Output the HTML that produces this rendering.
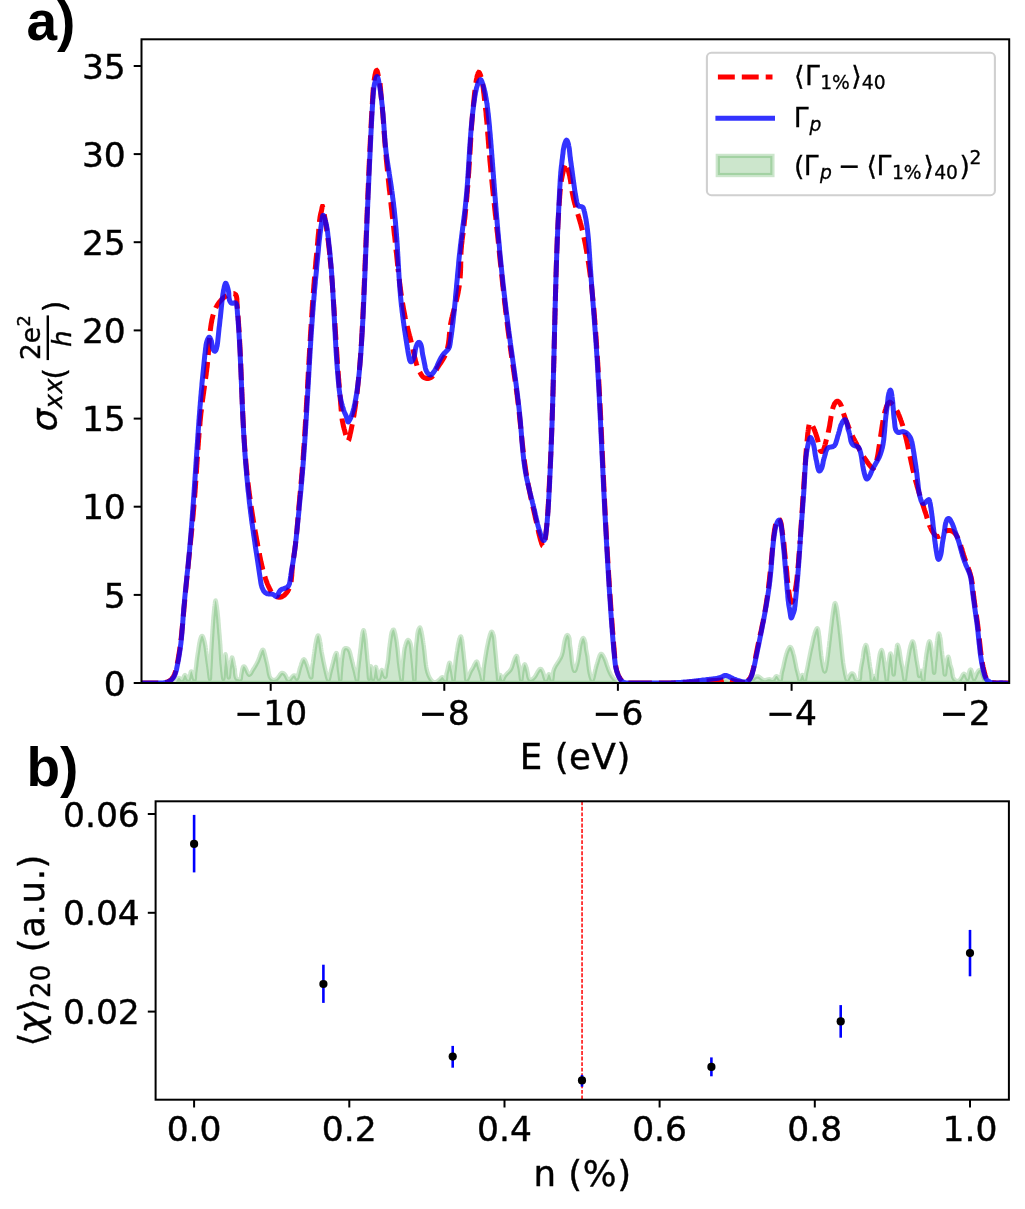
<!DOCTYPE html>
<html><head><meta charset="utf-8"><title>figure</title>
<style>html,body{margin:0;padding:0;background:#fff}svg{display:block}</style>
</head><body>
<svg width="1025" height="1209" viewBox="0 0 1025 1209">
<rect width="1025" height="1209" fill="#fff"/>
<defs><clipPath id="c1"><rect x="141.5" y="39.3" width="867.7" height="643.7"/></clipPath></defs>
<g clip-path="url(#c1)">
<path d="M173.0 683.0L174.0 683.2 175.0 682.8 175.8 682.0 176.5 680.9 177.1 679.8 177.8 678.8 178.4 678.1 179.0 677.8 179.6 678.1 180.3 678.9 181.0 679.7 181.6 680.2 182.2 680.1 182.7 679.4 183.2 678.3 183.7 677.1 184.1 675.9 184.6 675.2 185.0 674.9 185.5 675.4 186.1 676.3 186.6 677.5 187.1 678.7 187.6 679.6 188.1 680.1 188.5 680.0 188.8 679.3 189.2 678.2 189.5 676.9 189.8 675.5 190.2 674.1 190.5 672.8 190.8 671.9 191.2 671.3 191.5 671.3 191.9 671.8 192.2 672.7 192.5 673.9 192.9 675.3 193.3 676.6 193.6 677.9 194.0 678.9 194.3 679.6 194.5 679.7 194.7 679.3 194.9 678.5 195.0 677.4 195.0 676.1 195.1 674.7 195.2 673.5 195.3 672.4 195.5 671.4 195.6 670.4 195.7 669.5 195.8 668.6 195.9 667.6 196.1 666.7 196.2 665.7 196.3 664.7 196.4 663.7 196.5 662.7 196.6 661.7 196.7 660.7 196.9 659.7 197.0 658.7 197.1 657.7 197.3 656.7 197.4 655.7 197.6 654.7 197.7 653.7 197.9 652.7 198.1 651.7 198.2 650.7 198.4 649.8 198.5 648.8 198.6 647.9 198.8 646.9 198.9 646.0 199.1 645.0 199.2 644.0 199.4 643.0 199.7 641.8 199.9 640.5 200.3 639.2 200.7 638.0 201.0 637.0 201.5 636.2 201.9 635.8 202.3 635.8 202.7 636.3 203.1 637.1 203.5 638.2 203.9 639.3 204.2 640.4 204.5 641.4 204.7 642.5 204.9 643.5 205.1 644.4 205.3 645.4 205.5 646.4 205.6 647.3 205.8 648.3 205.9 649.2 206.0 650.2 206.1 651.1 206.3 652.1 206.4 653.1 206.5 654.1 206.6 655.1 206.8 656.1 206.9 657.2 207.1 658.2 207.2 659.3 207.3 660.3 207.5 661.3 207.6 662.3 207.7 663.2 207.9 664.2 208.0 665.1 208.1 666.0 208.3 666.9 208.4 667.8 208.5 668.8 208.7 669.8 208.8 670.8 208.9 671.9 209.1 673.1 209.2 674.3 209.4 675.6 209.5 676.8 209.7 677.8 209.8 678.6 209.9 678.9 210.0 678.7 210.0 678.2 210.1 677.2 210.1 676.1 210.2 674.8 210.2 673.4 210.2 672.1 210.3 670.9 210.3 669.7 210.4 668.7 210.5 667.7 210.5 666.8 210.6 665.9 210.6 664.9 210.7 664.0 210.7 663.1 210.8 662.1 210.8 661.1 210.9 660.1 210.9 659.1 211.0 658.2 211.0 657.2 211.0 656.2 211.1 655.2 211.1 654.2 211.2 653.1 211.2 652.1 211.3 651.1 211.3 650.1 211.4 649.1 211.5 648.1 211.5 647.1 211.6 646.1 211.6 645.1 211.7 644.0 211.7 643.0 211.8 642.0 211.9 641.0 211.9 640.0 212.0 639.0 212.0 638.0 212.1 637.0 212.2 636.0 212.2 635.0 212.3 634.0 212.4 633.0 212.4 632.0 212.5 631.0 212.5 630.0 212.6 629.0 212.7 628.0 212.7 627.0 212.8 626.1 212.9 625.1 212.9 624.1 213.0 623.1 213.1 622.2 213.1 621.2 213.2 620.3 213.3 619.3 213.4 618.3 213.4 617.4 213.5 616.4 213.6 615.4 213.7 614.4 213.8 613.4 213.9 612.4 214.0 611.3 214.1 610.3 214.2 609.2 214.3 608.1 214.4 607.0 214.6 605.8 214.7 604.7 214.9 603.5 215.0 602.3 215.2 601.4 215.4 600.7 215.6 600.4 215.7 600.6 215.9 601.2 216.1 602.1 216.3 603.3 216.5 604.5 216.7 605.6 216.8 606.7 217.0 607.7 217.1 608.7 217.2 609.7 217.4 610.6 217.5 611.6 217.6 612.6 217.7 613.5 217.8 614.5 217.9 615.5 218.0 616.5 218.1 617.5 218.2 618.5 218.3 619.5 218.4 620.5 218.4 621.5 218.5 622.5 218.6 623.5 218.7 624.6 218.8 625.6 218.8 626.6 218.9 627.6 219.0 628.6 219.1 629.6 219.2 630.6 219.2 631.6 219.3 632.5 219.4 633.5 219.5 634.5 219.6 635.5 219.7 636.5 219.7 637.4 219.8 638.4 219.9 639.4 220.0 640.4 220.1 641.4 220.1 642.4 220.2 643.4 220.3 644.4 220.4 645.4 220.4 646.4 220.5 647.5 220.5 648.5 220.6 649.5 220.7 650.5 220.7 651.6 220.8 652.6 220.8 653.6 220.9 654.6 221.0 655.6 221.0 656.6 221.1 657.6 221.1 658.6 221.2 659.5 221.3 660.5 221.4 661.4 221.4 662.3 221.5 663.2 221.6 664.2 221.7 665.1 221.8 666.1 221.9 667.0 222.0 668.1 222.1 669.1 222.2 670.2 222.3 671.4 222.5 672.6 222.6 673.9 222.8 675.2 222.9 676.5 223.1 677.5 223.2 678.3 223.3 678.8 223.5 678.8 223.5 678.4 223.6 677.6 223.7 676.5 223.8 675.3 223.9 674.0 223.9 672.7 224.0 671.6 224.1 670.5 224.2 669.4 224.3 668.5 224.3 667.6 224.4 666.7 224.5 665.8 224.6 664.9 224.7 664.0 224.8 663.1 224.9 662.0 224.9 660.8 225.0 659.5 225.1 658.2 225.1 656.8 225.2 655.7 225.3 654.8 225.4 654.2 225.5 654.2 225.7 654.7 225.9 655.5 226.0 656.7 226.2 658.0 226.4 659.3 226.6 660.5 226.7 661.6 226.9 662.6 227.0 663.5 227.2 664.4 227.3 665.3 227.4 666.1 227.6 667.0 227.7 668.0 227.8 669.0 227.9 670.0 228.0 671.2 228.1 672.6 228.2 673.9 228.3 675.2 228.4 676.3 228.5 677.1 228.6 677.5 228.8 677.5 228.9 677.0 229.0 676.1 229.2 674.9 229.3 673.6 229.4 672.3 229.5 671.0 229.6 669.8 229.7 668.8 229.9 667.8 230.0 666.9 230.1 666.0 230.3 665.1 230.5 664.2 230.7 663.2 230.9 662.2 231.1 661.1 231.4 659.9 231.6 658.7 231.8 657.9 232.0 657.4 232.3 657.6 232.5 658.2 232.8 659.2 233.1 660.4 233.3 661.8 233.6 663.1 233.8 664.4 234.0 665.4 234.3 666.4 234.5 667.2 234.6 668.1 234.8 669.0 234.9 670.0 235.0 671.1 235.0 672.3 235.1 673.4 235.3 674.5 235.4 675.6 235.6 676.6 235.9 677.4 236.2 678.2 236.6 678.7 237.1 679.0 237.7 679.2 238.4 679.3 239.1 679.6 239.8 679.7 240.3 679.5 240.7 679.0 240.9 678.1 241.0 677.1 241.1 676.1 241.2 675.0 241.4 674.0 241.6 673.0 241.8 671.9 242.0 670.8 242.2 669.6 242.5 668.4 242.9 667.3 243.3 666.6 243.8 666.3 244.4 666.5 245.0 667.2 245.6 668.2 246.2 669.4 246.7 670.6 247.2 671.8 247.7 672.9 248.2 673.8 248.7 674.5 249.2 674.8 249.7 674.6 250.3 674.1 250.9 673.4 251.5 672.4 252.1 671.3 252.7 670.2 253.3 669.2 253.9 668.3 254.5 667.4 255.0 666.5 255.5 665.6 256.0 664.8 256.4 664.0 256.8 663.3 257.2 662.5 257.6 661.7 258.0 660.9 258.3 660.1 258.7 659.2 259.0 658.2 259.4 657.2 259.8 656.1 260.2 654.9 260.6 653.7 261.0 652.6 261.5 651.5 261.9 650.7 262.3 650.0 262.7 649.7 263.1 649.7 263.5 650.1 263.8 650.8 264.1 651.7 264.4 652.8 264.7 653.9 265.0 655.1 265.2 656.2 265.5 657.2 265.7 658.3 266.0 659.2 266.2 660.2 266.4 661.2 266.7 662.1 266.9 663.0 267.1 663.9 267.3 664.8 267.5 665.8 267.7 666.7 267.9 667.7 268.1 668.7 268.2 669.7 268.4 670.8 268.6 671.9 268.8 673.0 269.0 674.1 269.3 675.1 269.6 676.1 269.9 677.0 270.4 677.9 270.9 678.6 271.5 679.2 272.2 679.6 273.1 679.9 274.0 679.9 274.9 679.8 275.9 679.5 276.7 678.9 277.5 678.1 278.2 677.2 278.9 676.2 279.6 675.2 280.2 674.3 280.9 673.6 281.6 673.1 282.3 672.8 283.0 673.0 283.8 673.4 284.6 674.1 285.3 675.0 285.9 676.1 286.5 677.3 287.0 678.4 287.5 679.3 288.0 680.0 288.6 680.2 289.2 680.0 289.9 679.4 290.7 678.5 291.5 677.5 292.3 676.5 293.1 675.8 293.9 675.3 294.7 675.4 295.3 676.1 295.8 677.0 296.2 678.0 296.6 678.6 297.0 678.6 297.3 678.0 297.7 677.0 298.0 675.8 298.3 674.6 298.6 673.6 298.8 672.6 299.1 671.6 299.3 670.7 299.5 669.7 299.8 668.8 300.0 667.9 300.3 667.0 300.6 666.1 300.9 665.1 301.2 664.0 301.6 662.9 302.1 661.8 302.5 660.7 303.0 659.8 303.6 659.3 304.1 659.2 304.6 659.7 305.1 660.5 305.6 661.6 306.1 662.7 306.5 663.8 306.9 664.8 307.2 665.8 307.5 666.7 307.8 667.6 308.1 668.5 308.3 669.4 308.6 670.3 308.9 671.3 309.2 672.3 309.5 673.3 309.8 674.5 310.2 675.6 310.5 676.6 310.9 677.3 311.1 677.5 311.4 677.2 311.5 676.4 311.6 675.3 311.7 674.0 311.8 672.6 311.9 671.3 311.9 670.0 312.0 668.9 312.2 667.9 312.3 666.9 312.4 666.0 312.5 665.1 312.7 664.2 312.8 663.3 313.0 662.3 313.1 661.3 313.2 660.4 313.4 659.4 313.5 658.4 313.6 657.4 313.8 656.4 313.9 655.3 314.0 654.3 314.2 653.3 314.3 652.3 314.5 651.3 314.6 650.3 314.7 649.3 314.9 648.3 315.0 647.4 315.2 646.4 315.3 645.5 315.4 644.6 315.6 643.6 315.8 642.7 316.0 641.7 316.2 640.6 316.5 639.3 316.8 638.1 317.1 636.9 317.5 636.0 317.9 635.4 318.3 635.4 318.6 635.8 319.0 636.6 319.3 637.7 319.6 639.0 319.9 640.3 320.1 641.6 320.3 642.7 320.5 643.7 320.6 644.6 320.7 645.6 320.8 646.4 320.9 647.3 321.1 648.3 321.2 649.3 321.4 650.3 321.5 651.3 321.7 652.4 321.9 653.4 322.1 654.4 322.3 655.5 322.5 656.5 322.7 657.4 322.9 658.4 323.1 659.3 323.2 660.3 323.4 661.2 323.6 662.1 323.8 663.0 324.0 663.9 324.2 664.9 324.4 665.8 324.6 666.7 324.8 667.7 325.0 668.7 325.3 669.7 325.5 670.7 325.8 671.8 326.0 672.9 326.3 674.1 326.6 675.3 326.9 676.5 327.2 677.6 327.5 678.6 327.9 679.4 328.2 679.9 328.5 679.9 328.8 679.5 329.0 678.8 329.3 677.7 329.6 676.5 329.8 675.3 330.1 674.1 330.3 673.0 330.6 672.0 330.8 671.1 331.0 670.1 331.3 669.2 331.5 668.3 331.8 667.4 332.0 666.4 332.3 665.5 332.5 664.5 332.8 663.5 333.1 662.6 333.3 661.6 333.6 660.6 333.8 659.6 334.0 658.7 334.3 657.7 334.6 656.6 334.9 655.5 335.3 654.5 335.8 653.6 336.2 653.0 336.6 653.1 336.9 653.6 337.1 654.5 337.3 655.6 337.5 656.9 337.7 658.0 337.8 659.2 338.0 660.3 338.1 661.3 338.2 662.3 338.3 663.3 338.4 664.3 338.4 665.2 338.5 666.2 338.6 667.1 338.7 668.0 338.8 669.0 338.9 669.9 339.0 670.9 339.2 671.9 339.3 672.9 339.5 674.0 339.6 675.1 339.7 676.3 339.9 677.6 340.0 678.7 340.1 679.5 340.2 680.0 340.3 679.9 340.4 679.4 340.5 678.5 340.5 677.4 340.6 676.1 340.7 674.8 340.8 673.5 340.9 672.3 341.0 671.2 341.1 670.1 341.1 669.1 341.2 668.1 341.3 667.1 341.4 666.2 341.5 665.3 341.6 664.4 341.6 663.5 341.7 662.6 341.8 661.6 341.9 660.7 342.0 659.7 342.1 658.8 342.3 657.7 342.4 656.7 342.5 655.7 342.7 654.6 342.9 653.5 343.1 652.3 343.3 651.2 343.6 650.1 344.0 649.3 344.5 648.6 345.2 648.2 345.9 648.1 346.7 648.2 347.5 648.5 348.2 649.0 348.8 649.7 349.2 650.6 349.7 651.5 350.0 652.5 350.3 653.6 350.6 654.7 350.8 655.8 351.1 656.8 351.3 657.8 351.6 658.8 351.8 659.8 352.1 660.8 352.3 661.8 352.5 662.7 352.8 663.7 353.0 664.6 353.2 665.5 353.4 666.5 353.7 667.4 353.9 668.3 354.2 669.2 354.4 670.1 354.7 671.1 354.9 672.0 355.2 673.1 355.4 674.2 355.7 675.5 356.0 676.8 356.3 678.0 356.5 679.0 356.8 679.8 357.0 680.1 357.1 680.0 357.3 679.4 357.4 678.4 357.5 677.3 357.6 676.0 357.6 674.6 357.7 673.3 357.8 672.2 358.0 671.1 358.1 670.1 358.2 669.2 358.3 668.3 358.4 667.4 358.5 666.5 358.6 665.5 358.7 664.5 358.8 663.6 358.9 662.6 359.0 661.6 359.2 660.6 359.3 659.5 359.4 658.5 359.5 657.5 359.6 656.5 359.7 655.5 359.8 654.5 360.0 653.5 360.1 652.5 360.2 651.5 360.3 650.5 360.4 649.5 360.6 648.5 360.7 647.5 360.8 646.5 360.9 645.5 361.0 644.6 361.1 643.6 361.2 642.7 361.3 641.8 361.4 640.9 361.5 639.9 361.6 638.9 361.7 637.8 361.9 636.7 362.1 635.4 362.3 634.1 362.6 632.8 362.8 631.6 363.1 630.7 363.4 630.1 363.7 630.1 363.9 630.5 364.2 631.4 364.4 632.5 364.7 633.7 364.9 634.8 365.0 635.9 365.2 636.9 365.3 637.9 365.5 638.9 365.6 639.8 365.7 640.8 365.8 641.7 365.9 642.7 366.0 643.6 366.1 644.6 366.1 645.6 366.2 646.6 366.3 647.6 366.4 648.6 366.5 649.7 366.6 650.7 366.7 651.7 366.8 652.8 366.9 653.8 367.0 654.8 367.1 655.8 367.2 656.8 367.2 657.8 367.3 658.8 367.4 659.8 367.5 660.7 367.6 661.7 367.7 662.6 367.8 663.5 367.9 664.5 367.9 665.4 368.0 666.3 368.1 667.3 368.2 668.3 368.3 669.4 368.4 670.5 368.4 671.6 368.5 672.8 368.6 674.1 368.7 675.4 368.8 676.6 368.9 677.6 369.0 678.4 369.1 678.8 369.2 678.8 369.3 678.4 369.4 677.6 369.5 676.6 369.7 675.3 369.8 673.9 369.9 672.4 370.1 671.0 370.2 669.6 370.3 668.3 370.5 667.3 370.6 666.6 370.8 666.2 370.9 666.3 371.1 666.8 371.3 667.6 371.5 668.7 371.6 670.0 371.8 671.4 372.0 672.9 372.1 674.3 372.3 675.7 372.5 676.9 372.7 677.9 372.8 678.6 373.0 679.0 373.2 678.9 373.5 678.4 373.7 677.5 373.9 676.4 374.1 675.1 374.3 673.7 374.6 672.2 374.8 670.8 375.0 669.5 375.2 668.4 375.4 667.5 375.6 667.0 375.9 666.9 376.1 667.2 376.3 668.0 376.6 669.0 376.8 670.2 377.1 671.6 377.3 673.0 377.5 674.5 377.8 675.9 378.0 677.1 378.2 678.1 378.5 678.8 378.8 679.0 379.0 678.8 379.4 678.1 379.7 677.0 380.0 675.8 380.3 674.4 380.6 673.0 381.0 671.7 381.3 670.7 381.6 670.0 381.9 669.9 382.3 670.3 382.7 671.2 383.2 672.3 383.6 673.6 384.0 674.9 384.5 675.9 384.9 676.6 385.2 676.9 385.5 676.6 385.7 675.9 385.9 674.9 386.0 673.6 386.2 672.3 386.3 670.9 386.4 669.6 386.6 668.4 386.8 667.4 387.0 666.4 387.1 665.5 387.3 664.6 387.5 663.7 387.7 662.8 387.8 661.8 387.9 660.9 388.1 659.9 388.2 658.9 388.3 657.9 388.4 656.9 388.5 655.9 388.6 654.9 388.7 653.8 388.8 652.8 388.9 651.8 389.0 650.8 389.1 649.8 389.2 648.8 389.3 647.8 389.5 646.9 389.6 645.9 389.7 644.9 389.8 643.9 390.0 642.9 390.1 642.0 390.2 641.0 390.4 640.0 390.5 639.0 390.7 638.0 390.8 637.0 390.9 636.0 391.1 635.0 391.3 634.0 391.5 632.9 391.8 631.9 392.3 630.9 392.7 630.1 393.2 629.6 393.7 629.7 394.1 630.2 394.4 631.1 394.7 632.2 395.0 633.3 395.3 634.4 395.5 635.5 395.7 636.6 395.9 637.6 396.1 638.6 396.3 639.6 396.5 640.6 396.6 641.6 396.8 642.6 396.9 643.5 397.0 644.5 397.1 645.5 397.2 646.4 397.4 647.4 397.5 648.3 397.6 649.3 397.7 650.3 397.8 651.3 397.9 652.3 398.0 653.3 398.1 654.3 398.2 655.3 398.3 656.3 398.4 657.3 398.5 658.3 398.6 659.3 398.7 660.4 398.8 661.4 398.9 662.4 399.0 663.4 399.2 664.4 399.3 665.4 399.4 666.3 399.5 667.3 399.7 668.3 399.8 669.2 399.9 670.2 400.1 671.1 400.2 672.1 400.4 673.1 400.5 674.2 400.7 675.4 400.9 676.6 401.1 677.8 401.3 678.8 401.4 679.5 401.6 679.9 401.7 679.8 401.8 679.3 401.9 678.5 402.0 677.5 402.0 676.3 402.1 675.0 402.2 673.7 402.2 672.5 402.3 671.3 402.4 670.2 402.4 669.1 402.5 668.0 402.6 667.0 402.7 666.0 402.7 665.0 402.8 664.0 402.9 663.0 403.0 662.1 403.1 661.2 403.2 660.2 403.3 659.3 403.4 658.4 403.5 657.5 403.6 656.5 403.7 655.6 403.8 654.6 403.9 653.6 404.0 652.7 404.1 651.7 404.3 650.6 404.4 649.6 404.6 648.6 404.8 647.5 405.1 646.5 405.4 645.4 405.7 644.4 406.0 643.3 406.4 642.2 406.8 641.2 407.3 640.4 407.8 639.9 408.4 639.9 408.9 640.4 409.5 641.2 410.0 642.2 410.4 643.3 410.7 644.3 410.9 645.3 411.0 646.3 411.2 647.2 411.3 648.2 411.4 649.2 411.5 650.2 411.6 651.2 411.7 652.2 411.8 653.2 412.0 654.3 412.1 655.3 412.2 656.3 412.3 657.3 412.4 658.4 412.5 659.4 412.6 660.4 412.7 661.3 412.8 662.3 412.9 663.2 413.0 664.2 413.1 665.1 413.1 666.0 413.2 666.9 413.3 667.8 413.4 668.8 413.5 669.8 413.6 670.9 413.6 672.0 413.7 673.1 413.8 674.4 413.9 675.7 414.0 677.0 414.1 678.2 414.2 679.3 414.3 680.0 414.4 680.3 414.4 680.2 414.5 679.7 414.6 678.7 414.6 677.6 414.6 676.3 414.7 675.0 414.7 673.8 414.8 672.7 414.8 671.7 414.8 670.7 414.9 669.8 414.9 668.8 415.0 667.9 415.0 666.9 415.1 665.9 415.2 664.9 415.2 663.9 415.3 662.9 415.3 661.9 415.4 660.9 415.4 659.9 415.4 658.9 415.5 657.9 415.5 656.9 415.5 655.9 415.6 654.9 415.6 653.9 415.6 652.9 415.7 651.9 415.7 650.9 415.8 649.9 415.9 648.9 415.9 647.9 416.0 646.9 416.1 645.9 416.2 644.9 416.3 643.9 416.4 642.9 416.6 641.9 416.7 641.0 416.8 640.0 416.9 639.0 417.0 638.0 417.1 637.0 417.2 636.0 417.3 635.0 417.4 634.0 417.6 633.0 417.8 632.0 418.0 630.9 418.4 629.8 418.8 628.8 419.3 628.0 419.7 627.5 420.1 627.5 420.4 628.0 420.7 628.8 421.0 629.8 421.2 630.8 421.4 631.9 421.7 633.0 421.9 634.1 422.1 635.1 422.3 636.2 422.4 637.2 422.6 638.2 422.8 639.2 422.9 640.3 423.1 641.3 423.2 642.3 423.4 643.3 423.5 644.3 423.7 645.3 423.8 646.3 423.9 647.2 424.0 648.2 424.1 649.2 424.3 650.2 424.4 651.1 424.5 652.1 424.6 653.1 424.7 654.1 424.8 655.0 424.9 656.0 425.0 657.0 425.1 658.0 425.2 658.9 425.3 659.9 425.4 660.9 425.5 661.9 425.7 662.9 425.8 663.9 425.9 664.8 426.1 665.8 426.2 666.8 426.4 667.8 426.6 668.8 426.8 669.8 427.1 670.8 427.3 671.8 427.6 672.8 428.0 673.8 428.3 674.7 428.7 675.7 429.2 676.7 429.7 677.7 430.2 678.6 430.7 679.5 431.3 680.3 432.0 681.0 432.7 681.5 433.4 682.0 434.2 682.2 435.0 682.3 435.9 682.1 436.8 681.7 437.8 681.1 438.8 680.2 439.8 679.2 440.6 678.4 441.2 677.7 441.8 677.3 442.2 677.1 442.7 677.3 443.2 677.8 443.8 678.6 444.5 679.6 445.1 680.3 445.5 680.3 445.9 679.7 446.1 678.6 446.2 677.2 446.3 675.9 446.4 674.7 446.6 673.7 446.7 672.9 447.0 672.1 447.2 671.2 447.4 670.3 447.7 669.1 448.0 667.8 448.2 666.5 448.5 665.3 448.8 664.2 449.1 663.3 449.4 662.7 449.6 662.6 449.9 662.9 450.2 663.6 450.4 664.5 450.7 665.6 450.9 666.6 451.1 667.6 451.3 668.5 451.6 669.5 451.8 670.4 452.0 671.4 452.2 672.3 452.3 673.4 452.5 674.5 452.7 675.8 452.9 677.0 453.1 678.2 453.2 679.2 453.4 679.9 453.5 680.1 453.6 679.8 453.8 679.1 453.9 678.0 454.0 676.8 454.1 675.4 454.2 674.1 454.3 672.9 454.4 671.8 454.6 670.7 454.7 669.8 454.8 668.9 454.9 668.0 455.0 667.0 455.1 666.1 455.2 665.1 455.3 664.2 455.4 663.2 455.5 662.2 455.6 661.2 455.7 660.1 455.9 659.1 456.0 658.1 456.1 657.1 456.3 656.1 456.4 655.1 456.6 654.1 456.7 653.1 456.9 652.1 457.1 651.1 457.2 650.2 457.3 649.2 457.5 648.3 457.6 647.4 457.8 646.4 457.9 645.5 458.1 644.5 458.3 643.4 458.6 642.4 458.8 641.2 459.1 640.0 459.5 638.8 459.8 637.8 460.2 636.9 460.5 636.5 460.9 636.4 461.2 636.9 461.5 637.7 461.7 638.7 462.0 639.9 462.2 641.3 462.4 642.6 462.5 643.8 462.6 644.9 462.7 645.9 462.8 646.8 462.9 647.7 463.0 648.7 463.1 649.6 463.2 650.6 463.4 651.6 463.5 652.6 463.6 653.6 463.7 654.6 463.8 655.6 463.9 656.6 464.0 657.6 464.1 658.6 464.2 659.6 464.4 660.6 464.5 661.6 464.6 662.6 464.7 663.6 464.8 664.6 464.9 665.6 465.0 666.5 465.1 667.5 465.2 668.5 465.3 669.5 465.4 670.5 465.5 671.4 465.6 672.4 465.7 673.5 465.8 674.6 465.9 675.8 465.9 676.9 466.0 678.1 466.1 679.0 466.3 679.7 466.5 680.0 466.9 679.8 467.2 679.3 467.7 678.5 468.2 677.5 468.7 676.3 469.2 675.0 469.7 673.7 470.2 672.5 470.7 671.4 471.2 670.5 471.6 669.9 472.0 669.3 472.4 668.7 472.8 667.9 473.3 667.0 473.9 665.8 474.4 664.6 475.0 663.5 475.6 662.5 476.1 661.8 476.6 661.5 477.0 661.7 477.4 662.3 477.7 663.2 478.0 664.3 478.3 665.4 478.6 666.5 478.9 667.5 479.2 668.5 479.5 669.4 479.8 670.3 480.1 671.1 480.4 672.1 480.6 673.0 480.9 674.1 481.2 675.2 481.5 676.4 481.7 677.7 482.0 678.8 482.2 679.7 482.4 680.1 482.6 679.9 482.8 679.3 482.9 678.2 483.0 677.0 483.1 675.7 483.2 674.4 483.3 673.3 483.4 672.3 483.5 671.3 483.5 670.4 483.6 669.5 483.7 668.5 483.8 667.6 484.0 666.6 484.1 665.6 484.2 664.6 484.4 663.6 484.5 662.6 484.7 661.6 484.8 660.6 485.0 659.5 485.1 658.5 485.3 657.5 485.5 656.5 485.6 655.5 485.8 654.5 486.0 653.5 486.1 652.5 486.3 651.6 486.4 650.6 486.6 649.7 486.8 648.8 486.9 647.9 487.1 646.9 487.3 646.0 487.5 645.1 487.7 644.1 487.9 643.2 488.1 642.2 488.3 641.2 488.6 640.1 488.8 639.1 489.1 638.0 489.4 636.8 489.7 635.7 490.0 634.5 490.4 633.5 490.7 632.6 491.1 632.0 491.5 631.6 491.9 631.6 492.3 632.1 492.7 632.8 493.0 633.7 493.4 634.7 493.7 635.7 493.9 636.8 494.1 637.8 494.2 638.8 494.3 639.8 494.4 640.8 494.5 641.8 494.6 642.8 494.6 643.8 494.7 644.8 494.8 645.8 494.9 646.8 495.0 647.8 495.1 648.8 495.2 649.8 495.3 650.8 495.4 651.8 495.5 652.8 495.6 653.8 495.7 654.8 495.8 655.7 495.9 656.7 496.0 657.7 496.1 658.7 496.2 659.7 496.3 660.7 496.3 661.7 496.4 662.8 496.5 663.8 496.6 664.8 496.7 665.8 496.7 666.8 496.9 667.8 497.0 668.7 497.1 669.6 497.2 670.5 497.3 671.4 497.5 672.4 497.6 673.5 497.7 674.8 497.8 676.1 497.9 677.5 498.0 678.8 498.1 679.7 498.3 680.1 498.5 679.9 498.8 679.1 499.1 677.9 499.4 676.6 499.8 675.6 500.2 675.0 500.5 675.1 500.9 675.9 501.3 677.1 501.6 678.4 502.0 679.5 502.3 680.2 502.7 680.2 503.1 679.7 503.5 678.7 504.0 677.6 504.6 676.5 505.2 675.6 505.9 674.8 506.6 674.0 507.3 673.3 508.0 672.6 508.7 671.9 509.4 671.2 510.0 670.5 510.6 669.8 511.0 669.0 511.4 668.2 511.8 667.3 512.1 666.4 512.4 665.5 512.7 664.5 513.0 663.5 513.3 662.5 513.6 661.5 514.0 660.5 514.4 659.4 514.8 658.4 515.3 657.3 515.8 656.4 516.3 655.9 516.7 655.8 517.0 656.2 517.3 657.0 517.4 658.1 517.6 659.3 517.8 660.6 518.0 661.8 518.2 662.9 518.5 663.9 518.7 664.9 518.9 665.8 519.1 666.7 519.3 667.6 519.5 668.5 519.7 669.4 519.8 670.3 519.9 671.3 520.1 672.3 520.2 673.4 520.3 674.5 520.5 675.7 520.6 677.0 520.8 678.2 520.9 679.2 521.1 679.9 521.3 680.1 521.4 679.7 521.6 678.9 521.7 677.8 521.9 676.5 522.0 675.2 522.2 674.0 522.3 673.0 522.4 672.0 522.6 671.1 522.8 670.1 523.0 669.0 523.2 667.8 523.6 666.5 523.9 665.4 524.3 664.6 524.7 664.2 525.1 664.5 525.5 665.2 525.9 666.3 526.3 667.4 526.6 668.5 526.9 669.4 527.1 670.3 527.3 671.3 527.5 672.2 527.7 673.2 527.9 674.3 528.1 675.4 528.3 676.5 528.6 677.6 528.9 678.5 529.3 679.2 529.9 679.7 530.5 679.9 531.2 679.8 531.9 679.5 532.7 679.0 533.5 678.2 534.3 677.4 535.0 676.4 535.7 675.4 536.3 674.3 536.9 673.2 537.5 672.2 538.1 671.2 538.6 670.4 539.1 669.7 539.7 669.2 540.2 668.9 540.7 668.9 541.2 669.1 541.7 669.7 542.2 670.4 542.6 671.3 543.1 672.4 543.5 673.7 543.9 675.0 544.3 676.5 544.7 677.8 545.1 679.0 545.4 679.8 545.8 680.2 546.2 680.1 546.6 679.3 547.0 678.3 547.5 677.0 547.9 675.8 548.4 674.8 548.8 674.2 549.3 674.3 549.7 674.9 550.2 676.0 550.6 677.3 551.0 678.6 551.4 679.6 551.7 680.3 552.0 680.4 552.2 680.0 552.4 679.0 552.6 677.8 552.7 676.5 552.9 675.1 553.0 673.8 553.1 672.7 553.3 671.7 553.5 670.8 553.8 669.9 554.1 669.1 554.4 668.2 554.9 667.4 555.3 666.5 555.8 665.6 556.4 664.8 556.9 663.9 557.5 663.0 558.1 662.2 558.6 661.3 559.2 660.4 559.7 659.5 560.2 658.6 560.7 657.8 561.1 656.9 561.5 656.0 561.8 655.1 562.1 654.2 562.3 653.3 562.6 652.4 562.8 651.5 562.9 650.6 563.1 649.7 563.3 648.7 563.4 647.7 563.6 646.8 563.7 645.7 563.9 644.7 564.1 643.6 564.3 642.5 564.5 641.4 564.8 640.3 565.1 639.1 565.4 638.0 565.8 637.0 566.2 636.1 566.6 635.4 567.0 635.1 567.5 635.0 568.0 635.3 568.4 635.9 568.9 636.7 569.2 637.6 569.5 638.6 569.6 639.6 569.7 640.6 569.8 641.7 569.8 642.7 569.9 643.8 570.0 644.9 570.1 645.9 570.3 647.0 570.5 648.0 570.6 649.0 570.8 650.0 570.9 650.9 571.0 651.9 571.1 652.8 571.2 653.8 571.3 654.7 571.4 655.6 571.5 656.6 571.6 657.5 571.7 658.5 571.8 659.5 571.9 660.5 572.0 661.5 572.2 662.6 572.3 663.6 572.5 664.8 572.8 665.9 573.0 667.1 573.3 668.3 573.6 669.4 574.0 670.3 574.3 670.8 574.7 670.9 575.1 670.5 575.5 669.7 575.9 668.7 576.2 667.5 576.5 666.5 576.8 665.4 577.1 664.5 577.3 663.5 577.6 662.6 577.8 661.6 578.0 660.6 578.2 659.6 578.4 658.7 578.5 657.7 578.7 656.7 578.8 655.7 579.0 654.7 579.1 653.7 579.3 652.8 579.4 651.8 579.5 650.8 579.7 649.8 579.8 648.8 580.0 647.8 580.1 646.8 580.3 645.8 580.5 644.8 580.7 643.8 581.0 642.8 581.2 641.8 581.6 640.8 581.9 639.8 582.3 638.9 582.8 638.2 583.3 638.0 583.8 638.5 584.3 639.4 584.7 640.5 585.0 641.6 585.3 642.6 585.5 643.7 585.6 644.6 585.7 645.6 585.8 646.5 585.9 647.5 586.0 648.5 586.1 649.5 586.3 650.5 586.5 651.5 586.7 652.6 586.9 653.6 587.1 654.6 587.3 655.6 587.5 656.6 587.6 657.6 587.7 658.5 587.8 659.5 587.9 660.4 588.0 661.4 588.1 662.3 588.2 663.2 588.3 664.2 588.4 665.1 588.5 666.1 588.7 667.1 588.8 668.1 588.9 669.1 589.1 670.1 589.3 671.2 589.5 672.3 589.7 673.4 590.0 674.5 590.3 675.7 590.6 676.9 591.0 678.0 591.3 679.0 591.7 679.8 592.1 680.2 592.4 680.2 592.7 679.9 593.1 679.1 593.4 678.2 593.7 677.0 594.0 675.8 594.2 674.6 594.5 673.5 594.7 672.4 595.0 671.4 595.2 670.4 595.4 669.5 595.7 668.5 595.9 667.6 596.1 666.8 596.4 665.9 596.6 665.0 596.9 664.1 597.2 663.1 597.5 662.2 597.8 661.2 598.1 660.2 598.4 659.1 598.8 657.9 599.2 656.7 599.6 655.6 600.1 654.7 600.6 654.0 601.2 653.8 601.7 654.0 602.4 654.6 603.0 655.5 603.6 656.6 604.1 657.6 604.6 658.7 605.0 659.6 605.4 660.6 605.7 661.5 606.0 662.4 606.3 663.3 606.6 664.2 606.9 665.2 607.2 666.1 607.6 667.0 607.9 668.0 608.2 668.9 608.6 669.8 609.0 670.8 609.4 671.7 609.8 672.6 610.2 673.5 610.7 674.4 611.2 675.2 611.7 676.1 612.3 676.9 612.9 677.7 613.5 678.5 614.2 679.2 614.9 679.9 615.7 680.6 616.5 681.2 617.3 681.7 618.2 682.2 619.1 682.7 620.0 683.0Z" fill="#008000" fill-opacity=".2" stroke="#008000" stroke-opacity=".2" stroke-width="4.3" stroke-linejoin="round"/>
<path d="M748.0 682.9L748.8 682.8 749.7 682.4 750.5 681.8 751.3 681.1 752.1 680.3 752.9 679.4 753.7 678.6 754.5 677.8 755.3 677.2 756.1 676.7 757.0 676.4 757.8 676.4 758.6 676.6 759.4 677.1 760.3 677.7 761.1 678.4 762.0 679.1 762.8 679.7 763.7 680.1 764.6 680.3 765.5 680.2 766.4 679.9 767.4 679.5 768.3 679.3 769.3 679.2 770.2 679.3 771.2 679.8 772.1 680.1 773.0 680.0 773.7 679.4 774.4 678.5 775.0 677.5 775.6 676.6 776.2 676.1 776.9 676.1 777.6 676.7 778.3 677.7 778.9 678.8 779.6 679.7 780.1 680.3 780.5 680.3 780.8 679.8 781.0 678.8 781.2 677.5 781.3 676.2 781.5 675.0 781.6 674.0 781.8 673.0 782.0 672.1 782.2 671.2 782.5 670.3 782.7 669.3 783.0 668.2 783.3 667.2 783.5 666.1 783.7 665.1 783.9 664.2 784.1 663.2 784.3 662.3 784.5 661.4 784.7 660.5 784.9 659.6 785.1 658.7 785.3 657.8 785.6 656.8 785.8 655.9 786.1 654.9 786.4 653.8 786.8 652.8 787.2 651.6 787.6 650.5 788.1 649.4 788.6 648.5 789.0 647.7 789.5 647.2 790.0 646.9 790.5 647.0 791.0 647.4 791.4 648.1 791.8 648.9 792.2 649.9 792.6 651.0 792.9 652.1 793.2 653.2 793.5 654.3 793.8 655.3 794.1 656.3 794.3 657.4 794.5 658.4 794.7 659.4 794.9 660.4 795.1 661.3 795.3 662.3 795.5 663.2 795.7 664.2 795.9 665.1 796.0 666.1 796.2 667.0 796.4 667.9 796.6 668.8 796.8 669.8 797.1 670.7 797.3 671.6 797.6 672.6 797.8 673.6 798.1 674.7 798.4 675.9 798.7 677.1 798.9 678.4 799.2 679.4 799.5 680.0 799.9 680.0 800.3 679.3 800.7 678.1 801.2 676.9 801.6 675.8 802.1 675.0 802.6 675.0 803.1 675.6 803.5 676.7 803.9 677.9 804.3 679.1 804.6 679.9 804.9 680.1 805.2 679.6 805.3 678.6 805.5 677.4 805.7 676.0 805.9 674.8 806.1 673.7 806.3 672.6 806.5 671.7 806.7 670.8 806.9 669.8 807.1 668.9 807.3 668.0 807.5 667.0 807.7 666.0 807.9 665.1 808.0 664.1 808.2 663.1 808.4 662.1 808.6 661.1 808.8 660.2 809.0 659.2 809.2 658.2 809.4 657.2 809.6 656.2 809.8 655.2 810.0 654.2 810.2 653.2 810.4 652.2 810.6 651.2 810.8 650.2 811.0 649.3 811.2 648.3 811.5 647.3 811.7 646.3 811.9 645.4 812.1 644.4 812.3 643.4 812.5 642.5 812.7 641.5 812.9 640.6 813.1 639.6 813.3 638.7 813.5 637.7 813.8 636.8 814.0 635.8 814.3 634.8 814.6 633.7 814.9 632.6 815.3 631.4 815.8 630.3 816.3 629.3 816.7 628.6 817.1 628.2 817.5 628.3 817.8 628.7 818.1 629.5 818.4 630.5 818.6 631.7 818.8 632.9 818.9 634.2 819.1 635.4 819.2 636.5 819.4 637.6 819.5 638.7 819.6 639.7 819.7 640.7 819.8 641.7 819.9 642.6 820.0 643.6 820.1 644.5 820.2 645.5 820.3 646.4 820.4 647.3 820.4 648.3 820.5 649.3 820.6 650.2 820.8 651.2 820.9 652.2 821.0 653.2 821.1 654.3 821.2 655.3 821.4 656.3 821.5 657.3 821.6 658.4 821.8 659.4 822.0 660.4 822.1 661.4 822.3 662.4 822.5 663.4 822.6 664.3 822.8 665.3 823.0 666.2 823.2 667.2 823.5 668.2 823.7 669.3 824.0 670.5 824.4 671.3 824.7 671.6 825.0 671.3 825.3 670.5 825.6 669.4 825.9 668.2 826.1 667.1 826.3 666.0 826.5 664.9 826.7 663.9 826.8 662.9 827.0 661.9 827.1 661.0 827.3 660.0 827.4 659.0 827.5 658.1 827.6 657.1 827.8 656.2 827.9 655.2 828.0 654.2 828.1 653.2 828.3 652.3 828.4 651.3 828.5 650.3 828.6 649.3 828.7 648.3 828.8 647.3 829.0 646.3 829.1 645.3 829.2 644.3 829.3 643.3 829.4 642.3 829.5 641.3 829.7 640.3 829.8 639.2 829.9 638.2 830.0 637.2 830.1 636.2 830.2 635.2 830.3 634.2 830.5 633.2 830.6 632.2 830.7 631.2 830.8 630.2 830.9 629.2 831.0 628.2 831.1 627.2 831.3 626.3 831.4 625.3 831.5 624.3 831.6 623.3 831.7 622.4 831.8 621.4 831.9 620.4 832.0 619.5 832.2 618.5 832.3 617.6 832.4 616.6 832.5 615.7 832.7 614.7 832.8 613.7 832.9 612.7 833.1 611.6 833.3 610.5 833.4 609.4 833.6 608.3 833.8 607.1 834.0 605.9 834.3 604.8 834.5 603.8 834.8 603.2 835.1 603.0 835.4 603.3 835.8 604.1 836.1 605.1 836.4 606.3 836.7 607.5 836.9 608.7 837.1 609.8 837.3 610.8 837.4 611.8 837.5 612.7 837.6 613.7 837.8 614.6 837.9 615.6 838.0 616.6 838.2 617.5 838.3 618.5 838.4 619.5 838.5 620.5 838.7 621.5 838.8 622.5 838.9 623.4 839.0 624.4 839.2 625.4 839.3 626.4 839.4 627.4 839.5 628.4 839.6 629.4 839.7 630.4 839.8 631.4 839.9 632.4 840.0 633.5 840.2 634.5 840.3 635.5 840.4 636.5 840.5 637.5 840.6 638.5 840.7 639.5 840.8 640.5 840.9 641.5 841.0 642.5 841.1 643.5 841.2 644.5 841.3 645.5 841.4 646.5 841.5 647.5 841.6 648.5 841.7 649.5 841.8 650.5 841.9 651.5 842.0 652.5 842.1 653.4 842.2 654.4 842.3 655.4 842.4 656.4 842.5 657.3 842.6 658.3 842.7 659.3 842.9 660.2 843.0 661.2 843.1 662.2 843.2 663.1 843.4 664.1 843.5 665.1 843.7 666.1 843.8 667.0 844.0 668.0 844.2 669.1 844.4 670.1 844.6 671.1 844.8 672.2 845.0 673.3 845.2 674.4 845.5 675.5 845.8 676.6 846.0 677.7 846.3 678.8 846.7 679.6 847.1 680.0 847.5 679.9 847.9 679.3 848.4 678.3 848.9 677.2 849.5 676.0 850.1 675.0 850.7 674.2 851.3 673.6 851.9 673.4 852.5 673.4 853.1 673.7 853.6 674.2 854.1 675.0 854.5 676.1 854.8 677.2 855.2 678.3 855.6 679.2 856.1 679.8 856.8 680.0 857.6 679.9 858.4 679.9 859.0 679.9 859.5 679.6 859.8 679.0 860.0 678.2 860.1 677.2 860.1 676.2 860.2 675.1 860.3 674.0 860.3 672.9 860.4 671.8 860.6 670.8 860.7 669.7 860.9 668.7 861.0 667.7 861.2 666.7 861.4 665.7 861.5 664.8 861.7 663.8 861.9 662.8 862.1 661.9 862.3 660.9 862.4 660.0 862.6 659.0 862.8 658.1 862.9 657.2 863.0 656.2 863.1 655.2 863.3 654.3 863.4 653.3 863.5 652.2 863.7 651.1 863.9 650.0 864.2 648.7 864.5 647.5 864.9 646.5 865.2 645.6 865.6 645.0 865.9 644.9 866.3 645.1 866.6 645.8 866.9 646.7 867.1 647.8 867.4 649.0 867.6 650.2 867.8 651.4 868.0 652.5 868.2 653.6 868.4 654.7 868.5 655.8 868.7 656.8 868.8 657.8 868.9 658.8 869.1 659.7 869.2 660.7 869.3 661.6 869.5 662.6 869.6 663.5 869.7 664.4 869.9 665.3 870.0 666.2 870.1 667.1 870.3 668.1 870.5 669.0 870.7 670.0 870.8 670.9 871.0 672.0 871.2 673.1 871.3 674.4 871.4 675.8 871.5 677.2 871.6 678.5 871.8 679.5 871.9 680.1 872.2 680.0 872.6 679.4 873.0 678.3 873.5 677.1 874.0 676.2 874.4 676.0 874.9 676.5 875.3 677.5 875.7 678.7 876.0 679.7 876.3 680.1 876.5 679.9 876.6 679.1 876.7 677.9 876.8 676.5 876.9 675.1 877.0 673.8 877.1 672.6 877.2 671.6 877.3 670.7 877.4 669.8 877.6 668.9 877.7 667.9 877.8 667.0 878.0 666.0 878.1 665.0 878.3 664.0 878.4 663.0 878.6 662.0 878.7 661.0 878.9 660.0 879.0 659.0 879.1 658.0 879.3 657.1 879.4 656.1 879.6 655.1 879.8 654.1 880.1 653.0 880.5 651.8 880.9 650.9 881.3 650.2 881.7 650.0 882.0 650.4 882.3 651.2 882.6 652.2 882.9 653.5 883.1 654.7 883.3 655.9 883.5 657.0 883.7 658.1 883.8 659.1 884.0 660.2 884.1 661.2 884.3 662.1 884.4 663.1 884.5 664.0 884.6 664.9 884.7 665.9 884.9 666.8 885.0 667.7 885.1 668.7 885.3 669.6 885.4 670.6 885.6 671.6 885.7 672.6 885.9 673.7 886.0 674.8 886.2 676.0 886.3 677.2 886.5 678.4 886.6 679.3 886.7 679.9 886.8 680.0 887.0 679.7 887.1 678.9 887.2 677.9 887.3 676.6 887.4 675.3 887.5 673.9 887.6 672.7 887.7 671.5 887.8 670.4 887.9 669.4 888.0 668.4 888.1 667.4 888.2 666.5 888.3 665.6 888.4 664.7 888.5 663.8 888.6 662.9 888.8 662.0 888.9 661.1 889.1 660.0 889.2 659.0 889.4 657.8 889.6 656.6 889.8 655.4 890.0 654.3 890.3 653.6 890.6 653.5 890.8 653.9 891.1 654.7 891.4 655.8 891.7 657.1 891.9 658.5 892.1 659.7 892.2 660.8 892.3 661.9 892.4 662.8 892.5 663.7 892.6 664.6 892.7 665.5 892.7 666.4 892.9 667.4 893.0 668.5 893.1 669.6 893.2 670.9 893.3 672.2 893.4 673.3 893.5 674.2 893.6 674.6 893.7 674.6 893.8 674.1 893.9 673.3 894.0 672.1 894.1 670.8 894.2 669.5 894.3 668.2 894.4 667.0 894.5 665.8 894.6 664.7 894.7 663.7 894.8 662.7 894.9 661.8 895.0 660.8 895.1 660.0 895.2 659.1 895.3 658.2 895.4 657.3 895.6 656.4 895.7 655.5 895.8 654.5 896.0 653.5 896.1 652.4 896.3 651.2 896.4 650.0 896.6 648.7 896.8 647.5 896.9 646.4 897.1 645.4 897.4 644.9 897.6 644.7 897.9 645.0 898.2 645.6 898.5 646.6 898.8 647.7 899.1 649.0 899.4 650.3 899.6 651.6 899.8 652.8 900.0 653.9 900.1 654.9 900.3 655.9 900.4 656.9 900.6 657.8 900.7 658.8 900.8 659.7 901.0 660.6 901.2 661.5 901.3 662.4 901.5 663.3 901.7 664.2 901.9 665.2 902.1 666.1 902.3 667.1 902.5 668.0 902.7 669.1 902.9 670.1 903.1 671.2 903.3 672.3 903.5 673.5 903.6 674.7 903.8 675.9 904.0 677.1 904.2 678.3 904.4 679.2 904.6 679.8 904.8 679.9 904.9 679.6 905.1 678.9 905.3 677.9 905.4 676.7 905.6 675.5 905.7 674.3 905.8 673.2 906.0 672.2 906.1 671.2 906.2 670.3 906.4 669.3 906.5 668.4 906.6 667.4 906.8 666.4 906.9 665.4 907.1 664.4 907.3 663.4 907.4 662.4 907.6 661.4 907.8 660.4 907.9 659.4 908.1 658.4 908.3 657.4 908.4 656.4 908.6 655.5 908.8 654.5 908.9 653.5 909.1 652.6 909.3 651.7 909.4 650.8 909.6 649.8 909.8 648.9 910.1 647.9 910.3 646.8 910.6 645.6 911.0 644.4 911.4 643.2 911.8 642.2 912.2 641.5 912.7 641.3 913.1 641.6 913.4 642.3 913.8 643.4 914.1 644.6 914.4 645.9 914.6 647.1 914.8 648.3 915.0 649.3 915.1 650.3 915.3 651.2 915.4 652.2 915.5 653.1 915.6 654.0 915.8 655.0 915.9 656.0 916.1 657.0 916.2 658.0 916.4 659.0 916.5 660.0 916.7 661.0 916.9 662.0 917.1 663.0 917.2 664.0 917.4 664.9 917.6 665.8 917.7 666.7 917.9 667.6 918.1 668.6 918.2 669.8 918.4 671.0 918.5 672.4 918.7 673.7 918.9 674.9 919.0 675.7 919.2 676.1 919.5 675.9 919.7 675.1 920.0 673.9 920.3 672.7 920.5 671.6 920.8 670.9 921.1 670.7 921.4 671.1 921.7 672.0 921.9 673.2 922.2 674.6 922.4 676.0 922.6 677.4 922.8 678.7 923.0 679.6 923.2 680.2 923.3 680.1 923.5 679.6 923.6 678.7 923.7 677.5 923.8 676.2 923.9 674.9 924.0 673.6 924.2 672.4 924.3 671.3 924.4 670.2 924.5 669.2 924.6 668.2 924.7 667.3 924.9 666.3 925.0 665.4 925.1 664.5 925.2 663.6 925.3 662.6 925.4 661.7 925.5 660.8 925.7 659.8 925.8 658.9 925.9 657.9 926.0 657.0 926.2 656.0 926.3 655.0 926.4 654.0 926.6 653.0 926.8 651.9 926.9 650.9 927.1 649.8 927.3 648.7 927.5 647.6 927.7 646.5 928.0 645.3 928.2 644.1 928.5 643.1 928.8 642.2 929.1 641.5 929.4 641.2 929.7 641.3 930.0 641.9 930.3 642.7 930.6 643.7 930.9 644.9 931.1 646.2 931.3 647.4 931.5 648.6 931.6 649.7 931.7 650.8 931.8 651.8 931.9 652.8 932.0 653.7 932.1 654.6 932.2 655.5 932.3 656.4 932.5 657.3 932.6 658.2 932.7 659.1 932.8 660.0 932.9 661.0 933.1 662.0 933.2 663.0 933.3 664.2 933.4 665.4 933.5 666.6 933.6 668.0 933.7 669.3 933.8 670.6 933.9 671.6 934.0 672.4 934.1 672.8 934.2 672.6 934.3 672.0 934.4 671.1 934.5 669.9 934.6 668.6 934.7 667.5 934.8 666.4 934.9 665.4 935.0 664.5 935.0 663.6 935.1 662.6 935.2 661.6 935.4 660.5 935.5 659.4 935.6 658.4 935.7 657.3 935.8 656.3 935.9 655.3 936.0 654.3 936.0 653.4 936.1 652.5 936.2 651.5 936.2 650.6 936.3 649.7 936.4 648.7 936.4 647.8 936.5 646.8 936.6 645.9 936.7 644.9 936.8 643.8 936.9 642.8 937.0 641.7 937.2 640.5 937.3 639.3 937.5 638.1 937.7 636.8 937.9 635.7 938.1 634.6 938.4 633.9 938.7 633.5 939.0 633.5 939.3 633.9 939.6 634.7 939.9 635.7 940.1 636.9 940.4 638.2 940.6 639.4 940.7 640.5 940.9 641.5 941.0 642.5 941.0 643.5 941.1 644.4 941.2 645.4 941.3 646.3 941.4 647.3 941.5 648.3 941.6 649.3 941.7 650.3 941.9 651.3 942.0 652.3 942.1 653.3 942.2 654.3 942.4 655.4 942.5 656.4 942.6 657.4 942.7 658.4 942.9 659.4 943.0 660.3 943.1 661.3 943.2 662.2 943.4 663.1 943.5 664.0 943.6 664.9 943.8 665.9 943.9 667.0 944.0 668.2 944.2 669.6 944.3 670.9 944.4 672.2 944.5 673.4 944.7 674.2 944.8 674.7 944.9 674.7 945.1 674.2 945.2 673.4 945.4 672.3 945.5 671.0 945.6 669.7 945.8 668.5 945.9 667.4 946.0 666.4 946.1 665.4 946.2 664.5 946.4 663.5 946.6 662.4 946.8 661.1 947.0 659.9 947.3 658.8 947.6 657.8 947.8 657.1 948.1 656.7 948.4 656.7 948.6 657.1 948.9 657.8 949.1 658.8 949.3 660.0 949.6 661.3 949.8 662.6 950.1 663.9 950.3 665.1 950.6 666.1 950.9 666.9 951.2 667.6 951.4 668.4 951.7 669.2 951.9 670.1 952.0 671.1 952.1 672.1 952.3 673.2 952.5 674.3 952.7 675.4 952.9 676.5 953.2 677.5 953.7 678.4 954.2 679.2 954.8 679.9 955.6 680.5 956.5 680.8 957.4 680.9 958.3 680.8 959.2 680.4 959.9 679.6 960.6 678.7 961.3 677.6 961.9 676.5 962.4 675.5 962.9 674.6 963.5 674.0 964.0 673.7 964.5 673.9 965.1 674.4 965.7 675.3 966.2 676.4 966.6 677.6 967.0 678.5 967.4 679.0 967.7 678.9 967.9 678.3 968.2 677.3 968.4 676.0 968.7 674.5 969.0 673.0 969.3 671.7 969.7 670.5 970.2 669.7 970.6 669.4 971.1 669.8 971.5 670.6 971.9 671.7 972.3 673.0 972.7 674.4 973.0 675.7 973.2 677.0 973.5 677.9 973.8 678.7 974.0 679.0 974.3 678.9 974.7 678.4 975.1 677.6 975.5 676.5 976.0 675.3 976.5 674.1 977.1 672.8 977.7 671.7 978.4 670.7 979.1 670.1 979.7 669.8 980.3 670.1 980.9 670.8 981.4 671.8 981.8 672.9 982.2 674.0 982.6 675.0 983.0 676.0 983.3 676.9 983.7 677.8 984.0 678.7 984.4 679.7 984.8 680.5 985.4 681.3 986.1 682.0 986.9 682.6 988.0 683.0Z" fill="#008000" fill-opacity=".2" stroke="#008000" stroke-opacity=".2" stroke-width="4.3" stroke-linejoin="round"/>
<path d="M719.0 683.1L719.9 682.5 720.9 681.9 721.8 681.3 722.7 680.9 723.6 680.5 724.5 680.3 725.5 680.2 726.4 680.4 727.3 680.7 728.2 681.1 729.1 681.6 730.1 682.1 731.0 682.6 732.0 683.1Z" fill="#008000" fill-opacity=".2" stroke="#008000" stroke-opacity=".2" stroke-width="4.3" stroke-linejoin="round"/>
<g fill="none" stroke="#f00" stroke-width="5" stroke-dasharray="16.9 7">
<path d="M141.4 683.0L142.5 683.0 143.6 683.0 144.6 682.9 145.6 682.9 146.6 682.9 147.6 682.9 148.6 683.0 149.5 683.0 150.5 683.0 151.4 683.0 152.4 683.0 153.4 683.1 154.3 683.1 155.3 683.1 156.3 683.1 157.3 683.1 158.4 683.1 159.4 683.0 160.5 683.0 161.6 682.9 162.6 682.8 163.7 682.7 164.7 682.5 165.8 682.3 166.7 682.1 167.7 681.8 168.6 681.4 169.4 680.9 170.2 680.4 170.9 679.9 171.6 679.2 172.2 678.5 172.7 677.8 173.2 677.0 173.7 676.2 174.1 675.4 174.5 674.5 174.9 673.5 175.2 672.6 175.5 671.6 175.8 670.6 176.1 669.6 176.3 668.6 176.5 667.6 176.7 666.5 176.9 665.5 177.1 664.5 177.3 663.5 177.5 662.5 177.7 661.5 177.9 660.5 178.1 659.5 178.2 658.5 178.4 657.5 178.6 656.5 178.7 655.5 178.9 654.6 179.1 653.6 179.2 652.6 179.4 651.6 179.5 650.7 179.7 649.7 179.8 648.7 179.9 647.7 180.1 646.8 180.2 645.8 180.3 644.8 180.5 643.8 180.6 642.8 180.7 641.9 180.8 640.9 180.9 639.9 181.1 638.9 181.2 637.9 181.3 636.9 181.4 635.9 181.5 634.9 181.6 633.9 181.7 632.9 181.8 631.9 181.9 631.0 182.0 630.0 182.1 629.0 182.2 628.0 182.3 627.0 182.4 626.0 182.5 625.0 182.6 624.0 182.7 623.0 182.8 622.0 182.9 621.0 183.0 620.0 183.0 619.0 183.1 618.0 183.2 617.0 183.3 616.0 183.4 615.0 183.5 614.0 183.6 613.0 183.7 612.0 183.8 611.0 183.8 610.0 183.9 609.0 184.0 608.0 184.1 607.0 184.2 606.0 184.3 605.0 184.4 604.0 184.5 603.0 184.6 602.0 184.7 601.0 184.8 600.0 184.9 599.0 185.0 598.0 185.1 597.0 185.2 596.0 185.3 595.0 185.3 594.0 185.4 593.0 185.5 592.0 185.6 591.0 185.7 590.0 185.8 589.0 185.9 588.0 186.0 587.0 186.1 586.1 186.2 585.1 186.3 584.1 186.4 583.1 186.5 582.1 186.6 581.1 186.7 580.1 186.8 579.1 186.9 578.1 187.0 577.1 187.1 576.1 187.2 575.1 187.3 574.1 187.4 573.1 187.5 572.1 187.6 571.2 187.7 570.2 187.8 569.2 187.9 568.2 188.0 567.2 188.1 566.2 188.2 565.2 188.3 564.2 188.4 563.2 188.5 562.2 188.6 561.2 188.7 560.2 188.8 559.2 188.9 558.2 189.0 557.2 189.1 556.2 189.2 555.2 189.3 554.3 189.4 553.3 189.5 552.3 189.6 551.3 189.7 550.3 189.8 549.3 189.9 548.3 190.0 547.3 190.1 546.3 190.2 545.3 190.3 544.3 190.4 543.3 190.5 542.3 190.6 541.3 190.7 540.3 190.8 539.3 190.9 538.3 191.0 537.3 191.1 536.3 191.2 535.3 191.3 534.3 191.4 533.4 191.5 532.4 191.6 531.4 191.7 530.4 191.8 529.4 191.9 528.4 192.0 527.4 192.1 526.4 192.2 525.4 192.3 524.4 192.4 523.4 192.5 522.4 192.5 521.4 192.6 520.4 192.7 519.4 192.8 518.4 192.9 517.4 193.0 516.4 193.1 515.4 193.2 514.4 193.3 513.4 193.3 512.4 193.4 511.4 193.5 510.4 193.6 509.4 193.7 508.4 193.8 507.4 193.9 506.4 193.9 505.4 194.0 504.5 194.1 503.5 194.2 502.5 194.3 501.5 194.4 500.5 194.4 499.5 194.5 498.5 194.6 497.5 194.7 496.5 194.8 495.5 194.8 494.5 194.9 493.5 195.0 492.5 195.1 491.5 195.1 490.5 195.2 489.5 195.3 488.5 195.4 487.5 195.4 486.5 195.5 485.5 195.6 484.5 195.6 483.5 195.7 482.5 195.8 481.5 195.8 480.5 195.9 479.5 196.0 478.5 196.1 477.5 196.1 476.5 196.2 475.5 196.3 474.5 196.3 473.5 196.4 472.5 196.5 471.5 196.5 470.5 196.6 469.5 196.6 468.5 196.7 467.5 196.8 466.5 196.8 465.5 196.9 464.5 197.0 463.5 197.0 462.5 197.1 461.5 197.2 460.5 197.2 459.6 197.3 458.6 197.4 457.6 197.4 456.6 197.5 455.6 197.6 454.6 197.6 453.6 197.7 452.6 197.8 451.6 197.8 450.6 197.9 449.6 198.0 448.6 198.0 447.6 198.1 446.6 198.2 445.6 198.3 444.6 198.3 443.6 198.4 442.6 198.5 441.6 198.5 440.6 198.6 439.6 198.7 438.6 198.8 437.6 198.9 436.6 198.9 435.6 199.0 434.6 199.1 433.6 199.2 432.6 199.3 431.6 199.3 430.6 199.4 429.6 199.5 428.6 199.6 427.7 199.7 426.7 199.8 425.7 199.9 424.7 200.0 423.7 200.0 422.7 200.1 421.7 200.2 420.7 200.3 419.7 200.4 418.7 200.5 417.7 200.6 416.7 200.7 415.7 200.8 414.7 200.9 413.7 201.0 412.7 201.2 411.7 201.3 410.7 201.4 409.7 201.5 408.8 201.6 407.8 201.7 406.8 201.8 405.8 202.0 404.8 202.1 403.8 202.2 402.8 202.3 401.8 202.5 400.8 202.6 399.8 202.7 398.8 202.9 397.8 203.0 396.8 203.1 395.9 203.3 394.9 203.4 393.9 203.6 392.9 203.7 391.9 203.8 390.9 204.0 389.9 204.1 388.9 204.3 387.9 204.4 386.9 204.5 385.9 204.7 385.0 204.8 384.0 205.0 383.0 205.1 382.0 205.2 381.0 205.4 380.0 205.5 379.0 205.7 378.0 205.8 377.0 205.9 376.0 206.1 375.0 206.2 374.1 206.3 373.1 206.4 372.1 206.6 371.1 206.7 370.1 206.8 369.1 206.9 368.1 207.1 367.1 207.2 366.1 207.3 365.1 207.4 364.1 207.5 363.1 207.6 362.1 207.7 361.2 207.8 360.2 207.9 359.2 208.0 358.2 208.0 357.2 208.1 356.2 208.2 355.2 208.3 354.2 208.4 353.2 208.4 352.2 208.5 351.2 208.6 350.2 208.6 349.2 208.7 348.2 208.8 347.2 208.9 346.2 208.9 345.2 209.0 344.2 209.1 343.2 209.2 342.2 209.2 341.2 209.3 340.2 209.4 339.2 209.5 338.3 209.6 337.3 209.7 336.3 209.8 335.3 209.9 334.3 210.0 333.3 210.1 332.3 210.2 331.3 210.3 330.3 210.4 329.3 210.6 328.3 210.7 327.3 210.8 326.3 211.0 325.3 211.1 324.3 211.3 323.3 211.5 322.3 211.7 321.3 211.8 320.3 212.0 319.3 212.3 318.4 212.5 317.4 212.7 316.4 213.0 315.4 213.3 314.5 213.6 313.5 213.9 312.6 214.2 311.6 214.5 310.7 214.9 309.8 215.3 308.9 215.7 308.0 216.1 307.1 216.6 306.3 217.1 305.4 217.6 304.6 218.1 303.8 218.7 303.0 219.3 302.2 219.9 301.4 220.6 300.7 221.3 299.9 222.0 299.2 222.7 298.5 223.5 297.9 224.3 297.2 225.2 296.6 226.1 296.0 227.0 295.5 227.9 295.0 228.9 294.6 229.8 294.2 230.8 293.9 231.8 293.7 232.7 293.6 233.6 293.6 234.4 293.8 235.1 294.2 235.7 294.7 236.1 295.5 236.4 296.3 236.6 297.3 236.8 298.3 236.9 299.4 236.9 300.6 237.0 301.7 237.0 302.8 237.1 303.9 237.2 304.9 237.2 305.9 237.3 306.9 237.4 307.9 237.5 308.9 237.6 309.9 237.7 310.9 237.7 311.9 237.8 312.9 237.9 313.8 238.0 314.8 238.0 315.8 238.1 316.8 238.2 317.8 238.3 318.8 238.3 319.8 238.4 320.8 238.5 321.8 238.5 322.8 238.6 323.8 238.7 324.8 238.7 325.8 238.8 326.8 238.9 327.8 238.9 328.8 239.0 329.8 239.1 330.7 239.1 331.7 239.2 332.7 239.2 333.7 239.3 334.7 239.3 335.7 239.4 336.7 239.5 337.7 239.5 338.7 239.6 339.7 239.6 340.7 239.7 341.7 239.7 342.7 239.8 343.7 239.8 344.7 239.9 345.7 239.9 346.7 240.0 347.7 240.0 348.7 240.1 349.7 240.1 350.7 240.2 351.7 240.2 352.7 240.3 353.7 240.3 354.7 240.4 355.7 240.4 356.7 240.4 357.7 240.5 358.7 240.5 359.7 240.6 360.7 240.6 361.7 240.7 362.7 240.7 363.7 240.8 364.7 240.8 365.7 240.8 366.7 240.9 367.7 240.9 368.7 241.0 369.7 241.0 370.7 241.0 371.7 241.1 372.7 241.1 373.7 241.2 374.7 241.2 375.7 241.2 376.7 241.3 377.7 241.3 378.7 241.4 379.7 241.4 380.7 241.4 381.7 241.5 382.7 241.5 383.7 241.6 384.7 241.6 385.7 241.6 386.7 241.7 387.7 241.7 388.7 241.8 389.7 241.8 390.7 241.8 391.7 241.9 392.7 241.9 393.7 242.0 394.7 242.0 395.7 242.0 396.7 242.1 397.7 242.1 398.7 242.2 399.7 242.2 400.7 242.2 401.7 242.3 402.7 242.3 403.7 242.4 404.7 242.4 405.7 242.5 406.7 242.5 407.7 242.5 408.7 242.6 409.7 242.6 410.7 242.7 411.7 242.7 412.7 242.8 413.7 242.8 414.7 242.9 415.7 242.9 416.7 243.0 417.7 243.0 418.7 243.1 419.7 243.1 420.7 243.2 421.7 243.2 422.7 243.3 423.7 243.3 424.7 243.4 425.7 243.4 426.7 243.5 427.7 243.5 428.7 243.6 429.7 243.6 430.7 243.7 431.7 243.8 432.7 243.8 433.7 243.9 434.7 243.9 435.6 244.0 436.6 244.1 437.6 244.1 438.6 244.2 439.6 244.3 440.6 244.3 441.6 244.4 442.6 244.5 443.6 244.5 444.6 244.6 445.6 244.7 446.6 244.7 447.6 244.8 448.6 244.9 449.6 245.0 450.6 245.0 451.6 245.1 452.6 245.2 453.6 245.3 454.6 245.3 455.6 245.4 456.6 245.5 457.6 245.6 458.6 245.7 459.6 245.8 460.6 245.8 461.6 245.9 462.6 246.0 463.6 246.1 464.6 246.2 465.6 246.3 466.6 246.4 467.6 246.5 468.5 246.6 469.5 246.7 470.5 246.8 471.5 246.9 472.5 247.0 473.5 247.1 474.5 247.2 475.5 247.3 476.5 247.4 477.5 247.5 478.5 247.6 479.5 247.7 480.5 247.9 481.5 248.0 482.5 248.1 483.4 248.2 484.4 248.3 485.4 248.5 486.4 248.6 487.4 248.7 488.4 248.8 489.4 248.9 490.4 249.1 491.4 249.2 492.4 249.3 493.4 249.5 494.4 249.6 495.3 249.7 496.3 249.9 497.3 250.0 498.3 250.1 499.3 250.3 500.3 250.4 501.3 250.6 502.3 250.7 503.3 250.8 504.2 251.0 505.2 251.1 506.2 251.3 507.2 251.4 508.2 251.6 509.2 251.7 510.2 251.9 511.2 252.0 512.2 252.2 513.1 252.3 514.1 252.5 515.1 252.6 516.1 252.8 517.1 253.0 518.1 253.1 519.1 253.3 520.1 253.4 521.0 253.6 522.0 253.8 523.0 253.9 524.0 254.1 525.0 254.3 526.0 254.4 527.0 254.6 527.9 254.8 528.9 255.0 529.9 255.1 530.9 255.3 531.9 255.5 532.9 255.7 533.9 255.8 534.8 256.0 535.8 256.2 536.8 256.4 537.8 256.5 538.8 256.7 539.8 256.9 540.7 257.1 541.7 257.3 542.7 257.5 543.7 257.6 544.7 257.8 545.7 258.0 546.7 258.2 547.6 258.4 548.6 258.6 549.6 258.8 550.6 259.0 551.6 259.2 552.6 259.3 553.5 259.5 554.5 259.7 555.5 259.9 556.5 260.1 557.5 260.3 558.4 260.5 559.4 260.7 560.4 260.9 561.4 261.1 562.4 261.4 563.3 261.6 564.3 261.8 565.3 262.0 566.3 262.2 567.2 262.5 568.2 262.7 569.2 263.0 570.2 263.2 571.1 263.5 572.1 263.7 573.1 264.0 574.0 264.3 575.0 264.6 575.9 264.9 576.9 265.2 577.8 265.5 578.8 265.8 579.7 266.2 580.7 266.5 581.6 266.9 582.5 267.2 583.4 267.6 584.4 268.0 585.3 268.4 586.2 268.8 587.1 269.2 588.0 269.7 588.9 270.1 589.8 270.6 590.7 271.1 591.6 271.7 592.4 272.3 593.2 272.9 594.0 273.6 594.7 274.3 595.3 275.1 595.9 276.0 596.4 276.9 596.8 277.9 597.1 278.9 597.3 279.8 597.3 280.8 597.1 281.7 596.8 282.6 596.4 283.5 595.8 284.3 595.2 285.1 594.5 285.8 593.7 286.5 592.9 287.1 592.1 287.7 591.3 288.2 590.4 288.7 589.5 289.1 588.6 289.5 587.7 289.8 586.8 290.1 585.9 290.4 584.9 290.6 584.0 290.8 583.0 291.0 582.1 291.2 581.1 291.3 580.1 291.4 579.1 291.5 578.1 291.6 577.1 291.7 576.1 291.8 575.1 291.8 574.1 291.9 573.1 292.0 572.1 292.0 571.1 292.1 570.1 292.2 569.1 292.3 568.1 292.4 567.1 292.5 566.1 292.6 565.1 292.7 564.1 292.8 563.1 293.0 562.1 293.1 561.1 293.2 560.1 293.4 559.1 293.5 558.1 293.7 557.1 293.8 556.1 294.0 555.2 294.1 554.2 294.3 553.2 294.4 552.2 294.6 551.2 294.7 550.2 294.8 549.2 295.0 548.2 295.1 547.3 295.2 546.3 295.4 545.3 295.5 544.3 295.6 543.3 295.7 542.3 295.8 541.3 295.9 540.3 296.0 539.3 296.1 538.3 296.2 537.3 296.3 536.3 296.4 535.3 296.5 534.4 296.6 533.4 296.7 532.4 296.8 531.4 296.9 530.4 297.0 529.4 297.1 528.4 297.2 527.4 297.2 526.4 297.3 525.4 297.4 524.4 297.5 523.4 297.6 522.4 297.7 521.4 297.7 520.4 297.8 519.4 297.9 518.4 298.0 517.4 298.1 516.4 298.1 515.4 298.2 514.4 298.3 513.4 298.4 512.4 298.5 511.4 298.6 510.4 298.7 509.4 298.8 508.4 298.8 507.5 298.9 506.5 299.0 505.5 299.1 504.5 299.2 503.5 299.3 502.5 299.4 501.5 299.5 500.5 299.6 499.5 299.7 498.5 299.7 497.5 299.8 496.5 299.9 495.5 300.0 494.5" stroke-dashoffset="0.0"/>
<path d="M300.0 494.5L300.1 493.5 300.2 492.5 300.3 491.5 300.4 490.5 300.5 489.5 300.6 488.5 300.7 487.5 300.8 486.5 300.8 485.5 300.9 484.5 301.0 483.6 301.1 482.6 301.2 481.6 301.3 480.6 301.4 479.6 301.5 478.6 301.6 477.6 301.6 476.6 301.7 475.6 301.8 474.6 301.9 473.6 302.0 472.6 302.1 471.6 302.1 470.6 302.2 469.6 302.3 468.6 302.4 467.6 302.5 466.6 302.5 465.6 302.6 464.6 302.7 463.6 302.8 462.6 302.9 461.6 302.9 460.6 303.0 459.6 303.1 458.6 303.1 457.6 303.2 456.6 303.3 455.6 303.4 454.6 303.4 453.7 303.5 452.7 303.6 451.7 303.6 450.7 303.7 449.7 303.8 448.7 303.8 447.7 303.9 446.7 304.0 445.7 304.1 444.7 304.1 443.7 304.2 442.7 304.2 441.7 304.3 440.7 304.4 439.7 304.4 438.7 304.5 437.7 304.6 436.7 304.6 435.7 304.7 434.7 304.8 433.7 304.8 432.7 304.9 431.7 304.9 430.7 305.0 429.7 305.1 428.7 305.1 427.7 305.2 426.7 305.3 425.7 305.3 424.7 305.4 423.7 305.4 422.7 305.5 421.7 305.6 420.7 305.6 419.7 305.7 418.7 305.7 417.7 305.8 416.7 305.9 415.7 305.9 414.7 306.0 413.7 306.0 412.7 306.1 411.7 306.1 410.7 306.2 409.7 306.3 408.7 306.3 407.7 306.4 406.7 306.4 405.7 306.5 404.7 306.5 403.7 306.6 402.7 306.7 401.7 306.7 400.7 306.8 399.7 306.8 398.7 306.9 397.7 306.9 396.7 307.0 395.7 307.1 394.8 307.1 393.8 307.2 392.8 307.2 391.8 307.3 390.8 307.3 389.8 307.4 388.8 307.5 387.8 307.5 386.8 307.6 385.8 307.6 384.8 307.7 383.8 307.7 382.8 307.8 381.8 307.8 380.8 307.9 379.8 308.0 378.8 308.0 377.8 308.1 376.8 308.1 375.8 308.2 374.8 308.2 373.8 308.3 372.8 308.3 371.8 308.4 370.8 308.5 369.8 308.5 368.8 308.6 367.8 308.6 366.8 308.7 365.8 308.7 364.8 308.8 363.8 308.9 362.8 308.9 361.8 309.0 360.8 309.0 359.8 309.1 358.8 309.1 357.8 309.2 356.8 309.3 355.8 309.3 354.8 309.4 353.8 309.4 352.8 309.5 351.8 309.5 350.8 309.6 349.8 309.7 348.8 309.7 347.8 309.8 346.8 309.8 345.8 309.9 344.8 310.0 343.8 310.0 342.8 310.1 341.8 310.1 340.8 310.2 339.8 310.3 338.8 310.3 337.8 310.4 336.8 310.4 335.8 310.5 334.8 310.6 333.8 310.6 332.9 310.7 331.9 310.7 330.9 310.8 329.9 310.9 328.9 310.9 327.9 311.0 326.9 311.1 325.9 311.1 324.9 311.2 323.9 311.2 322.9 311.3 321.9 311.4 320.9 311.4 319.9 311.5 318.9 311.6 317.9 311.6 316.9 311.7 315.9 311.8 314.9 311.8 313.9 311.9 312.9 312.0 311.9 312.0 310.9 312.1 309.9 312.2 308.9 312.2 307.9 312.3 306.9 312.4 305.9 312.4 304.9 312.5 303.9 312.6 302.9 312.7 301.9 312.7 300.9 312.8 299.9 312.9 298.9 312.9 297.9 313.0 296.9 313.1 295.9 313.2 294.9 313.2 293.9 313.3 292.9 313.4 291.9 313.5 290.9 313.5 289.9 313.6 288.9 313.7 287.9 313.8 286.9 313.8 286.0 313.9 285.0 314.0 284.0 314.1 283.0 314.2 282.0 314.2 281.0 314.3 280.0 314.4 279.0 314.5 278.0 314.6 277.0 314.6 276.0 314.7 275.0 314.8 274.0 314.9 273.0 315.0 272.0 315.1 271.0 315.1 270.0 315.2 269.0 315.3 268.0 315.4 267.0 315.5 266.0 315.6 265.0 315.7 264.0 315.7 263.0 315.8 262.0 315.9 261.0 316.0 260.0 316.1 259.0 316.2 258.0 316.3 257.0 316.4 256.0 316.5 255.0 316.6 254.0 316.7 253.1 316.7 252.1 316.8 251.1 316.9 250.1 317.0 249.1 317.1 248.1 317.2 247.1 317.3 246.1 317.4 245.1 317.5 244.1 317.6 243.1 317.7 242.1 317.8 241.1 317.8 240.1 317.9 239.1 318.0 238.1 318.1 237.1 318.2 236.1 318.3 235.1 318.4 234.1 318.5 233.2 318.6 232.2 318.7 231.2 318.7 230.2 318.8 229.2 318.9 228.2 319.0 227.2 319.1 226.2 319.2 225.2 319.3 224.2 319.3 223.2 319.4 222.2 319.5 221.2 319.6 220.3 319.8 219.3 319.9 218.3 320.0 217.3 320.2 216.3 320.4 215.3 320.6 214.3 320.8 213.3 321.1 212.3 321.4 211.3 321.6 210.2 321.8 209.1 322.0 208.0 322.2 207.1 322.4 206.6 322.6 206.6 322.8 207.1 323.1 207.9 323.3 208.9 323.5 210.1 323.8 211.4 324.0 212.7 324.2 213.9 324.4 215.0 324.5 216.0 324.7 217.0 324.9 218.0 325.0 219.0 325.2 220.0 325.4 221.0 325.5 221.9 325.7 222.9 325.8 223.9 326.0 224.9 326.1 225.9 326.3 226.8 326.4 227.8 326.6 228.8 326.7 229.8 326.8 230.8 327.0 231.8 327.1 232.7 327.3 233.7 327.4 234.7 327.5 235.7 327.7 236.7 327.8 237.7 327.9 238.7 328.0 239.7 328.2 240.6 328.3 241.6 328.4 242.6 328.5 243.6 328.6 244.6 328.8 245.6 328.9 246.6 329.0 247.6 329.1 248.6 329.2 249.6 329.3 250.5 329.4 251.5 329.5 252.5 329.6 253.5 329.7 254.5 329.8 255.5 329.9 256.5 330.0 257.5" stroke-dashoffset="13.3"/>
<path d="M330.0 257.5L330.1 258.5 330.2 259.5 330.3 260.5 330.4 261.5 330.5 262.5 330.6 263.5 330.7 264.5 330.8 265.5 330.9 266.4 331.0 267.4 331.1 268.4 331.1 269.4 331.2 270.4 331.3 271.4 331.4 272.4 331.5 273.4 331.6 274.4 331.6 275.4 331.7 276.4 331.8 277.4 331.9 278.4 332.0 279.4 332.0 280.4 332.1 281.4 332.2 282.4 332.3 283.4 332.3 284.4 332.4 285.4 332.5 286.4 332.5 287.4 332.6 288.4 332.7 289.4 332.8 290.4 332.8 291.4 332.9 292.4 333.0 293.4 333.0 294.4 333.1 295.4 333.2 296.4 333.2 297.4 333.3 298.4 333.4 299.4 333.4 300.4 333.5 301.4 333.6 302.4 333.6 303.4 333.7 304.4 333.8 305.4 333.8 306.4 333.9 307.4 334.0 308.4 334.0 309.4 334.1 310.4 334.2 311.4 334.2 312.4 334.3 313.4 334.3 314.4 334.4 315.4 334.5 316.4 334.5 317.4 334.6 318.4 334.7 319.4 334.7 320.4 334.8 321.4 334.8 322.4 334.9 323.4 335.0 324.4 335.0 325.4 335.1 326.4 335.2 327.4 335.2 328.4 335.3 329.4 335.3 330.4 335.4 331.4 335.5 332.4 335.5 333.4 335.6 334.3 335.7 335.3 335.7 336.3 335.8 337.3 335.9 338.3 335.9 339.3 336.0 340.3 336.0 341.3 336.1 342.3 336.2 343.3 336.2 344.3 336.3 345.3 336.4 346.3 336.4 347.3 336.5 348.3 336.6 349.3 336.6 350.3 336.7 351.3 336.8 352.3 336.8 353.3 336.9 354.3 337.0 355.3 337.0 356.3 337.1 357.3 337.2 358.3 337.2 359.3 337.3 360.3 337.4 361.3 337.4 362.3 337.5 363.3 337.6 364.3 337.6 365.3 337.7 366.3 337.8 367.3 337.9 368.3 337.9 369.2 338.0 370.2 338.1 371.2 338.2 372.2 338.2 373.2 338.3 374.2 338.4 375.2 338.4 376.2 338.5 377.2 338.6 378.2 338.7 379.2 338.8 380.2 338.8 381.2 338.9 382.2 339.0 383.2 339.1 384.2 339.2 385.2 339.2 386.2 339.3 387.2 339.4 388.2 339.5 389.2 339.6 390.2 339.7 391.2 339.7 392.2 339.8 393.2 339.9 394.2 340.0 395.2 340.1 396.2 340.2 397.2 340.2 398.2 340.3 399.2 340.4 400.2 340.5 401.2 340.6 402.2 340.6 403.2 340.7 404.2 340.8 405.2 340.9 406.2 341.0 407.2 341.0 408.2 341.1 409.2 341.2 410.2 341.3 411.2 341.3 412.2 341.4 413.2 341.5 414.2 341.6 415.2 341.7 416.2 341.8 417.2 342.0 418.1 342.1 419.1 342.2 420.1 342.4 421.1 342.6 422.0 342.8 423.0 343.0 424.0 343.2 424.9 343.4 425.9 343.6 426.8 343.9 427.8 344.1 428.8 344.4 429.7 344.7 430.7 344.9 431.7 345.2 432.7 345.4 433.7 345.7 434.8 346.0 435.8 346.2 436.9 346.5 437.9 346.8 438.8 347.2 439.7 347.5 440.4 347.9 440.8 348.2 440.9 348.5 440.5 348.8 439.8 349.1 438.9 349.3 437.9 349.6 436.9 349.8 435.9 350.0 434.9 350.2 433.9 350.5 432.9 350.7 431.9 350.9 430.9 351.1 429.9 351.3 428.9 351.5 427.9 351.7 426.9 351.9 425.9 352.1 424.9 352.3 423.9 352.5 422.9 352.7 421.9 352.9 420.9 353.1 419.9 353.3 418.9 353.4 417.9 353.6 416.9 353.8 415.9 354.0 415.0 354.1 414.0 354.3 413.0 354.4 412.0 354.6 411.0 354.8 410.0 354.9 409.0 355.1 408.0 355.2 407.0 355.4 406.0 355.5 405.0 355.6 404.0 355.8 403.1 355.9 402.1 356.0 401.1 356.2 400.1 356.3 399.1 356.4 398.1 356.6 397.1 356.7 396.1 356.8 395.1 356.9 394.1 357.1 393.1 357.2 392.2 357.3 391.2 357.4 390.2 357.5 389.2 357.6 388.2 357.7 387.2 357.8 386.2 357.9 385.2 358.0 384.2 358.1 383.2 358.2 382.3 358.3 381.3 358.4 380.3 358.5 379.3 358.6 378.3 358.7 377.3 358.8 376.3 358.9 375.3 359.0 374.3 359.1 373.3 359.2 372.3 359.3 371.3 359.4 370.4 359.5 369.4 359.5 368.4 359.6 367.4 359.7 366.4 359.8 365.4 359.9 364.4 359.9 363.4 360.0 362.4 360.1 361.4 360.2 360.4 360.3 359.4 360.3 358.4 360.4 357.4 360.5 356.4 360.6 355.4 360.6 354.4 360.7 353.4 360.8 352.4 360.8 351.4 360.9 350.4 361.0 349.4 361.0 348.4 361.1 347.4 361.2 346.4 361.2 345.5 361.3 344.5 361.4 343.5 361.4 342.5 361.5 341.5 361.6 340.5 361.6 339.5 361.7 338.5 361.7 337.5 361.8 336.5 361.8 335.5 361.9 334.5 362.0 333.5 362.0 332.5" stroke-dashoffset="5.7"/>
<path d="M362.0 332.5L362.1 331.5 362.1 330.5 362.2 329.5 362.2 328.5 362.3 327.5 362.3 326.5 362.4 325.5 362.4 324.5 362.5 323.5 362.6 322.5 362.6 321.5 362.7 320.5 362.7 319.5 362.7 318.5 362.8 317.5 362.8 316.5 362.9 315.5 362.9 314.5 363.0 313.5 363.0 312.5 363.1 311.5 363.1 310.5 363.2 309.5 363.2 308.5 363.3 307.5 363.3 306.5 363.4 305.5 363.4 304.5 363.4 303.5 363.5 302.5 363.5 301.5 363.6 300.5 363.6 299.4 363.7 298.4 363.7 297.4 363.8 296.4 363.8 295.4 363.8 294.4 363.9 293.4 363.9 292.4 364.0 291.4 364.0 290.4 364.0 289.4 364.1 288.4 364.1 287.4 364.2 286.4 364.2 285.4 364.3 284.4 364.3 283.4 364.3 282.4 364.4 281.4 364.4 280.4 364.5 279.4 364.5 278.4 364.5 277.4 364.6 276.4 364.6 275.5 364.7 274.5 364.7 273.5 364.8 272.5 364.8 271.5 364.8 270.5 364.9 269.5 364.9 268.5 365.0 267.5 365.0 266.5 365.0 265.5 365.1 264.5 365.1 263.5 365.2 262.5 365.2 261.5 365.2 260.5 365.3 259.5 365.3 258.5 365.4 257.5 365.4 256.5 365.4 255.5 365.5 254.5 365.5 253.5 365.6 252.5 365.6 251.5 365.6 250.5 365.7 249.5 365.7 248.5 365.8 247.5 365.8 246.5 365.8 245.5 365.9 244.5 365.9 243.5 366.0 242.5 366.0 241.5 366.0 240.5 366.1 239.5 366.1 238.5 366.2 237.5 366.2 236.5 366.2 235.5 366.3 234.5 366.3 233.5 366.4 232.5 366.4 231.5 366.4 230.5 366.5 229.5 366.5 228.5 366.6 227.5 366.6 226.5 366.6 225.5 366.7 224.5 366.7 223.5 366.8 222.5 366.8 221.5 366.8 220.5 366.9 219.5 366.9 218.5 367.0 217.5 367.0 216.5 367.0 215.5 367.1 214.5 367.1 213.5 367.2 212.5 367.2 211.5 367.2 210.5 367.3 209.5 367.3 208.5 367.4 207.5 367.4 206.5 367.4 205.5 367.5 204.5 367.5 203.5 367.6 202.5 367.6 201.6 367.6 200.6 367.7 199.6 367.7 198.6 367.8 197.6 367.8 196.6 367.8 195.6 367.9 194.6 367.9 193.6 368.0 192.6 368.0 191.6 368.1 190.6 368.1 189.6 368.1 188.6 368.2 187.6 368.2 186.6 368.3 185.6 368.3 184.6 368.4 183.6 368.4 182.6 368.4 181.6 368.5 180.6 368.5 179.6 368.6 178.6 368.6 177.6 368.7 176.6 368.7 175.6 368.7 174.6 368.8 173.6 368.8 172.6 368.9 171.6 368.9 170.6 369.0 169.6 369.0 168.6 369.0 167.6 369.1 166.6 369.1 165.6 369.2 164.6 369.2 163.6 369.3 162.6 369.3 161.6 369.4 160.6 369.4 159.6 369.5 158.6 369.5 157.6 369.5 156.6 369.6 155.6 369.6 154.6 369.7 153.6 369.7 152.6 369.8 151.6 369.8 150.6 369.9 149.6 369.9 148.6 370.0 147.6 370.0 146.6 370.1 145.6 370.1 144.6 370.2 143.6 370.2 142.6 370.3 141.6 370.3 140.6 370.4 139.6 370.4 138.6 370.5 137.6 370.5 136.5 370.6 135.5 370.6 134.5 370.6 133.5 370.7 132.5 370.8 131.5 370.8 130.5 370.9 129.5 370.9 128.5 371.0 127.5 371.0 126.5 371.1 125.5 371.1 124.5 371.2 123.5 371.2 122.5 371.3 121.5 371.3 120.5 371.4 119.5 371.4 118.5 371.5 117.5 371.5 116.5 371.6 115.5 371.7 114.5 371.7 113.5 371.8 112.5 371.8 111.5 371.9 110.5 371.9 109.6 372.0 108.6 372.1 107.6 372.1 106.6 372.2 105.6 372.2 104.6 372.3 103.6 372.4 102.6 372.4 101.6 372.5 100.6 372.5 99.7 372.6 98.7 372.7 97.7 372.7 96.7 372.8 95.7 372.9 94.8 372.9 93.8 373.0 92.8 373.1 91.8 373.1 90.9 373.2 89.9 373.3 88.9 373.3 87.9 373.4 87.0 373.5 86.0 373.6 85.0 373.7 84.0 373.8 82.9 373.9 81.9 374.1 80.8 374.2 79.7 374.4 78.6 374.6 77.5 374.8 76.3 375.0 75.0 375.3 73.8 375.6 72.7 375.8 71.7 376.1 70.9 376.4 70.5 376.7 70.4 377.0 70.7 377.2 71.4 377.5 72.3 377.8 73.4 378.0 74.5 378.3 75.6 378.6 76.7 378.9 77.7 379.2 78.7 379.4 79.6 379.7 80.6 379.8 81.6 380.0 82.6 380.1 83.6 380.2 84.5 380.2 85.5 380.3 86.5 380.4 87.5 380.5 88.5 380.6 89.5 380.7 90.5 380.8 91.5 380.8 92.5 380.9 93.5 381.0 94.5 381.1 95.5 381.2 96.5 381.3 97.5 381.4 98.5 381.5 99.5 381.6 100.5 381.7 101.5 381.8 102.4 381.9 103.4 382.0 104.4 382.1 105.4 382.2 106.4 382.3 107.4 382.4 108.4 382.4 109.4 382.5 110.4 382.6 111.4 382.7 112.4 382.8 113.4 382.9 114.4 382.9 115.4 383.0 116.4 383.1 117.4 383.2 118.4 383.2 119.4 383.3 120.4 383.4 121.4 383.4 122.4 383.5 123.4 383.6 124.4 383.6 125.4 383.7 126.4 383.8 127.4 383.9 128.4 383.9 129.4 384.0 130.4 384.1 131.4 384.1 132.4 384.2 133.4 384.3 134.4 384.4 135.4 384.4 136.4 384.5 137.4 384.6 138.3 384.7 139.3 384.7 140.3 384.8 141.3 384.9 142.3 385.0 143.3 385.1 144.3 385.1 145.3 385.2 146.3 385.3 147.3 385.4 148.3 385.5 149.3 385.6 150.3 385.6 151.3 385.7 152.3 385.8 153.3 385.9 154.3 386.0 155.3 386.1 156.3 386.2 157.3 386.2 158.3 386.3 159.3 386.4 160.3 386.5 161.3 386.6 162.3 386.7 163.3 386.8 164.3 386.9 165.3 387.0 166.3 387.1 167.2 387.2 168.2 387.3 169.2 387.4 170.2 387.5 171.2 387.6 172.2 387.7 173.2 387.8 174.2 387.9 175.2 388.0 176.2 388.1 177.2 388.2 178.2 388.3 179.2 388.4 180.2 388.5 181.2 388.6 182.2 388.7 183.2 388.8 184.2 388.9 185.2 389.0 186.2 389.1 187.1 389.2 188.1 389.3 189.1 389.4 190.1 389.6 191.1 389.7 192.1 389.8 193.1 389.9 194.1 390.0 195.1 390.1 196.1 390.2 197.1 390.3 198.1 390.4 199.1 390.5 200.1 390.6 201.1 390.8 202.1 390.9 203.0 391.0 204.0 391.1 205.0 391.2 206.0 391.3 207.0 391.4 208.0 391.5 209.0 391.7 210.0 391.8 211.0 391.9 212.0 392.0 213.0 392.1 214.0 392.2 215.0 392.3 216.0 392.4 217.0 392.6 218.0 392.7 218.9 392.8 219.9 392.9 220.9 393.0 221.9 393.1 222.9 393.2 223.9 393.3 224.9 393.4 225.9 393.6 226.9 393.7 227.9 393.8 228.9 393.9 229.9 394.0 230.9 394.1 231.9 394.2 232.9 394.3 233.9 394.4 234.8 394.6 235.8 394.7 236.8 394.8 237.8 394.9 238.8 395.0 239.8 395.1 240.8 395.2 241.8 395.3 242.8 395.4 243.8 395.5 244.8 395.6 245.8 395.7 246.8 395.8 247.8 395.9 248.8 396.0 249.8 396.1 250.8 396.2 251.8 396.4 252.8 396.5 253.8 396.6 254.7 396.7 255.7 396.8 256.7 396.9 257.7 397.0 258.7 397.1 259.7 397.2 260.7 397.3 261.7 397.4 262.7 397.5 263.7 397.6 264.7 397.7 265.7 397.8 266.7 397.9 267.7 398.0 268.7" stroke-dashoffset="10.3"/>
<path d="M398.0 268.7L398.1 269.7 398.2 270.7 398.4 271.7 398.5 272.7 398.6 273.6 398.7 274.6 398.8 275.6 398.9 276.6 399.0 277.6 399.2 278.6 399.3 279.6 399.4 280.6 399.5 281.6 399.6 282.6 399.8 283.6 399.9 284.6 400.0 285.6 400.1 286.6 400.3 287.5 400.4 288.5 400.5 289.5 400.7 290.5 400.8 291.5 400.9 292.5 401.1 293.5 401.2 294.5 401.4 295.5 401.5 296.4 401.7 297.4 401.8 298.4 402.0 299.4 402.1 300.4 402.3 301.4 402.4 302.4 402.6 303.4 402.8 304.3 402.9 305.3 403.1 306.3 403.3 307.3 403.4 308.3 403.6 309.3 403.8 310.2 404.0 311.2 404.2 312.2 404.4 313.2 404.6 314.2 404.7 315.1 404.9 316.1 405.1 317.1 405.3 318.1 405.6 319.1 405.8 320.0 406.0 321.0 406.2 322.0 406.4 323.0 406.6 323.9 406.9 324.9 407.1 325.9 407.3 326.9 407.6 327.8 407.8 328.8 408.0 329.8 408.3 330.8 408.5 331.7 408.8 332.7 409.0 333.7 409.3 334.6 409.5 335.6 409.8 336.6 410.1 337.5 410.3 338.5 410.6 339.5 410.8 340.5 411.1 341.4 411.3 342.4 411.5 343.4 411.8 344.3 412.0 345.3 412.3 346.3 412.5 347.3 412.7 348.2 412.9 349.2 413.1 350.2 413.4 351.2 413.6 352.2 413.8 353.1 414.0 354.1 414.2 355.1 414.4 356.1 414.6 357.0 414.8 358.0 415.1 359.0 415.3 359.9 415.5 360.9 415.8 361.9 416.1 362.8 416.4 363.8 416.7 364.7 417.0 365.7 417.3 366.6 417.7 367.5 418.1 368.5 418.5 369.4 418.9 370.3 419.3 371.2 419.8 372.1 420.3 373.0 420.8 373.9 421.3 374.8 421.9 375.6 422.5 376.4 423.2 377.1 424.0 377.6 424.9 378.0 425.9 378.3 426.9 378.4 428.0 378.4 429.0 378.2 430.0 377.9 430.9 377.5 431.7 377.0 432.4 376.3 433.0 375.5 433.5 374.7 434.0 373.8 434.5 372.9 435.0 372.0 435.4 371.1 435.9 370.2 436.5 369.4 437.0 368.5 437.5 367.6 438.1 366.8 438.6 365.9 439.2 365.1 439.8 364.2 440.3 363.4 440.9 362.6 441.4 361.7 442.0 360.9 442.5 360.0 443.0 359.2 443.5 358.3 444.0 357.5 444.5 356.6 444.9 355.7 445.3 354.8 445.7 353.9 446.1 353.0 446.4 352.1 446.7 351.1 447.0 350.2 447.3 349.2 447.5 348.2 447.7 347.3 447.9 346.3 448.1 345.3 448.3 344.3 448.5 343.3 448.6 342.3 448.7 341.3 448.9 340.3 449.0 339.3 449.1 338.3 449.2 337.3 449.3 336.4 449.3 335.4 449.4 334.4 449.5 333.4 449.6 332.4 449.7 331.4 449.8 330.4 449.9 329.4 450.0 328.4 450.1 327.4 450.2 326.4 450.4 325.4 450.5 324.4 450.7 323.5 450.9 322.5 451.1 321.5 451.3 320.5 451.5 319.5 451.7 318.6 451.9 317.6 452.2 316.6 452.4 315.7 452.7 314.7 452.9 313.7 453.2 312.7 453.4 311.8 453.7 310.8 454.0 309.8 454.2 308.9 454.5 307.9 454.8 306.9 455.0 306.0 455.3 305.0 455.5 304.0 455.8 303.0 456.0 302.1 456.2 301.1 456.5 300.1 456.7 299.2 456.9 298.2 457.1 297.2 457.4 296.2 457.6 295.3 457.8 294.3 458.0 293.3 458.2 292.3 458.3 291.3 458.5 290.4 458.7 289.4 458.8 288.4 459.0 287.4 459.2 286.4 459.3 285.4 459.4 284.5 459.6 283.5 459.7 282.5 459.8 281.5 459.9 280.5 460.0 279.5 460.1 278.5 460.2 277.5 460.2 276.5 460.3 275.5 460.4 274.5 460.4 273.5 460.5 272.5 460.5 271.5 460.6 270.5 460.6 269.5 460.6 268.5 460.7 267.5 460.7 266.5 460.7 265.5 460.7 264.5 460.7 263.5 460.8 262.5 460.8 261.5 460.8 260.5 460.8 259.5 460.8 258.5 460.8 257.5 460.9 256.5 460.9 255.5 460.9 254.5 461.0 253.5 461.0 252.5 461.1 251.5 461.1 250.5 461.2 249.5 461.3 248.5 461.4 247.5 461.5 246.5 461.5 245.5 461.6 244.5 461.8 243.5 461.9 242.5 462.0 241.5 462.1 240.5" stroke-dashoffset="13.5"/>
<path d="M462.1 240.5L462.2 239.6 462.3 238.6 462.5 237.6 462.6 236.6 462.7 235.6 462.9 234.6 463.0 233.6 463.1 232.6 463.2 231.6 463.4 230.6 463.5 229.6 463.6 228.6 463.7 227.6 463.8 226.7 464.0 225.7 464.1 224.7 464.2 223.7 464.3 222.7 464.4 221.7 464.5 220.7 464.6 219.7 464.8 218.7 464.9 217.7 465.0 216.7 465.1 215.7 465.2 214.7 465.3 213.7 465.4 212.7 465.5 211.7 465.6 210.7 465.7 209.7 465.8 208.8 465.9 207.8 466.0 206.8 466.1 205.8 466.2 204.8 466.2 203.8 466.3 202.8 466.4 201.8 466.5 200.8 466.6 199.8 466.7 198.8 466.8 197.8 466.9 196.8 467.0 195.8 467.0 194.8 467.1 193.8 467.2 192.8 467.3 191.8 467.4 190.8 467.4 189.8 467.5 188.8 467.6 187.8 467.7 186.8 467.8 185.8 467.8 184.8 467.9 183.8 468.0 182.8 468.1 181.8 468.1 180.8 468.2 179.8 468.3 178.8 468.3 177.8 468.4 176.8 468.5 175.8 468.5 174.8 468.6 173.9 468.7 172.9 468.8 171.9 468.8 170.9 468.9 169.9 469.0 168.9 469.0 167.9 469.1 166.9 469.1 165.9 469.2 164.9 469.3 163.9 469.3 162.9 469.4 161.9 469.5 160.9 469.5 159.9 469.6 158.9 469.6 157.9 469.7 156.9 469.8 155.9 469.8 154.9 469.9 153.9 470.0 152.9 470.0 151.9 470.1 150.9 470.1 149.9 470.2 148.9 470.2 147.9 470.3 146.9 470.4 145.9 470.4 144.9 470.5 143.9 470.5 142.9 470.6 141.9 470.7 140.9 470.7 139.9 470.8 138.9 470.8 138.0 470.9 137.0 471.0 136.0 471.0 135.0 471.1 134.0 471.2 133.0 471.2 132.0 471.3 131.0 471.3 130.0 471.4 129.0 471.5 128.0 471.5 127.0 471.6 126.0 471.7 125.0 471.8 124.0 471.8 123.0 471.9 122.0 472.0 121.0 472.1 120.0 472.1 119.0 472.2 118.0 472.3 117.0 472.4 116.0 472.4 115.0 472.5 114.0 472.6 113.0 472.7 112.0 472.8 111.0 472.9 110.0 473.0 109.0 473.1 108.0 473.2 107.0 473.3 106.0 473.4 105.0 473.5 104.0 473.6 103.0 473.7 102.0 473.8 101.0 473.9 100.0 474.0 99.0 474.1 98.0 474.2 97.0 474.3 96.0 474.4 95.0 474.5 94.0 474.6 93.0 474.7 92.1 474.9 91.1 475.0 90.1 475.1 89.2 475.2 88.2 475.3 87.3 475.4 86.3 475.5 85.4 475.7 84.4 475.8 83.4 476.0 82.4 476.1 81.4 476.3 80.3 476.5 79.2 476.8 78.0 477.0 76.8 477.3 75.6 477.7 74.5 478.0 73.5 478.4 72.7 478.7 72.3 479.1 72.4 479.5 72.9 479.9 73.7 480.3 74.7 480.7 75.8 481.0 76.9 481.3 77.9 481.6 78.9 481.8 79.9 482.0 80.8 482.2 81.8 482.4 82.8 482.6 83.8 482.8 84.8 482.9 85.8 483.0 86.7 483.2 87.7 483.3 88.7 483.4 89.7 483.5 90.7 483.6 91.7 483.7 92.7 483.9 93.7 484.0 94.7 484.1 95.6 484.2 96.6 484.3 97.6 484.4 98.6 484.5 99.6 484.7 100.6 484.8 101.6 484.9 102.6 485.0 103.6 485.1 104.6 485.2 105.6 485.3 106.6 485.4 107.6 485.5 108.6 485.6 109.6 485.8 110.6 485.9 111.6 486.0 112.5 486.1 113.5 486.1 114.5 486.2 115.5 486.3 116.5 486.4 117.5 486.5 118.5 486.6 119.5 486.7 120.5 486.8 121.5 486.9 122.5 487.0 123.5 487.0 124.5 487.1 125.5 487.2 126.5 487.3 127.5 487.4 128.5 487.4 129.5 487.5 130.5 487.6 131.5 487.7 132.5 487.7 133.5 487.8 134.5 487.9 135.5 488.0 136.5 488.1 137.5 488.1 138.5 488.2 139.5 488.3 140.5 488.4 141.5 488.4 142.5 488.5 143.5 488.6 144.5 488.7 145.4 488.7 146.4 488.8 147.4 488.9 148.4 489.0 149.4 489.1 150.4 489.2 151.4 489.2 152.4 489.3 153.4 489.4 154.4 489.5 155.4 489.6 156.4 489.7 157.4 489.8 158.4 489.8 159.4 489.9 160.4 490.0 161.4 490.1 162.4 490.2 163.4 490.3 164.4 490.4 165.4 490.5 166.4 490.6 167.4 490.7 168.4 490.8 169.4 490.8 170.4 490.9 171.4 491.0 172.3 491.1 173.3 491.2 174.3 491.3 175.3 491.4 176.3 491.5 177.3 491.6 178.3 491.7 179.3 491.8 180.3 491.9 181.3 492.0 182.3 492.1 183.3 492.2 184.3 492.3 185.3 492.4 186.3 492.5 187.3 492.6 188.3 492.7 189.3 492.8 190.3 492.9 191.3 493.0 192.2 493.1 193.2 493.2 194.2 493.3 195.2 493.4 196.2 493.5 197.2 493.7 198.2 493.8 199.2 493.9 200.2 494.0 201.2 494.1 202.2 494.2 203.2 494.3 204.2 494.4 205.2 494.5 206.2 494.6 207.2 494.7 208.2 494.8 209.2 494.9 210.1 495.0 211.1 495.1 212.1 495.2 213.1 495.3 214.1 495.4 215.1 495.6 216.1 495.7 217.1 495.8 218.1 495.9 219.1 496.0 220.1 496.1 221.1 496.2 222.1 496.3 223.1 496.4 224.1 496.5 225.1 496.6 226.1 496.7 227.1 496.8 228.1 496.9 229.0 497.0 230.0 497.1 231.0 497.2 232.0 497.4 233.0 497.5 234.0 497.6 235.0 497.7 236.0 497.8 237.0 497.9 238.0 498.0 239.0 498.1 240.0 498.2 241.0 498.3 242.0 498.4 243.0 498.5 244.0 498.6 245.0 498.7 246.0 498.8 247.0 498.9 247.9 499.0 248.9 499.1 249.9 499.2 250.9 499.3 251.9 499.4 252.9 499.5 253.9 499.6 254.9 499.7 255.9 499.8 256.9 499.9 257.9 500.0 258.9 500.1 259.9 500.2 260.9 500.3 261.9 500.4 262.9 500.5 263.9 500.6 264.9 500.8 265.9 500.9 266.9 501.0 267.8 501.1 268.8 501.2 269.8 501.3 270.8 501.4 271.8 501.5 272.8 501.6 273.8 501.7 274.8 501.8 275.8 501.9 276.8 502.0 277.8 502.1 278.8 502.2 279.8 502.3 280.8 502.4 281.8 502.5 282.8 502.6 283.8 502.7 284.8 502.8 285.8 503.0 286.7 503.1 287.7 503.2 288.7 503.3 289.7 503.4 290.7 503.5 291.7 503.6 292.7 503.7 293.7 503.8 294.7 503.9 295.7 504.0 296.7 504.2 297.7 504.3 298.7 504.4 299.7 504.5 300.7 504.6 301.7 504.7 302.7 504.8 303.6 504.9 304.6 505.1 305.6 505.2 306.6 505.3 307.6 505.4 308.6 505.5 309.6 505.6 310.6 505.7 311.6 505.9 312.6 506.0 313.6 506.1 314.6 506.2 315.6 506.3 316.6 506.5 317.5 506.6 318.5 506.7 319.5 506.8 320.5 506.9 321.5 507.1 322.5 507.2 323.5 507.3 324.5 507.4 325.5 507.6 326.5 507.7 327.5 507.8 328.5 507.9 329.5 508.1 330.4 508.2 331.4 508.3 332.4 508.5 333.4 508.6 334.4 508.7 335.4 508.9 336.4 509.0 337.4 509.1 338.4 509.2 339.4 509.4 340.4 509.5 341.3 509.6 342.3 509.8 343.3 509.9 344.3 510.1 345.3" stroke-dashoffset="9.1"/>
<path d="M510.1 345.3L510.2 346.3 510.3 347.3 510.5 348.3 510.6 349.3 510.7 350.3 510.9 351.3 511.0 352.2 511.1 353.2 511.3 354.2 511.4 355.2 511.6 356.2 511.7 357.2 511.8 358.2 512.0 359.2 512.1 360.2 512.3 361.2 512.4 362.1 512.6 363.1 512.7 364.1 512.8 365.1 513.0 366.1 513.1 367.1 513.3 368.1 513.4 369.1 513.6 370.1 513.7 371.1 513.9 372.1 514.0 373.0 514.1 374.0 514.3 375.0 514.4 376.0 514.6 377.0 514.7 378.0 514.9 379.0 515.0 380.0 515.1 381.0 515.3 382.0 515.4 382.9 515.6 383.9 515.7 384.9 515.8 385.9 516.0 386.9 516.1 387.9 516.3 388.9 516.4 389.9 516.5 390.9 516.7 391.9 516.8 392.9 516.9 393.9 517.1 394.8 517.2 395.8 517.3 396.8 517.4 397.8 517.6 398.8 517.7 399.8 517.8 400.8 517.9 401.8 518.0 402.8 518.2 403.8 518.3 404.8 518.4 405.8 518.5 406.8 518.6 407.7 518.7 408.7 518.8 409.7 519.0 410.7 519.1 411.7 519.2 412.7 519.3 413.7 519.4 414.7 519.5 415.7 519.6 416.7 519.7 417.7 519.8 418.7 519.9 419.7 520.0 420.7 520.1 421.7 520.2 422.7 520.3 423.6 520.4 424.6 520.5 425.6 520.6 426.6 520.7 427.6 520.8 428.6 520.9 429.6 521.0 430.6 521.1 431.6 521.2 432.6 521.3 433.6 521.4 434.6 521.5 435.6 521.6 436.6 521.7 437.6 521.8 438.6 521.9 439.6 522.0 440.5 522.1 441.5 522.2 442.5 522.3 443.5 522.5 444.5 522.6 445.5 522.7 446.5 522.8 447.5 522.9 448.5 523.0 449.5 523.1 450.5 523.2 451.5 523.4 452.5 523.5 453.5 523.6 454.5 523.7 455.4 523.8 456.4 524.0 457.4 524.1 458.4 524.2 459.4 524.3 460.4 524.5 461.4 524.6 462.4 524.7 463.4 524.9 464.4 525.0 465.4 525.2 466.3 525.3 467.3 525.4 468.3 525.6 469.3 525.7 470.3 525.9 471.3 526.0 472.3 526.2 473.3 526.4 474.3 526.5 475.3 526.7 476.2 526.8 477.2 527.0 478.2 527.2 479.2 527.4 480.2 527.5 481.2 527.7 482.2 527.9 483.2 528.1 484.1 528.3 485.1 528.5 486.1 528.7 487.1 528.9 488.1 529.1 489.1 529.3 490.1 529.5 491.0 529.7 492.0 529.9 493.0 530.1 494.0 530.3 495.0 530.5 495.9 530.7 496.9 530.9 497.9 531.1 498.9 531.4 499.9 531.6 500.8 531.8 501.8 532.0 502.8 532.2 503.8 532.4 504.8 532.7 505.7 532.9 506.7 533.1 507.7 533.3 508.6 533.6 509.6 533.8 510.6 534.0 511.6 534.2 512.5 534.4 513.5 534.7 514.5 534.9 515.4 535.1 516.4 535.3 517.4 535.5 518.3 535.7 519.3 536.0 520.3 536.2 521.2 536.4 522.2 536.6 523.1 536.8 524.1 537.0 525.0 537.2 526.0 537.4 527.0 537.6 527.9 537.9 528.9 538.1 529.8 538.3 530.8 538.5 531.8 538.7 532.8 539.0 533.8 539.2 534.8 539.5 535.8 539.7 536.8 540.0 537.9 540.3 539.0 540.6 540.0 540.9 541.1 541.3 542.3 541.6 543.4 542.0 544.4 542.3 545.2 542.7 545.8 543.1 546.0 543.4 545.8 543.8 545.3 544.1 544.4 544.4 543.4 544.7 542.3 544.9 541.1 545.1 540.0 545.3 539.0 545.4 538.0 545.6 537.0 545.7 536.0 545.8 535.0 545.9 534.0 546.0 533.0 546.1 532.0 546.2 531.0 546.3 530.1 546.4 529.1 546.5 528.1 546.6 527.1 546.7 526.1 546.8 525.1 546.9 524.1 547.0 523.1 547.1 522.1 547.2 521.1 547.2 520.1 547.3 519.1 547.4 518.2 547.5 517.2 547.5 516.2 547.6 515.2 547.7 514.2 547.7 513.2 547.8 512.2 547.9 511.2 547.9 510.2 548.0 509.2 548.1 508.2 548.1 507.2 548.2 506.2 548.2 505.2 548.3 504.2 548.4 503.2 548.4 502.2 548.5 501.2 548.5 500.2 548.6 499.2 548.6 498.2 548.7 497.2 548.7 496.2 548.8 495.2 548.8 494.2 548.9 493.2 548.9 492.2 549.0 491.2 549.0 490.2 549.1 489.2 549.1 488.2 549.2 487.2 549.2 486.2 549.3 485.2 549.3 484.2 549.4 483.2 549.4 482.2 549.5 481.2 549.5 480.2 549.6 479.2 549.6 478.2 549.7 477.2 549.7 476.2 549.8 475.2 549.8 474.2 549.9 473.2 549.9 472.2 550.0 471.2 550.0 470.2 550.1 469.2 550.1 468.2 550.2 467.2 550.2 466.2 550.3 465.2 550.3 464.2 550.4 463.2 550.4 462.2 550.5 461.2 550.5 460.2 550.5 459.2 550.6 458.2 550.6 457.2 550.7 456.2 550.7 455.2 550.8 454.2 550.8 453.2 550.9 452.2 550.9 451.2 550.9 450.2 551.0 449.2 551.0 448.2 551.1 447.2 551.1 446.2 551.2 445.2 551.2 444.2 551.2 443.2 551.3 442.2 551.3 441.2 551.4 440.2 551.4 439.2 551.4 438.2 551.5 437.2 551.5 436.2 551.6 435.2 551.6 434.2 551.6 433.2 551.7 432.2 551.7 431.2 551.7 430.2 551.8 429.2 551.8 428.2 551.8 427.2 551.9 426.2 551.9 425.2 552.0 424.2 552.0 423.2 552.0 422.2" stroke-dashoffset="4.4"/>
<path d="M552.0 422.2L552.1 421.2 552.1 420.2 552.1 419.2 552.2 418.2 552.2 417.2 552.2 416.2 552.3 415.2 552.3 414.2 552.3 413.2 552.4 412.2 552.4 411.2 552.4 410.2 552.5 409.2 552.5 408.2 552.5 407.3 552.6 406.3 552.6 405.3 552.6 404.3 552.7 403.3 552.7 402.3 552.7 401.3 552.7 400.3 552.8 399.3 552.8 398.3 552.8 397.3 552.9 396.3 552.9 395.3 552.9 394.3 553.0 393.3 553.0 392.3 553.0 391.3 553.0 390.3 553.1 389.3 553.1 388.3 553.1 387.3 553.2 386.3 553.2 385.3 553.2 384.3 553.2 383.3 553.3 382.3 553.3 381.3 553.3 380.3 553.4 379.3 553.4 378.3 553.4 377.3 553.4 376.3 553.5 375.3 553.5 374.3 553.5 373.3 553.5 372.3 553.6 371.3 553.6 370.3 553.6 369.3 553.6 368.3 553.7 367.3 553.7 366.3 553.7 365.3 553.7 364.3 553.8 363.3 553.8 362.3 553.8 361.3 553.9 360.3 553.9 359.3 553.9 358.3 553.9 357.3 554.0 356.3 554.0 355.3 554.0 354.3 554.0 353.3 554.1 352.3 554.1 351.3 554.1 350.3 554.1 349.3 554.2 348.3 554.2 347.3 554.2 346.3 554.2 345.3 554.3 344.3 554.3 343.3 554.3 342.3 554.3 341.3 554.4 340.3 554.4 339.3 554.4 338.3 554.4 337.3 554.5 336.3 554.5 335.3 554.5 334.3 554.5 333.3 554.5 332.3 554.6 331.3 554.6 330.3 554.6 329.3 554.6 328.3 554.7 327.3 554.7 326.3 554.7 325.3 554.7 324.3 554.8 323.3 554.8 322.3 554.8 321.3 554.8 320.3 554.9 319.3 554.9 318.3 554.9 317.3 554.9 316.3 555.0 315.3 555.0 314.3 555.0 313.3 555.0 312.3 555.1 311.3 555.1 310.3 555.1 309.3 555.1 308.3 555.2 307.3 555.2 306.3 555.2 305.3 555.2 304.3 555.3 303.3 555.3 302.3 555.3 301.3 555.4 300.3 555.4 299.3 555.4 298.3 555.4 297.3 555.5 296.3 555.5 295.3 555.5 294.3 555.5 293.3 555.6 292.3 555.6 291.3 555.6 290.3 555.6 289.3 555.7 288.3 555.7 287.3 555.7 286.3 555.8 285.3 555.8 284.3 555.8 283.3 555.8 282.3 555.9 281.3 555.9 280.3 555.9 279.3 556.0 278.3 556.0 277.3 556.0 276.3 556.0 275.3 556.1 274.3 556.1 273.3 556.1 272.3 556.2 271.3 556.2 270.3 556.2 269.3 556.2 268.3 556.3 267.3 556.3 266.3 556.3 265.3 556.4 264.3 556.4 263.3 556.4 262.3 556.5 261.3 556.5 260.3 556.5 259.3 556.6 258.3 556.6 257.3 556.6 256.3 556.7 255.3 556.7 254.3 556.7 253.3 556.8 252.3 556.8 251.3 556.9 250.3 556.9 249.3 556.9 248.3 557.0 247.3 557.0 246.3 557.0 245.3 557.1 244.3 557.1 243.3 557.2 242.3 557.2 241.3 557.2 240.3 557.3 239.3 557.3 238.3 557.4 237.3 557.4 236.3 557.5 235.3 557.5 234.3 557.6 233.3 557.6 232.3 557.6 231.3 557.7 230.3 557.7 229.3 557.8 228.3 557.8 227.3 557.9 226.3 557.9 225.3 558.0 224.3 558.0 223.3 558.1 222.3 558.1 221.3 558.2 220.3 558.3 219.3 558.3 218.3 558.4 217.3 558.4 216.3 558.5 215.3 558.5 214.3 558.6 213.3 558.7 212.3 558.7 211.3 558.8 210.3 558.8 209.3 558.9 208.3 559.0 207.3 559.0 206.3 559.1 205.3 559.2 204.4 559.2 203.4 559.3 202.4 559.4 201.4 559.4 200.4 559.5 199.4 559.6 198.4 559.7 197.4 559.7 196.4 559.8 195.4 559.9 194.4 560.0 193.4 560.0 192.4 560.1 191.4 560.2 190.4 560.3 189.4 560.4 188.4 560.5 187.4 560.6 186.4 560.7 185.4 560.8 184.4 561.0 183.5 561.1 182.5 561.2 181.5 561.4 180.5 561.5 179.5 561.7 178.5 561.9 177.5 562.1 176.5 562.3 175.5 562.5 174.6 562.7 173.6 563.0 172.6 563.2 171.6 563.5 170.6 563.7 169.6 564.0 168.6 564.3 167.7 564.5 166.7 564.8 165.6 565.1 164.7 565.3 163.8 565.6 163.4 566.0 163.4 566.4 163.9 566.8 164.8 567.1 165.8 567.5 166.9 567.7 168.0 568.0 169.1 568.3 170.2 568.5 171.2 568.7 172.2 569.0 173.2 569.2 174.1 569.4 175.1 569.7 176.0 569.8 176.9 570.0 177.9 570.2 178.9 570.4 179.8 570.5 180.8 570.7 181.8 570.8 182.8 571.0 183.8 571.1 184.8 571.2 185.7 571.4 186.7 571.5 187.7 571.6 188.7 571.8 189.7 572.0 190.7 572.1 191.7 572.3 192.7 572.5 193.7 572.7 194.7 572.9 195.7 573.1 196.7 573.3 197.7 573.5 198.6 573.7 199.6 574.0 200.6 574.2 201.5 574.5 202.5 574.7 203.5 575.0 204.4 575.3 205.4 575.5 206.4 575.8 207.3 576.1 208.3 576.4 209.2 576.6 210.2 576.9 211.2 577.2 212.1 577.5 213.1 577.8 214.0 578.1 215.0 578.4 215.9 578.7 216.9 578.9 217.8 579.2 218.8 579.5 219.7 579.8 220.7 580.1 221.7 580.3 222.6 580.6 223.6 580.9 224.5 581.1 225.5 581.4 226.5 581.6 227.4 581.9 228.4 582.1 229.4 582.4 230.3 582.6 231.3 582.8 232.3 583.0 233.3 583.3 234.2 583.5 235.2 583.7 236.2 583.9 237.2 584.1 238.1 584.3 239.1 584.5 240.1 584.7 241.1 584.9 242.1 585.1 243.1 585.3 244.0 585.5 245.0 585.7 246.0 585.8 247.0 586.0 248.0 586.2 249.0 586.4 249.9 586.5 250.9 586.7 251.9 586.9 252.9 587.0 253.9 587.2 254.9 587.4 255.9 587.5 256.8 587.7 257.8 587.9 258.8 588.0 259.8 588.2 260.8 588.3 261.8 588.5 262.8 588.6 263.8 588.8 264.8 588.9 265.7 589.0 266.7 589.2 267.7 589.3 268.7 589.5 269.7 589.6 270.7 589.7 271.7 589.9 272.7 590.0 273.7 590.1 274.7 590.3 275.7 590.4 276.6 590.5 277.6 590.6 278.6 590.8 279.6 590.9 280.6 591.0 281.6 591.1 282.6 591.2 283.6 591.4 284.6 591.5 285.6 591.6 286.6 591.7 287.6 591.8 288.6 591.9 289.6 592.0 290.5 592.1 291.5 592.2 292.5 592.3 293.5 592.4 294.5 592.5 295.5 592.6 296.5 592.7 297.5 592.8 298.5 592.9 299.5 593.0 300.5 593.1 301.5 593.2 302.5 593.3 303.5 593.4 304.5 593.5 305.5 593.6 306.5 593.7 307.5 593.8 308.5 593.9 309.5 594.0 310.5 594.0 311.4 594.1 312.4 594.2 313.4 594.3 314.4 594.4 315.4 594.5 316.4 594.5 317.4 594.6 318.4 594.7 319.4 594.8 320.4 594.9 321.4 594.9 322.4 595.0 323.4 595.1 324.4 595.2 325.4 595.2 326.4 595.3 327.4 595.4 328.4 595.5 329.4 595.5 330.4 595.6 331.4 595.7 332.4 595.8 333.4 595.8 334.4 595.9 335.4 596.0 336.4 596.1 337.4 596.1 338.4 596.2 339.4 596.3 340.4 596.3 341.4 596.4 342.4 596.5 343.4 596.5 344.4 596.6 345.4 596.7 346.4 596.7 347.4 596.8 348.4 596.9 349.4 596.9 350.3 597.0 351.3 597.1 352.3 597.1 353.3 597.2 354.3 597.3 355.3 597.3 356.3 597.4 357.3 597.5 358.3 597.5 359.3 597.6 360.3 597.6 361.3 597.7 362.3 597.8 363.3 597.8 364.3 597.9 365.3 597.9 366.3 598.0 367.3 598.1 368.3 598.1 369.3 598.2 370.3 598.2 371.3 598.3 372.3 598.4 373.3 598.4 374.3 598.5 375.3 598.5 376.3 598.6 377.3 598.6 378.3 598.7 379.3 598.8 380.3 598.8 381.3 598.9 382.3 598.9 383.3 599.0 384.3 599.0 385.3 599.1 386.3 599.1 387.3 599.2 388.3 599.2 389.3 599.3 390.3 599.3 391.3 599.4 392.3 599.5 393.3 599.5 394.3 599.6 395.3 599.6 396.3 599.7 397.3 599.7 398.3 599.8 399.3 599.8 400.3 599.9 401.3 599.9 402.3 600.0 403.3 600.0 404.3 600.1 405.3 600.1 406.3 600.2 407.3 600.2 408.3 600.3 409.3 600.3 410.3 600.4 411.3 600.4 412.3 600.5 413.3 600.5 414.3 600.6 415.3 600.6 416.3 600.7 417.3 600.7 418.3 600.8 419.3 600.8 420.3 600.8 421.3 600.9 422.3 600.9 423.3 601.0 424.3 601.0 425.3 601.1 426.2 601.1 427.2 601.2 428.2 601.2 429.2 601.3 430.2 601.3 431.2 601.4 432.2 601.4 433.2 601.5 434.2 601.5 435.2 601.6 436.2 601.6 437.2 601.6 438.2 601.7 439.2 601.7 440.2 601.8 441.2 601.8 442.2 601.9 443.2 601.9 444.2 602.0 445.2 602.0 446.2 602.1 447.2 602.1 448.2 602.1 449.2 602.2 450.2 602.2 451.2 602.3 452.2 602.3 453.2 602.4 454.2 602.4 455.2 602.5 456.2 602.5 457.2 602.6 458.2 602.6 459.2 602.6 460.2 602.7 461.2 602.7 462.2 602.8 463.2 602.8 464.2 602.9 465.2 602.9 466.2 603.0 467.2 603.0 468.2 603.1 469.2 603.1 470.2 603.2 471.2 603.2 472.2 603.2 473.2 603.3 474.2 603.3 475.2 603.4 476.2 603.4 477.2 603.5 478.2 603.5 479.2 603.6 480.2 603.6 481.2 603.7 482.2 603.7 483.2 603.8 484.2 603.8 485.2 603.8 486.2 603.9 487.2 603.9 488.2 604.0 489.2 604.0 490.2 604.1 491.2 604.1 492.2 604.2 493.2 604.2 494.2 604.3 495.2 604.3 496.2 604.4 497.2 604.4 498.2 604.5 499.2 604.5 500.2 604.6 501.2 604.6 502.2 604.7 503.2 604.7 504.2 604.8 505.2 604.8 506.2 604.9 507.2 604.9 508.2 605.0 509.2 605.0 510.2 605.1 511.2 605.1 512.2 605.2 513.2 605.2 514.2 605.3 515.2 605.3 516.2 605.4 517.2 605.4 518.2 605.5 519.2 605.5 520.2 605.6 521.2 605.6 522.2 605.7 523.2 605.7 524.1 605.8 525.1 605.9 526.1 605.9 527.1 606.0 528.1 606.0 529.1 606.1 530.1 606.1 531.1 606.2 532.1 606.2 533.1 606.3 534.1 606.3 535.1 606.4 536.1 606.5 537.1 606.5 538.1 606.6 539.1 606.6 540.1 606.7 541.1 606.7 542.1 606.8 543.1 606.8 544.1 606.9 545.1 607.0 546.1 607.0 547.1 607.1 548.1 607.1 549.1 607.2 550.1 607.2 551.1 607.3 552.1 607.4 553.1 607.4 554.1 607.5 555.1 607.5 556.1 607.6 557.1 607.7 558.1 607.7 559.1 607.8 560.1 607.8 561.1 607.9 562.1 608.0 563.1 608.0 564.1 608.1 565.1 608.1 566.1 608.2 567.1 608.3 568.1 608.3 569.1 608.4 570.1 608.5 571.1 608.5 572.1 608.6 573.1 608.6 574.1 608.7 575.1 608.8 576.1 608.8 577.1 608.9 578.1 609.0 579.1 609.0 580.1 609.1 581.1 609.2 582.1 609.2 583.1 609.3 584.0 609.3 585.0 609.4 586.0 609.5 587.0 609.5 588.0 609.6 589.0 609.7 590.0 609.7 591.0 609.8 592.0 609.9 593.0 609.9 594.0 610.0 595.0 610.1 596.0 610.2 597.0 610.2 598.0 610.3 599.0 610.4 600.0 610.4 601.0 610.5 602.0 610.6 603.0 610.6 604.0 610.7 605.0 610.8 606.0 610.8 607.0 610.9 608.0 611.0 609.0 611.1 610.0 611.1 611.0 611.2 612.0 611.3 613.0 611.3 614.0 611.4 615.0 611.5 616.0 611.6 617.0 611.6 618.0 611.7 619.0 611.8 620.0 611.9 621.0 611.9 622.0 612.0 623.0 612.1 624.0 612.2 625.0 612.2 626.0 612.3 627.0 612.4 628.0 612.5 629.0 612.5 630.0 612.6 631.0 612.7 631.9 612.8 632.9 612.9 633.9 612.9 634.9 613.0 635.9 613.1 636.9 613.2 637.9 613.2 638.9 613.3 639.9 613.4 640.9 613.5 641.9 613.6 642.9 613.6 643.9 613.7 644.9 613.8 645.9 613.9 646.9 614.0 647.9 614.1 648.9 614.1 649.9 614.2 650.9 614.3 651.9 614.4 652.9 614.5 653.9 614.6 654.9 614.6 655.9 614.7 656.9 614.8 657.9 614.9 658.9 615.0 659.9 615.1 660.9 615.2 661.9 615.3 662.9 615.4 663.9 615.6 664.8 615.7 665.8 615.9 666.8 616.1 667.8 616.3 668.7 616.5 669.7 616.7 670.7 617.0 671.6 617.3 672.6 617.7 673.5 618.0 674.4 618.4 675.4 618.9 676.3 619.3 677.2 619.8 678.1 620.4 679.0 621.0 679.8 621.6 680.6 622.3 681.3 623.1 681.8 624.0 682.3 624.9 682.6 625.9 682.8 626.9 682.9 627.9 682.9 629.0 682.9 630.0 682.9 631.1 682.9 632.1 682.9 633.1 682.9 634.1 682.9 635.1 682.9 636.0 683.0 637.0 683.0 638.0 683.0 639.0 683.0 640.0 683.0" stroke-dashoffset="22.1"/>
<path d="M640.0 683.0L641.0 683.0 642.0 683.0 643.0 683.0 644.0 683.0 645.0 683.0 646.0 683.0 647.0 683.0 648.0 683.0 649.0 683.0 650.0 683.0 651.0 683.0 652.0 683.0 653.0 683.0 654.0 683.0 655.0 683.0 656.0 683.0 657.0 683.0 658.0 683.0 659.0 683.0 660.0 683.0 661.0 683.0 662.0 683.0 663.0 683.0 664.0 683.0 665.0 683.0 666.0 683.0 667.0 683.0 668.0 683.0 669.0 682.9 670.0 682.9 671.0 682.9 672.0 682.9 673.0 682.9 674.0 682.9 675.0 682.8 676.0 682.8 677.0 682.8 678.0 682.7 679.0 682.7 680.0 682.7 681.0 682.6 682.0 682.6 683.0 682.5 684.0 682.5 685.0 682.4 686.0 682.4 687.0 682.3 688.0 682.3 689.0 682.2 690.0 682.1 691.0 682.1 692.0 682.0 693.0 681.9 694.0 681.9 695.0 681.8 696.0 681.7 697.0 681.7 698.0 681.6 699.0 681.5 700.0 681.4 701.0 681.4 702.0 681.3 703.0 681.2 704.0 681.2 705.0 681.1 706.0 681.0 707.0 681.0 708.0 680.9 709.0 680.8 710.0 680.8 711.0 680.7 712.0 680.6 713.0 680.6 714.0 680.5 715.0 680.5 716.0 680.4 717.0 680.4 718.0 680.3 718.9 680.3 719.9 680.2 720.9 680.1 721.9 679.9 722.9 679.6 723.8 679.3 724.8 679.1 725.7 679.0 726.7 679.1 727.7 679.3 728.6 679.6 729.6 679.9 730.6 680.2 731.5 680.4 732.5 680.6 733.5 680.8 734.4 681.0 735.4 681.2 736.4 681.4 737.3 681.6 738.3 681.8 739.4 682.0 740.4 682.1 741.4 682.3 742.5 682.5 743.5 682.5 744.5 682.5 745.4 682.2" stroke-dashoffset="5.0"/>
<path d="M745.4 682.2L746.3 681.9 747.1 681.4 747.9 680.8 748.6 680.1 749.2 679.3 749.8 678.5 750.3 677.7 750.8 676.8 751.2 675.9 751.6 674.9 751.9 674.0 752.2 673.0 752.5 672.0 752.7 671.1 753.0 670.1 753.2 669.1 753.5 668.1 753.7 667.2 753.9 666.2 754.1 665.2 754.3 664.2 754.5 663.2 754.7 662.3 754.9 661.3 755.0 660.3 755.2 659.3 755.4 658.3 755.6 657.3 755.8 656.4 755.9 655.4 756.1 654.4 756.3 653.4 756.5 652.4 756.7 651.5 756.9 650.5 757.1 649.5 757.3 648.5 757.5 647.5 757.7 646.6 757.9 645.6 758.1 644.6 758.3 643.6 758.5 642.7 758.7 641.7 758.9 640.7 759.1 639.7 759.3 638.7 759.6 637.8 759.8 636.8 760.0 635.8 760.2 634.8 760.4 633.9 760.6 632.9 760.9 631.9 761.1 630.9 761.3 629.9 761.5 629.0 761.7 628.0 761.9 627.0 762.1 626.0 762.3 625.0 762.5 624.1 762.7 623.1 763.0 622.1 763.2 621.1 763.3 620.1 763.5 619.2 763.7 618.2 763.9 617.2 764.1 616.2 764.3 615.2 764.5 614.3 764.7 613.3 764.8 612.3 765.0 611.3 765.2 610.3 765.3 609.3 765.5 608.3 765.7 607.4 765.8 606.4 766.0 605.4 766.1 604.4 766.3 603.4 766.4 602.4 766.6 601.4 766.7 600.4 766.9 599.5 767.0 598.5 767.2 597.5 767.3 596.5 767.4 595.5 767.6 594.5 767.7 593.5 767.8 592.5 768.0 591.5 768.1 590.5 768.2 589.5 768.3 588.6 768.5 587.6 768.6 586.6 768.7 585.6 768.8 584.6 768.9 583.6 769.0 582.6 769.2 581.6 769.3 580.6 769.4 579.6 769.5 578.6 769.6 577.6 769.7 576.6 769.8 575.6 769.9 574.6 770.0 573.6 770.1 572.7 770.2 571.7 770.3 570.7 770.4 569.7 770.5 568.7 770.6 567.7 770.7 566.7 770.8 565.7 770.9 564.7 771.0 563.7 771.1 562.7 771.2 561.7 771.3 560.7 771.4 559.7 771.5 558.7 771.6 557.7 771.7 556.7 771.8 555.7 771.9 554.7 772.0 553.7 772.1 552.7 772.2 551.8 772.3 550.8 772.3 549.8 772.4 548.8 772.5 547.8 772.6 546.8 772.7 545.8 772.8 544.8 772.9 543.8 773.0 542.8 773.1 541.8 773.2 540.8 773.3 539.8 773.4 538.8 773.5 537.8 773.6 536.8 773.7 535.9 773.9 534.9 774.0 533.9 774.1 532.9 774.3 531.9 774.4 530.9 774.5 529.9 774.7 528.9 774.9 527.9 775.1 526.9 775.3 525.9 775.5 524.9 775.8 523.9 776.1 522.9 776.4 521.9 776.9 520.9 777.3 520.0 777.8 519.2 778.4 518.8 778.9 518.9 779.5 519.4 780.0 520.2 780.4 521.3 780.8 522.5 781.1 523.6 781.3 524.7 781.4 525.7 781.6 526.7 781.7 527.7 781.8 528.7 781.9 529.7 782.0 530.6 782.2 531.6 782.4 532.6 782.5 533.6 782.7 534.6 782.9 535.5 783.0 536.5 783.2 537.5 783.3 538.5 783.4 539.5 783.5 540.5 783.6 541.5 783.8 542.5 783.9 543.5 784.0 544.5 784.1 545.5 784.2 546.5 784.2 547.4 784.3 548.4 784.4 549.4 784.5 550.4 784.6 551.4 784.7 552.4 784.8 553.4 784.9 554.4 785.0 555.4 785.1 556.4 785.2 557.4 785.3 558.4 785.4 559.4 785.6 560.4 785.7 561.4 785.8 562.4 785.9 563.4 786.0 564.4 786.1 565.4 786.2 566.4 786.3 567.4 786.4 568.4 786.5 569.4 786.6 570.3 786.7 571.3 786.8 572.3 786.9 573.3 786.9 574.3 787.0 575.3 787.1 576.3 787.2 577.3 787.3 578.3 787.4 579.3 787.5 580.3 787.6 581.3 787.7 582.3 787.8 583.3 787.9 584.3 788.0 585.3 788.2 586.2 788.3 587.2 788.4 588.2 788.5 589.2 788.6 590.2 788.8 591.2 788.9 592.2 789.1 593.2 789.2 594.2 789.4 595.2 789.5 596.2 789.7 597.2 790.0 598.3 790.3 599.3 790.6 600.4 791.0 601.2 791.4 601.8 791.8 602.0 792.1 601.8 792.5 601.3 792.8 600.5 793.2 599.5 793.5 598.4 793.8 597.2 794.1 596.0 794.3 594.8 794.6 593.7 794.8 592.5 795.0 591.4 795.2 590.4 795.4 589.3 795.6 588.3 795.7 587.3 795.9 586.3 796.1 585.3 796.2 584.4 796.3 583.4 796.4 582.5 796.6 581.5 796.7 580.6 796.8 579.6 796.9 578.7 797.0 577.7 797.1 576.8 797.2 575.8 797.3 574.8 797.4 573.8 797.5 572.9 797.6 571.9 797.7 570.9 797.8 569.9 797.9 568.9 797.9 567.9 798.0 566.9 798.1 565.9 798.2 564.9 798.3 563.9 798.4 562.9 798.5 561.9 798.5 560.9 798.6 559.9 798.7 558.8 798.8 557.8 798.9 556.8 798.9 555.8 799.0 554.8 799.1 553.8 799.2 552.8 799.3 551.8 799.3 550.8 799.4 549.8 799.5 548.8 799.6 547.8 799.6 546.8 799.7 545.8 799.8 544.8 799.9 543.8 799.9 542.8 800.0 541.8 800.1 540.8" stroke-dashoffset="21.4"/>
<path d="M800.1 540.8L800.1 539.8 800.2 538.8 800.3 537.8 800.4 536.8 800.4 535.8 800.5 534.8 800.6 533.8 800.6 532.8 800.7 531.8 800.8 530.8 800.8 529.8 800.9 528.8 801.0 527.8 801.0 526.8 801.1 525.8 801.2 524.8 801.2 523.8 801.3 522.8 801.4 521.9 801.4 520.9 801.5 519.9 801.6 518.9 801.6 517.9 801.7 516.9 801.8 515.9 801.8 514.9 801.9 513.9 802.0 512.9 802.0 511.9 802.1 510.9 802.2 509.9 802.2 508.9 802.3 507.9 802.4 506.9 802.4 505.9 802.5 504.9 802.5 504.0 802.6 503.0 802.7 502.0 802.7 501.0 802.8 500.0 802.9 499.0 802.9 498.0 803.0 497.0 803.1 496.0 803.1 495.0 803.2 494.0 803.3 493.0 803.3 492.0 803.4 491.0 803.5 490.0 803.5 489.0 803.6 488.0 803.7 487.0 803.7 486.0 803.8 485.0 803.9 484.0 803.9 483.0 804.0 482.0 804.1 481.0 804.1 480.0 804.2 479.0 804.3 478.0 804.3 477.0 804.4 476.0 804.5 475.0 804.5 474.0 804.6 473.0 804.7 472.0 804.7 470.9 804.8 469.9 804.9 468.9 804.9 467.9 805.0 466.9 805.1 465.9 805.2 464.9 805.2 463.9 805.3 462.9 805.4 461.9 805.5 460.9 805.5 459.9 805.6 458.9 805.7 457.9 805.7 456.9 805.8 455.9 805.9 454.9 806.0 453.9 806.0 453.0 806.1 452.0 806.2 451.0 806.3 450.0 806.3 449.0 806.4 448.1 806.5 447.1 806.6 446.2 806.6 445.2 806.7 444.2 806.8 443.3 806.9 442.3 807.0 441.3 807.1 440.4 807.2 439.4 807.3 438.4 807.4 437.4 807.5 436.3 807.6 435.3 807.7 434.2 807.8 433.2 808.0 432.1 808.1 431.0 808.3 429.8 808.4 428.7 808.6 427.5 808.8 426.3 809.0 425.2 809.2 424.2 809.5 423.4 809.8 422.9 810.2 422.7 810.6 422.9 811.1 423.4 811.6 424.2 812.1 425.1 812.6 426.1 813.1 427.1 813.6 428.1 814.0 429.1 814.4 430.1 814.8 431.0 815.1 431.9 815.5 432.9 815.8 433.8 816.1 434.7 816.4 435.6 816.7 436.5 817.0 437.4 817.3 438.4 817.5 439.3 817.8 440.2 818.0 441.2 818.2 442.2 818.4 443.2 818.6 444.3 818.8 445.4 819.0 446.5 819.2 447.6 819.5 448.7 819.8 449.6 820.2 450.5 820.7 451.2 821.3 451.6 821.9 451.6 822.5 451.3 823.0 450.6 823.4 449.8 823.8 449.0 824.2 448.0 824.5 447.0 824.8 446.0 825.0 444.9" stroke-dashoffset="19.9"/>
<path d="M825.0 444.9L825.3 443.9 825.6 442.9 825.8 441.9 826.1 440.9 826.3 439.9 826.6 438.9 826.9 437.9 827.1 436.9 827.3 436.0 827.6 435.0 827.8 434.0 828.1 433.1 828.3 432.1 828.5 431.2 828.7 430.2 828.9 429.3 829.1 428.3 829.3 427.3 829.5 426.4 829.7 425.4 829.8 424.4 830.0 423.4 830.1 422.4 830.3 421.5 830.5 420.5 830.6 419.5 830.8 418.5 830.9 417.5 831.1 416.5 831.3 415.5 831.5 414.5 831.6 413.5 831.8 412.5 832.0 411.5 832.3 410.5 832.5 409.5 832.7 408.6 833.0 407.6 833.3 406.6 833.7 405.7 834.1 404.7 834.5 403.8 835.1 403.0 835.7 402.2 836.3 401.5 837.1 401.2 837.8 401.2 838.6 401.7 839.3 402.4 840.0 403.3 840.5 404.2 841.0 405.2 841.4 406.2 841.7 407.2 842.0 408.1 842.3 409.1 842.5 410.1 842.8 411.0 843.1 412.0 843.4 413.0 843.7 413.9 844.0 414.9 844.3 415.8 844.6 416.7 845.0 417.7 845.3 418.6 845.6 419.5 846.0 420.5 846.4 421.4 846.7 422.3 847.1 423.3 847.5 424.2 847.8 425.1 848.2 426.0 848.6 427.0 849.0 427.9 849.4 428.8 849.8 429.7 850.2 430.7 850.6 431.6 851.0 432.5 851.4 433.4 851.8 434.3 852.2 435.2 852.6 436.2 853.0 437.1 853.5 438.0 853.9 438.9 854.3 439.8 854.8 440.7 855.2 441.5" stroke-dashoffset="11.2"/>
<path d="M855.2 441.5L855.7 442.4 856.1 443.3 856.6 444.2 857.0 445.1 857.5 446.0 858.0 446.8 858.4 447.7 858.9 448.6 859.4 449.5 859.9 450.3 860.4 451.2 860.9 452.1 861.4 452.9 861.9 453.8 862.4 454.6 863.0 455.5 863.5 456.3 864.0 457.2 864.6 458.0 865.1 458.9 865.7 459.7 866.2 460.5 866.8 461.4 867.4 462.2 868.0 463.0 868.6 463.9 869.2 464.7 869.8 465.5 870.5 466.3 871.2 467.0 871.9 467.7 872.6 468.2 873.2 468.3 873.8 467.9 874.3 467.2 874.8 466.3 875.2 465.2 875.6 464.2 875.9 463.1 876.2 462.1 876.5 461.0 876.8 460.0 877.0 459.0 877.2 458.0 877.4 457.1 877.6 456.1 877.8 455.1 878.0 454.1 878.1 453.2 878.3 452.2 878.4 451.2 878.5 450.3 878.7 449.3 878.8 448.3 879.0 447.3 879.1 446.4 879.3 445.4 879.4 444.4 879.5 443.4 879.7 442.4 879.8 441.4 880.0 440.4 880.1 439.4" stroke-dashoffset="6.7"/>
<path d="M880.1 439.4L880.3 438.4 880.4 437.4 880.6 436.4 880.7 435.4 880.9 434.4 881.0 433.4 881.2 432.4 881.3 431.4 881.5 430.5 881.6 429.5 881.8 428.5 881.9 427.5 882.1 426.5 882.2 425.5 882.4 424.5 882.6 423.5 882.7 422.5 882.9 421.6 883.1 420.6 883.2 419.6 883.4 418.6 883.6 417.7 883.8 416.7 884.0 415.7 884.2 414.8 884.4 413.8 884.6 412.8 884.9 411.9 885.1 410.9 885.4 409.9 885.7 409.0 886.0 408.0 886.4 407.0 886.8 406.0 887.2 404.9 887.8 403.9 888.3 403.1 889.0 402.5 889.6 402.2 890.4 402.4 891.1 402.9 891.9 403.5 892.6 404.3 893.3 405.1 893.9 405.9 894.5 406.8 895.1 407.6 895.6 408.5 896.1 409.4 896.6 410.2 897.1 411.1 897.5 412.0 898.0 412.9 898.4 413.9 898.8 414.8 899.1 415.7 899.5 416.6 899.9 417.5 900.2 418.5 900.6 419.4 900.9 420.4 901.3 421.3 901.6 422.2 901.9 423.2 902.2 424.1 902.5 425.1 902.8 426.0 903.1 427.0 903.4 428.0 903.6 428.9 903.9 429.9 904.2 430.8 904.4 431.8 904.7 432.8 904.9 433.7 905.2 434.7" stroke-dashoffset="21.5"/>
<path d="M905.2 434.7L905.4 435.7 905.7 436.7 905.9 437.6 906.1 438.6 906.4 439.6 906.6 440.5 906.8 441.5 907.0 442.5 907.3 443.5 907.5 444.5 907.7 445.4 907.9 446.4 908.1 447.4 908.3 448.4 908.5 449.3 908.7 450.3 908.9 451.3 909.2 452.3 909.4 453.3 909.6 454.2 909.8 455.2 910.0 456.2 910.2 457.2 910.4 458.1 910.6 459.1 910.8 460.1 911.0 461.1 911.2 462.1 911.4 463.0 911.6 464.0 911.9 465.0 912.1 466.0 912.3 466.9 912.5 467.9 912.7 468.9 912.9 469.9 913.2 470.8 913.4 471.8 913.6 472.8 913.9 473.7 914.1 474.7 914.3 475.7 914.6 476.7 914.8 477.6 915.0 478.6 915.3 479.6 915.5 480.5 915.8 481.5 916.1 482.5 916.3 483.4 916.6 484.4 916.9 485.4 917.1 486.3 917.4 487.3 917.7 488.2 918.0 489.2 918.3 490.1 918.6 491.1 918.8 492.1 919.1 493.0 919.4 494.0 919.7 494.9 920.0 495.9 920.3 496.8 920.6 497.8 920.9 498.8 921.3 499.7 921.6 500.7 921.9 501.6 922.2 502.6 922.5 503.5 922.8 504.5 923.1 505.4 923.4 506.4 923.7 507.3 924.0 508.3 924.3 509.2 924.6 510.2 924.9 511.1 925.2 512.1 925.6 513.0 925.9 514.0 926.2 514.9 926.5 515.9 926.7 516.9 927.0 517.8 927.3 518.8 927.6 519.7 927.9 520.7 928.2 521.6 928.5 522.6 928.9 523.5 929.2 524.4 929.5 525.4 929.9 526.3 930.3 527.2" stroke-dashoffset="1.9"/>
<path d="M930.3 527.2L930.7 528.1 931.1 529.0 931.5 529.9 932.0 530.8 932.5 531.7 933.1 532.6 933.8 533.5 934.5 534.4 935.2 535.2 936.0 535.8 936.8 536.3 937.6 536.6 938.4 536.6 939.2 536.3 940.0 535.9 940.8 535.2 941.6 534.5 942.4 533.7 943.2 532.9 944.1 532.2 945.0 531.5 945.9 531.0 946.9 530.7 947.9 530.5 948.8 530.4 949.8 530.4 950.7 530.6 951.5 530.9 952.3 531.3 953.1 531.7 953.8 532.3 954.5 532.9 955.1 533.6 955.7 534.4 956.3 535.2 956.8 536.1 957.3 537.0 957.8 538.0 958.2 539.0 958.6 539.9 959.0 540.9 959.4 541.9 959.8 542.9 960.1 543.9" stroke-dashoffset="2.2"/>
<path d="M960.1 543.9L960.5 544.8 960.8 545.8 961.1 546.8 961.4 547.7 961.7 548.6 962.0 549.6 962.3 550.5 962.5 551.4 962.8 552.4 963.1 553.3 963.4 554.2 963.7 555.2 964.0 556.1 964.3 557.0 964.6 557.9 964.9 558.9 965.3 559.8 965.6 560.8 965.9 561.7 966.3 562.6 966.6 563.6 967.0 564.5 967.3 565.5 967.7 566.4 968.0 567.4 968.4 568.3 968.7 569.3 969.0 570.2 969.4 571.2 969.7 572.2 970.0 573.1 970.3 574.1 970.5 575.0 970.8 576.0 971.0 577.0 971.3 578.0 971.5 578.9 971.7 579.9 971.8 580.9 972.0 581.9 972.1 582.9 972.3 583.8 972.4 584.8 972.5 585.8 972.7 586.8 972.8 587.8 972.9 588.8 973.0 589.8 973.1 590.8 973.2 591.8 973.3 592.8 973.4 593.7 973.5 594.7 973.6 595.7 973.8 596.7 973.9 597.7 974.0 598.7 974.1 599.7 974.3 600.7 974.4 601.7 974.5 602.7 974.7 603.7 974.8 604.7 975.0 605.6 975.1 606.6 975.2 607.6 975.4 608.6 975.5 609.6 975.7 610.6 975.8 611.6 976.0 612.6 976.1 613.6 976.3 614.6 976.4 615.6 976.6 616.6 976.7 617.5 976.8 618.5 977.0 619.5 977.1 620.5 977.3 621.5 977.4 622.5 977.5 623.5 977.7 624.5 977.8 625.5 977.9 626.5 978.1 627.5 978.2 628.5 978.3 629.5 978.4 630.4 978.6 631.4 978.7 632.4 978.8 633.4 978.9 634.4 979.0 635.4 979.1 636.4 979.2 637.4 979.3 638.4 979.4 639.4 979.5 640.4 979.6 641.4 979.7 642.4 979.8 643.4 979.9 644.3 980.0 645.3 980.1 646.3 980.2 647.3 980.3 648.3 980.4 649.3 980.5 650.3 980.7 651.3 980.8 652.3 980.9 653.3 981.0 654.3 981.1 655.3 981.3 656.2 981.4 657.2 981.6 658.2 981.7 659.2 981.9 660.2 982.0 661.2 982.2 662.2 982.4 663.2 982.5 664.1 982.7 665.1 982.9 666.1 983.1 667.1 983.4 668.1 983.6 669.1 983.8 670.1 984.1 671.0 984.3 672.0 984.6 673.0 984.8 674.0 985.1 675.0 985.4 675.9 985.8 676.9 986.2 677.8 986.6 678.6 987.1 679.4 987.7 680.1 988.4 680.8 989.1 681.4 990.0 681.8 991.0 682.2 992.0 682.4 993.1 682.6 994.2 682.8 995.3 682.8 996.3 682.9 997.4 682.9 998.3 683.0 999.3 683.0 1000.3 683.0 1001.2 682.9 1002.2 682.9 1003.2 682.9 1004.1 682.9 1005.1 682.9 1006.1 682.9 1007.1 682.9 1008.1 682.9 1009.2 683.0" stroke-dashoffset="22.5"/>
</g>
<path d="M141.4 683.0L142.5 683.0 143.6 683.0 144.7 683.0 145.7 682.9 146.7 682.9 147.6 683.0 148.6 683.0 149.6 683.0 150.5 683.0 151.4 683.0 152.4 683.0 153.3 683.0 154.3 683.1 155.3 683.1 156.3 683.1 157.3 683.1 158.3 683.1 159.4 683.1 160.5 683.0 161.5 683.0 162.6 682.9 163.7 682.8 164.8 682.6 165.8 682.4 166.8 682.2 167.8 681.9 168.7 681.6 169.5 681.2 170.3 680.7 171.1 680.2 171.7 679.6 172.4 678.9 172.9 678.2 173.5 677.4 174.0 676.6 174.4 675.8 174.8 674.9 175.2 674.0 175.5 673.1 175.8 672.1 176.1 671.1 176.4 670.1 176.6 669.1 176.8 668.1 177.0 667.0 177.2 666.0 177.4 665.0 177.6 664.0 177.8 663.0 178.0 661.9 178.2 660.9 178.4 660.0 178.6 659.0 178.7 658.0 178.9 657.0 179.1 656.0 179.2 655.0 179.4 654.1 179.5 653.1 179.7 652.1 179.8 651.1 180.0 650.2 180.1 649.2 180.3 648.2 180.4 647.2 180.5 646.3 180.6 645.3 180.8 644.3 180.9 643.3 181.0 642.3 181.1 641.3 181.2 640.3 181.3 639.4 181.4 638.4 181.5 637.4 181.6 636.4 181.7 635.4 181.8 634.4 181.9 633.4 182.0 632.4 182.0 631.4 182.1 630.4 182.2 629.4 182.3 628.4 182.4 627.4 182.4 626.4 182.5 625.4 182.6 624.4 182.7 623.4 182.8 622.4 182.8 621.4 182.9 620.4 183.0 619.4 183.0 618.4 183.1 617.4 183.2 616.4 183.3 615.4 183.3 614.4 183.4 613.4 183.5 612.4 183.6 611.4 183.7 610.4 183.7 609.4 183.8 608.4 183.9 607.4 184.0 606.4 184.1 605.4 184.2 604.4 184.3 603.4 184.4 602.4 184.4 601.4 184.5 600.4 184.6 599.4 184.7 598.4 184.8 597.4 184.9 596.4 185.0 595.4 185.1 594.5 185.2 593.5 185.3 592.5 185.4 591.5 185.5 590.5 185.6 589.5 185.7 588.5 185.8 587.5 185.9 586.5 186.0 585.5 186.1 584.5 186.2 583.5 186.3 582.5 186.4 581.5 186.5 580.5 186.6 579.5 186.7 578.5 186.8 577.5 186.9 576.5 187.0 575.6 187.1 574.6 187.2 573.6 187.3 572.6 187.4 571.6 187.6 570.6 187.7 569.6 187.8 568.6 187.9 567.6 188.0 566.6 188.1 565.6 188.2 564.6 188.3 563.6 188.3 562.6 188.4 561.6 188.5 560.6 188.6 559.7 188.7 558.7 188.8 557.7 188.9 556.7 189.0 555.7 189.1 554.7 189.2 553.7 189.3 552.7 189.4 551.7 189.5 550.7 189.6 549.7 189.7 548.7 189.7 547.7 189.8 546.7 189.9 545.7 190.0 544.7 190.1 543.7 190.2 542.7 190.3 541.7 190.4 540.7 190.4 539.7 190.5 538.7 190.6 537.8 190.7 536.8 190.8 535.8 190.9 534.8 190.9 533.8 191.0 532.8 191.1 531.8 191.2 530.8 191.3 529.8 191.3 528.8 191.4 527.8 191.5 526.8 191.6 525.8 191.7 524.8 191.7 523.8 191.8 522.8 191.9 521.8 192.0 520.8 192.0 519.8 192.1 518.8 192.2 517.8 192.3 516.8 192.3 515.8 192.4 514.8 192.5 513.8 192.6 512.8 192.6 511.8 192.7 510.8 192.8 509.8 192.9 508.8 192.9 507.8 193.0 506.8 193.1 505.9 193.2 504.9 193.2 503.9 193.3 502.9 193.4 501.9 193.4 500.9 193.5 499.9 193.6 498.9 193.6 497.9 193.7 496.9 193.8 495.9 193.9 494.9 193.9 493.9 194.0 492.9 194.1 491.9 194.1 490.9 194.2 489.9 194.3 488.9 194.3 487.9 194.4 486.9 194.5 485.9 194.5 484.9 194.6 483.9 194.7 482.9 194.7 481.9 194.8 480.9 194.9 479.9 195.0 478.9 195.0 477.9 195.1 476.9 195.2 475.9 195.2 474.9 195.3 473.9 195.4 472.9 195.4 471.9 195.5 470.9 195.6 469.9 195.6 468.9 195.7 467.9 195.8 466.9 195.8 465.9 195.9 464.9 196.0 463.9 196.0 462.9 196.1 461.9 196.2 460.9 196.2 459.9 196.3 458.9 196.4 457.9 196.4 457.0 196.5 456.0 196.6 455.0 196.6 454.0 196.7 453.0 196.8 452.0 196.8 451.0 196.9 450.0 197.0 449.0 197.0 448.0 197.1 447.0 197.2 446.0 197.2 445.0 197.3 444.0 197.4 443.0 197.5 442.0 197.5 441.0 197.6 440.0 197.7 439.0 197.7 438.0 197.8 437.0 197.9 436.0 197.9 435.0 198.0 434.0 198.1 433.0 198.2 432.0 198.2 431.0 198.3 430.0 198.4 429.0 198.4 428.0 198.5 427.0 198.6 426.0 198.7 425.0 198.7 424.0 198.8 423.0 198.9 422.0 198.9 421.0 199.0 420.0 199.1 419.0 199.2 418.0 199.2 417.0 199.3 416.1 199.4 415.1 199.5 414.1 199.6 413.1 199.6 412.1 199.7 411.1 199.8 410.1 199.9 409.1 199.9 408.1 200.0 407.1 200.1 406.1 200.2 405.1 200.3 404.1 200.3 403.1 200.4 402.1 200.5 401.1 200.6 400.1 200.7 399.1 200.7 398.1 200.8 397.1 200.9 396.1 201.0 395.1 201.1 394.1 201.2 393.1 201.2 392.1 201.3 391.2 201.4 390.2 201.5 389.2 201.6 388.2 201.7 387.2 201.8 386.2 201.9 385.2 201.9 384.2 202.0 383.2 202.1 382.2 202.2 381.2 202.3 380.2 202.4 379.2 202.5 378.2 202.6 377.2 202.7 376.2 202.8 375.2 202.9 374.2 203.0 373.2 203.1 372.2 203.2 371.3 203.3 370.3 203.4 369.3 203.5 368.3 203.6 367.3 203.7 366.3 203.8 365.3 203.9 364.3 204.0 363.3 204.1 362.3 204.2 361.3 204.3 360.3 204.4 359.3 204.5 358.3 204.6 357.3 204.7 356.3 204.8 355.3 204.9 354.3 205.1 353.3 205.2 352.3 205.3 351.3 205.4 350.3 205.5 349.3 205.6 348.3 205.8 347.3 205.9 346.3 206.0 345.3 206.2 344.3 206.4 343.3 206.6 342.4 206.9 341.4 207.2 340.5 207.6 339.6 208.0 338.6 208.5 337.8 209.0 337.2 209.5 337.3 210.1 338.0 210.6 339.0 211.0 340.1 211.3 341.3 211.6 342.3 211.7 343.3 211.9 344.3 212.0 345.2 212.2 346.2 212.4 347.2 212.7 348.2 213.2 349.3 213.7 350.3 214.3 351.0 214.9 351.3 215.4 350.9 215.9 350.2 216.3 349.1 216.6 347.9 216.9 346.7 217.2 345.6 217.3 344.6 217.5 343.6 217.6 342.6 217.7 341.7 217.8 340.7 217.9 339.8 218.0 338.8 218.1 337.8 218.2 336.9 218.3 335.9 218.4 334.9 218.5 333.9 218.6 332.9 218.7 331.9 218.8 330.9 218.9 329.9 219.0 328.9 219.1 327.9 219.2 326.9 219.4 325.9 219.5 324.9 219.6 323.9 219.7 322.9 219.8 321.9 219.9 320.9 220.0 319.9 220.1 318.9 220.3 317.9 220.4 316.9 220.5 315.9 220.6 314.8 220.7 313.9 220.8 312.9 220.9 311.9 221.0 310.9 221.1 309.9 221.2 308.9 221.3 307.9 221.4 307.0 221.5 306.0 221.6 305.0 221.7 304.1 221.8 303.1 221.9 302.1 222.0 301.2 222.1 300.2 222.2 299.2 222.3 298.2 222.5 297.2 222.6 296.2 222.8 295.2 222.9 294.2 223.1 293.2 223.3 292.2 223.4 291.1 223.6 290.1 223.9 289.0 224.1 287.9 224.3 286.8 224.6 285.7 224.9 284.7 225.2 283.8 225.5 283.3 225.9 283.3 226.3 283.7 226.6 284.6 227.0 285.6 227.4 286.8 227.7 287.9 228.0 289.0 228.2 289.9 228.4 290.8 228.6 291.7 228.7 292.6 228.8 293.7 228.8 294.8 228.9 295.9 229.0 297.1 229.1 298.2 229.3 299.3 229.5 300.3 229.9 301.2 230.3 302.0 230.8 302.6 231.5 303.1 232.3 303.3 233.2 303.2 234.1 302.9 234.9 302.8 235.6 303.0 236.1 303.5 236.4 304.2 236.7 305.2 236.9 306.2 237.0 307.4 237.1 308.5 237.2 309.7 237.3 310.8 237.4 311.9 237.4 312.9 237.5 313.9 237.6 314.8 237.7 315.8 237.8 316.8 237.9 317.8 237.9 318.8 238.0 319.8 238.1 320.8 238.2 321.7 238.2 322.7 238.3 323.7 238.4 324.7 238.5 325.7 238.5 326.7 238.6 327.7 238.7 328.7 238.7 329.7 238.8 330.7 238.9 331.7 238.9 332.7 239.0 333.7 239.1 334.7 239.1 335.7 239.2 336.7 239.2 337.7 239.3 338.7 239.4 339.7 239.4 340.7 239.5 341.7 239.5 342.7 239.6 343.7 239.6 344.6 239.7 345.6 239.7 346.6 239.8 347.6 239.9 348.7 239.9 349.7 240.0 350.7 240.0 351.7 240.1 352.7 240.1 353.7 240.2 354.7 240.2 355.7 240.2 356.7 240.3 357.7 240.3 358.7 240.4 359.7 240.4 360.7 240.5 361.6 240.5 362.6 240.6 363.6 240.6 364.6 240.7 365.6 240.7 366.6 240.7 367.6 240.8 368.6 240.8 369.6 240.9 370.6 240.9 371.6 241.0 372.6 241.0 373.6 241.0 374.6 241.1 375.6 241.1 376.6 241.2 377.6 241.2 378.6 241.3 379.6 241.3 380.6 241.3 381.6 241.4 382.6 241.4 383.6 241.5 384.6 241.5 385.6 241.5 386.6 241.6 387.6 241.6 388.6 241.7 389.6 241.7 390.6 241.7 391.6 241.8 392.6 241.8 393.6 241.9 394.6 241.9 395.6 241.9 396.6 242.0 397.6 242.0 398.6 242.1 399.6 242.1 400.6 242.2 401.6 242.2 402.6 242.2 403.6 242.3 404.6 242.3 405.6 242.4 406.6 242.4 407.6 242.5 408.6 242.5 409.6 242.5 410.6 242.6 411.6 242.6 412.6 242.7 413.6 242.7 414.6 242.8 415.6 242.8 416.6 242.9 417.6 242.9 418.6 243.0 419.6 243.0 420.6 243.1 421.6 243.1 422.6 243.2 423.6 243.2 424.6 243.3 425.6 243.3 426.6 243.4 427.6 243.4 428.6 243.5 429.6 243.5 430.6 243.6 431.6 243.6 432.6 243.7 433.6 243.8 434.6 243.8 435.6 243.9 436.6 243.9 437.6 244.0 438.6 244.1 439.6 244.1 440.6 244.2 441.6 244.2 442.6 244.3 443.6 244.4 444.6 244.4 445.5 244.5 446.5 244.6 447.5 244.6 448.5 244.7 449.5 244.8 450.5 244.8 451.5 244.9 452.5 245.0 453.5 245.0 454.5 245.1 455.5 245.2 456.5 245.3 457.5 245.3 458.5 245.4 459.5 245.5 460.5 245.6 461.5 245.6 462.5 245.7 463.5 245.8 464.5 245.9 465.5 246.0 466.5 246.0 467.5 246.1 468.5 246.2 469.5 246.3 470.5 246.4 471.5 246.5 472.5 246.5 473.5 246.6 474.5 246.7 475.5 246.8 476.5 246.9 477.4 247.0 478.4 247.1 479.4 247.2 480.4 247.3 481.4 247.4 482.4 247.5 483.4 247.6 484.4 247.6 485.4 247.7 486.4 247.8 487.4 247.9 488.4 248.0 489.4 248.1 490.4 248.2 491.4 248.4 492.4 248.5 493.4 248.6 494.4 248.7 495.4 248.8 496.4 248.9 497.3 249.0 498.3 249.1 499.3 249.2 500.3 249.3 501.3 249.4 502.3 249.5 503.3 249.7 504.3 249.8 505.3 249.9 506.3 250.0 507.3 250.1 508.3 250.3 509.3 250.4 510.3 250.5 511.3 250.6 512.3 250.7 513.2 250.9 514.2 251.0 515.2 251.1 516.2 251.3 517.2 251.4 518.2 251.5 519.2 251.6 520.2 251.8 521.2 251.9 522.2 252.0 523.2 252.2 524.2 252.3 525.1 252.5 526.1 252.6 527.1 252.7 528.1 252.9 529.1 253.0 530.1 253.2 531.1 253.3 532.1 253.4 533.1 253.6 534.1 253.7 535.1 253.9 536.0 254.0 537.0 254.2 538.0 254.3 539.0 254.5 540.0 254.6 541.0 254.8 542.0 254.9 543.0 255.0 544.0 255.2 544.9 255.3 545.9 255.5 546.9 255.6 547.9 255.8 548.9 255.9 549.9 256.1 550.9 256.2 551.9 256.4 552.8 256.5 553.8 256.7 554.8 256.8 555.8 257.0 556.8 257.1 557.8 257.3 558.8 257.4 559.7 257.6 560.7 257.7 561.7 257.9 562.7 258.0 563.7 258.2 564.7 258.3 565.7 258.5 566.6 258.6 567.6 258.7 568.6 258.9 569.6 259.0 570.6 259.2 571.6 259.3 572.6 259.5 573.6 259.6 574.6 259.8 575.6 259.9 576.6 260.1 577.6 260.2 578.6 260.4 579.6 260.5 580.6 260.7 581.6 260.8 582.6 261.0 583.6 261.2 584.6 261.5 585.5 261.7 586.5 262.0 587.4 262.4 588.3 262.8 589.2 263.2 590.1 263.7 591.0 264.3 591.7 265.0 592.4 265.7 593.0 266.5 593.5 267.4 593.7 268.3 593.9 269.3 593.9 270.4 594.0 271.5 594.1 272.5 594.3 273.5 594.7 274.5 595.3 275.3 596.0 276.1 596.4 276.8 596.3 277.4 595.8 277.9 594.9 278.4 593.8 278.8 592.7 279.3 591.7 279.9 590.8 280.5 590.1 281.3 589.6 282.1 589.1 283.1 588.8 284.0 588.5 285.0 588.3 286.0 587.9 286.8 587.5 287.5 587.0 288.1 586.4 288.6 585.6 289.0 584.8 289.4 583.9 289.6 582.9 289.9 581.9 290.0 580.9 290.2 579.8 290.3 578.8 290.5 577.7 290.6 576.7 290.8 575.6 290.9 574.6 291.1 573.6 291.3 572.6 291.4 571.6 291.6 570.6 291.7 569.6 291.9 568.6 292.1 567.6 292.2 566.6 292.4 565.7 292.6 564.7 292.7 563.7 292.9 562.7 293.1 561.8 293.2 560.8 293.4 559.8 293.5 558.8 293.7 557.8 293.8 556.9 294.0 555.9 294.1 554.9 294.2 553.9 294.4 552.9 294.5 551.9 294.6 551.0 294.8 550.0 294.9 549.0 295.0 548.0 295.1 547.0 295.3 546.0 295.4 545.0 295.5 544.0 295.6 543.0 295.7 542.1 295.8 541.1 295.9 540.1 296.1 539.1 296.2 538.1 296.3 537.1 296.4 536.1 296.5 535.1 296.6 534.1 296.7 533.1 296.8 532.1 296.9 531.1 297.0 530.1 297.1 529.1 297.2 528.1 297.3 527.1 297.4 526.1 297.5 525.1 297.6 524.1 297.7 523.1 297.8 522.1 297.9 521.1 298.0 520.1 298.1 519.1 298.2 518.1 298.3 517.2 298.4 516.2 298.5 515.2 298.6 514.2 298.7 513.2 298.8 512.2 298.9 511.2 299.0 510.2 299.1 509.2 299.1 508.2 299.2 507.2 299.3 506.2 299.4 505.2 299.5 504.2 299.6 503.2 299.7 502.2 299.8 501.2 299.9 500.2 300.0 499.2 300.1 498.2 300.2 497.2 300.3 496.2 300.4 495.2 300.5 494.3 300.6 493.3 300.7 492.3 300.8 491.3 300.9 490.3 301.0 489.3 301.1 488.3 301.1 487.3 301.2 486.3 301.3 485.3 301.4 484.3 301.5 483.3 301.6 482.3 301.7 481.3 301.8 480.3 301.9 479.3 301.9 478.3 302.0 477.3 302.1 476.3 302.2 475.3 302.3 474.3 302.4 473.4 302.5 472.4 302.5 471.4 302.6 470.4 302.7 469.4 302.8 468.4 302.9 467.4 302.9 466.4 303.0 465.4 303.1 464.4 303.2 463.4 303.2 462.4 303.3 461.4 303.4 460.4 303.5 459.4 303.6 458.4 303.6 457.4 303.7 456.4 303.8 455.4 303.8 454.4 303.9 453.4 304.0 452.4 304.1 451.4 304.1 450.4 304.2 449.4 304.3 448.4 304.3 447.4 304.4 446.4 304.5 445.4 304.6 444.4 304.6 443.5 304.7 442.5 304.8 441.5 304.8 440.5 304.9 439.5 305.0 438.5 305.0 437.5 305.1 436.5 305.2 435.5 305.2 434.5 305.3 433.5 305.4 432.5 305.4 431.5 305.5 430.5 305.5 429.5 305.6 428.5 305.7 427.5 305.7 426.5 305.8 425.5 305.9 424.5 305.9 423.5 306.0 422.5 306.0 421.5 306.1 420.5 306.2 419.5 306.2 418.5 306.3 417.5 306.3 416.5 306.4 415.5 306.5 414.5 306.5 413.5 306.6 412.5 306.6 411.5 306.7 410.5 306.8 409.5 306.8 408.5 306.9 407.5 306.9 406.5 307.0 405.5 307.1 404.5 307.1 403.5 307.2 402.5 307.2 401.5 307.3 400.5 307.3 399.5 307.4 398.5 307.5 397.5 307.5 396.5 307.6 395.5 307.6 394.5 307.7 393.5 307.7 392.5 307.8 391.5 307.9 390.5 307.9 389.5 308.0 388.5 308.0 387.5 308.1 386.5 308.1 385.5 308.2 384.5 308.3 383.6 308.3 382.6 308.4 381.6 308.4 380.6 308.5 379.6 308.5 378.6 308.6 377.6 308.7 376.6 308.7 375.6 308.8 374.6 308.8 373.6 308.9 372.6 308.9 371.6 309.0 370.6 309.1 369.6 309.1 368.6 309.2 367.6 309.2 366.6 309.3 365.6 309.3 364.6 309.4 363.6 309.5 362.6 309.5 361.6 309.6 360.6 309.6 359.6 309.7 358.6 309.8 357.6 309.8 356.6 309.9 355.6 309.9 354.6 310.0 353.6 310.1 352.6 310.1 351.6 310.2 350.6 310.2 349.6 310.3 348.6 310.4 347.6 310.4 346.6 310.5 345.6 310.6 344.6 310.6 343.6 310.7 342.6 310.7 341.6 310.8 340.6 310.9 339.6 310.9 338.6 311.0 337.6 311.1 336.6 311.1 335.6 311.2 334.6 311.3 333.6 311.3 332.6 311.4 331.6 311.5 330.6 311.5 329.6 311.6 328.6 311.7 327.7 311.7 326.7 311.8 325.7 311.9 324.7 311.9 323.7 312.0 322.7 312.1 321.7 312.2 320.7 312.2 319.7 312.3 318.7 312.4 317.7 312.4 316.7 312.5 315.7 312.6 314.7 312.7 313.7 312.7 312.7 312.8 311.7 312.9 310.7 313.0 309.7 313.1 308.7 313.1 307.7 313.2 306.7 313.3 305.7 313.4 304.7 313.4 303.7 313.5 302.7 313.6 301.7 313.7 300.7 313.8 299.7 313.9 298.8 313.9 297.8 314.0 296.8 314.1 295.8 314.2 294.8 314.3 293.8 314.4 292.8 314.4 291.8 314.5 290.8 314.6 289.8 314.7 288.8 314.8 287.8 314.9 286.8 315.0 285.8 315.1 284.8 315.2 283.8 315.3 282.8 315.3 281.8 315.4 280.8 315.5 279.8 315.6 278.8 315.7 277.8 315.8 276.9 315.9 275.9 316.0 274.9 316.1 273.9 316.2 272.9 316.3 271.9 316.4 270.9 316.5 269.9 316.6 268.9 316.6 267.9 316.7 266.9 316.8 265.9 316.9 264.9 317.0 263.9 317.1 262.9 317.2 261.9 317.3 260.9 317.4 259.9 317.5 258.9 317.6 257.9 317.7 256.9 317.8 255.9 317.9 254.9 318.0 253.9 318.1 252.9 318.2 251.9 318.3 250.9 318.4 249.9 318.4 248.9 318.5 247.9 318.6 246.9 318.7 245.9 318.8 244.9 318.9 243.9 319.0 242.9 319.1 241.9 319.2 240.9 319.3 239.9 319.5 238.9 319.6 238.0 319.7 237.0 319.8 236.0 319.9 235.0 320.0 234.0 320.1 233.1 320.3 232.1 320.4 231.1 320.5 230.2 320.7 229.2 320.8 228.3 320.9 227.3 321.1 226.3 321.2 225.3 321.4 224.3 321.5 223.3 321.7 222.2 321.9 221.1 322.0 219.9 322.2 218.7 322.4 217.5 322.6 216.4 322.8 215.6 323.1 215.3 323.4 215.4 323.7 216.0 324.1 217.0 324.5 218.1 324.9 219.3 325.2 220.4 325.5 221.4 325.8 222.3 326.0 223.3 326.2 224.2 326.5 225.1 326.6 226.1 326.8 227.1 327.0 228.0 327.2 229.0 327.3 230.0 327.4 231.0 327.6 232.0 327.7 233.0 327.8 234.0 327.9 235.0 328.0 236.0 328.2 237.0 328.3 238.0 328.4 239.0 328.5 240.0 328.6 241.0 328.7 242.0 328.8 243.0 328.9 244.0 329.0 245.0 329.1 246.0 329.2 247.0 329.4 247.9 329.5 248.9 329.6 249.9 329.7 250.9 329.8 251.9 329.9 252.9 330.0 253.9 330.1 254.9 330.2 255.9 330.2 256.9 330.3 257.9 330.4 258.9 330.5 259.9 330.6 260.9 330.7 261.9 330.8 262.9 330.9 263.8 331.0 264.8 331.0 265.8 331.1 266.8 331.2 267.8 331.3 268.8 331.4 269.8 331.4 270.8 331.5 271.8 331.6 272.8 331.7 273.8 331.7 274.8 331.8 275.8 331.9 276.8 331.9 277.8 332.0 278.8 332.1 279.8 332.2 280.8 332.2 281.8 332.3 282.8 332.4 283.8 332.4 284.8 332.5 285.8 332.5 286.8 332.6 287.8 332.7 288.8 332.7 289.8 332.8 290.8 332.9 291.8 332.9 292.8 333.0 293.8 333.0 294.8 333.1 295.8 333.1 296.8 333.2 297.8 333.3 298.8 333.3 299.8 333.4 300.8 333.4 301.8 333.5 302.8 333.5 303.8 333.6 304.8 333.6 305.8 333.7 306.8 333.8 307.8 333.8 308.8 333.9 309.8 333.9 310.8 334.0 311.8 334.0 312.8 334.1 313.8 334.1 314.8 334.2 315.8 334.2 316.7 334.3 317.7 334.3 318.7 334.4 319.7 334.4 320.7 334.5 321.7 334.5 322.7 334.6 323.7 334.6 324.7 334.7 325.7 334.7 326.7 334.8 327.7 334.8 328.7 334.9 329.7 335.0 330.7 335.0 331.7 335.1 332.7 335.1 333.7 335.2 334.7 335.2 335.7 335.3 336.7 335.3 337.7 335.4 338.7 335.4 339.7 335.5 340.7 335.6 341.7 335.6 342.7 335.7 343.7 335.7 344.7 335.8 345.7 335.8 346.7 335.9 347.7 336.0 348.7 336.0 349.7 336.1 350.7 336.1 351.7 336.2 352.7 336.3 353.7 336.3 354.7 336.4 355.7 336.5 356.7 336.5 357.7 336.6 358.7 336.7 359.7 336.7 360.7 336.8 361.7 336.9 362.7 336.9 363.7 337.0 364.7 337.1 365.7 337.2 366.7 337.2 367.7 337.3 368.6 337.4 369.6 337.5 370.6 337.5 371.6 337.6 372.6 337.7 373.6 337.8 374.6 337.9 375.6 338.0 376.6 338.0 377.6 338.1 378.6 338.2 379.6 338.3 380.6 338.4 381.6 338.5 382.6 338.6 383.6 338.7 384.6 338.8 385.6 338.9 386.6 339.0 387.6 339.1 388.6 339.2 389.6 339.3 390.6 339.5 391.6 339.6 392.5 339.7 393.5 339.9 394.5 340.0 395.5 340.2 396.5 340.4 397.5 340.6 398.4 340.7 399.4 340.9 400.4 341.2 401.4 341.4 402.3 341.6 403.3 341.9 404.3 342.1 405.2 342.4 406.2 342.7 407.1 343.0 408.1 343.3 409.0 343.6 410.0 343.9 410.9 344.3 411.9 344.7 412.8 345.1 413.7 345.5 414.6 345.9 415.6 346.3 416.5 346.7 417.5 347.0 418.5 347.3 419.7 347.5 420.8 347.8 421.7 348.1 422.0 348.5 421.8 349.0 421.0 349.6 420.0 350.2 418.9 350.6 417.8 351.1 416.8 351.4 415.9 351.8 415.0 352.1 414.1 352.4 413.2 352.7 412.2 353.0 411.3 353.3 410.3 353.5 409.4 353.8 408.4 354.0 407.5 354.2 406.5 354.4 405.5 354.7 404.5 354.9 403.5 355.1 402.5 355.2 401.6 355.4 400.6 355.6 399.6 355.8 398.6 356.0 397.6 356.1 396.6 356.3 395.6 356.5 394.6 356.6 393.7 356.8 392.7 356.9 391.7 357.1 390.7 357.2 389.7 357.3 388.7 357.5 387.7 357.6 386.7 357.7 385.7 357.9 384.7 358.0 383.7 358.1 382.8 358.2 381.8 358.3 380.8 358.5 379.8 358.6 378.8 358.7 377.8 358.8 376.8 358.9 375.8 359.0 374.8 359.1 373.8 359.2 372.8 359.3 371.8 359.4 370.8 359.5 369.8 359.6 368.8 359.6 367.9 359.7 366.9 359.8 365.9 359.9 364.9 360.0 363.9 360.1 362.9 360.2 361.9 360.2 360.9 360.3 359.9 360.4 358.9 360.5 357.9 360.6 356.9 360.6 355.9 360.7 354.9 360.8 353.9 360.9 352.9 360.9 351.9 361.0 350.9 361.1 349.9 361.1 348.9 361.2 347.9 361.3 346.9 361.3 345.9 361.4 344.9 361.5 343.9 361.5 342.9 361.6 341.9 361.7 340.9 361.7 339.9 361.8 338.9 361.8 337.9 361.9 336.9 362.0 335.9 362.0 334.9 362.1 333.9 362.1 332.9 362.2 331.9 362.3 330.9 362.3 329.9 362.4 329.0 362.4 328.0 362.5 327.0 362.5 326.0 362.6 325.0 362.6 324.0 362.7 323.0 362.7 322.0 362.8 321.0 362.9 320.0 362.9 319.0 363.0 318.0 363.0 317.0 363.1 316.0 363.1 315.0 363.2 314.0 363.2 313.0 363.3 312.0 363.3 311.0 363.3 310.0 363.4 309.0 363.4 308.0 363.5 307.0 363.5 306.0 363.6 305.0 363.6 304.0 363.7 303.0 363.7 302.0 363.8 301.0 363.8 300.0 363.9 299.0 363.9 298.0 363.9 297.0 364.0 296.0 364.0 295.0 364.1 294.0 364.1 293.0 364.2 292.0 364.2 291.0 364.3 290.0 364.3 289.0 364.3 288.0 364.4 287.0 364.4 286.0 364.5 285.0 364.5 284.0 364.5 283.0 364.6 282.0 364.6 281.0 364.7 280.0 364.7 279.0 364.8 278.0 364.8 277.0 364.8 276.0 364.9 275.0 364.9 274.0 365.0 273.0 365.0 272.0 365.0 271.0 365.1 270.0 365.1 269.0 365.2 268.0 365.2 267.0 365.2 266.0 365.3 265.0 365.3 264.0 365.4 263.0 365.4 262.0 365.4 261.0 365.5 260.0 365.5 259.0 365.5 258.0 365.6 257.0 365.6 256.0 365.7 255.0 365.7 254.0 365.7 253.0 365.8 252.0 365.8 251.0 365.9 250.0 365.9 249.0 365.9 248.0 366.0 247.0 366.0 246.0 366.1 245.0 366.1 244.0 366.1 243.0 366.2 242.0 366.2 241.0 366.3 240.0 366.3 239.0 366.3 238.0 366.4 237.0 366.4 236.0 366.5 235.0 366.5 234.0 366.5 233.0 366.6 232.0 366.6 231.0 366.7 230.0 366.7 229.0 366.7 228.1 366.8 227.1 366.8 226.1 366.9 225.1 366.9 224.1 366.9 223.1 367.0 222.1 367.0 221.1 367.1 220.1 367.1 219.1 367.1 218.1 367.2 217.1 367.2 216.1 367.3 215.1 367.3 214.1 367.4 213.1 367.4 212.1 367.4 211.1 367.5 210.1 367.5 209.1 367.6 208.1 367.6 207.1 367.7 206.1 367.7 205.1 367.7 204.1 367.8 203.1 367.8 202.1 367.9 201.1 367.9 200.1 368.0 199.1 368.0 198.1 368.1 197.1 368.1 196.1 368.1 195.1 368.2 194.1 368.2 193.1 368.3 192.1 368.3 191.1 368.4 190.1 368.4 189.1 368.5 188.1 368.5 187.1 368.5 186.1 368.6 185.1 368.6 184.1 368.7 183.1 368.7 182.1 368.8 181.1 368.8 180.1 368.9 179.1 368.9 178.1 368.9 177.1 369.0 176.1 369.0 175.1 369.1 174.1 369.1 173.1 369.2 172.1 369.2 171.1 369.3 170.1 369.3 169.1 369.4 168.1 369.4 167.1 369.4 166.1 369.5 165.1 369.5 164.1 369.6 163.1 369.6 162.1 369.7 161.1 369.7 160.1 369.8 159.1 369.8 158.1 369.9 157.1 369.9 156.1 370.0 155.1 370.0 154.1 370.0 153.1 370.1 152.1 370.1 151.1 370.2 150.1 370.2 149.1 370.3 148.1 370.3 147.1 370.4 146.1 370.4 145.1 370.5 144.1 370.5 143.1 370.6 142.1 370.6 141.1 370.7 140.1 370.7 139.2 370.8 138.2 370.8 137.2 370.8 136.2 370.9 135.2 370.9 134.2 371.0 133.2 371.0 132.2 371.1 131.2 371.1 130.2 371.2 129.2 371.2 128.2 371.3 127.2 371.3 126.2 371.4 125.2 371.4 124.2 371.5 123.2 371.5 122.2 371.6 121.2 371.7 120.2 371.7 119.2 371.8 118.2 371.8 117.2 371.9 116.2 371.9 115.2 372.0 114.2 372.0 113.2 372.1 112.2 372.2 111.2 372.2 110.2 372.3 109.2 372.3 108.1 372.4 107.1 372.5 106.1 372.5 105.1 372.6 104.1 372.6 103.1 372.7 102.1 372.8 101.1 372.8 100.1 372.9 99.1 373.0 98.1 373.1 97.1 373.1 96.1 373.2 95.1 373.3 94.2 373.4 93.2 373.4 92.2 373.5 91.3 373.6 90.3 373.7 89.4 373.8 88.4 373.9 87.5 374.1 86.5 374.2 85.5 374.4 84.5 374.6 83.4 374.9 82.3 375.1 81.2 375.5 80.0 375.8 78.8 376.2 77.8 376.5 77.0 376.9 76.6 377.2 76.6 377.6 77.0 377.9 77.8 378.2 78.9 378.5 80.1 378.7 81.3 378.9 82.5 379.2 83.7 379.3 84.7 379.5 85.7 379.7 86.7 379.9 87.7 380.0 88.7 380.2 89.6 380.3 90.6 380.5 91.5 380.6 92.5 380.7 93.5 380.9 94.5 381.0 95.4 381.1 96.4 381.3 97.4 381.4 98.4 381.5 99.4 381.6 100.3 381.7 101.3 381.8 102.3 381.9 103.3 382.0 104.3 382.2 105.3 382.3 106.3 382.4 107.3 382.4 108.3 382.5 109.3 382.6 110.3 382.7 111.3 382.8 112.3 382.9 113.3 383.0 114.3 383.1 115.3 383.2 116.3 383.2 117.3 383.3 118.3 383.4 119.3 383.5 120.3 383.6 121.3 383.6 122.3 383.7 123.3 383.8 124.3 383.9 125.3 383.9 126.3 384.0 127.3 384.1 128.3 384.1 129.3 384.2 130.3 384.3 131.3 384.4 132.3 384.4 133.3 384.5 134.3 384.6 135.3 384.7 136.3 384.7 137.3 384.8 138.3 384.9 139.3 385.0 140.3 385.0 141.3 385.1 142.2 385.2 143.2 385.3 144.2 385.4 145.2 385.5 146.2 385.6 147.2 385.7 148.2 385.8 149.2 385.9 150.2 386.0 151.2 386.1 152.2 386.2 153.2 386.4 154.1 386.5 155.1 386.6 156.1 386.7 157.1 386.9 158.1 387.0 159.1 387.2 160.1 387.3 161.1 387.5 162.1 387.6 163.1 387.8 164.1 387.9 165.0 388.1 166.0 388.2 167.0 388.4 168.0 388.6 169.0 388.7 170.0 388.9 171.0 389.0 172.0 389.2 173.0 389.3 173.9 389.5 174.9 389.6 175.9 389.8 176.9 389.9 177.9 390.1 178.9 390.2 179.9 390.4 180.9 390.5 181.9 390.7 182.8 390.8 183.8 391.0 184.8 391.1 185.8 391.3 186.8 391.4 187.8 391.5 188.8 391.7 189.8 391.8 190.8 392.0 191.7 392.1 192.7 392.2 193.7 392.4 194.7 392.5 195.7 392.6 196.7 392.7 197.7 392.9 198.7 393.0 199.7 393.1 200.6 393.2 201.6 393.4 202.6 393.5 203.6 393.6 204.6 393.7 205.6 393.8 206.6 393.9 207.6 394.1 208.6 394.2 209.6 394.3 210.6 394.4 211.6 394.5 212.6 394.6 213.5 394.7 214.5 394.8 215.5 394.9 216.5 395.0 217.5 395.1 218.5 395.2 219.5 395.3 220.5 395.4 221.5 395.5 222.5 395.6 223.5 395.6 224.5 395.7 225.5 395.8 226.5 395.9 227.5 396.0 228.5 396.1 229.5 396.2 230.5 396.2 231.5 396.3 232.5 396.4 233.5 396.5 234.5 396.5 235.5 396.6 236.5 396.7 237.5 396.8 238.5 396.8 239.5 396.9 240.5 397.0 241.5 397.0 242.5 397.1 243.5 397.2 244.5 397.2 245.5 397.3 246.5 397.4 247.5 397.4 248.5 397.5 249.5 397.5 250.5 397.6 251.5 397.7 252.5 397.7 253.5 397.8 254.5 397.8 255.5 397.9 256.5 398.0 257.5 398.0 258.5 398.1 259.5 398.1 260.4 398.2 261.4 398.2 262.4 398.3 263.4 398.3 264.4 398.4 265.4 398.5 266.4 398.5 267.4 398.6 268.4 398.6 269.4 398.7 270.4 398.7 271.4 398.8 272.4 398.9 273.4 398.9 274.4 399.0 275.4 399.0 276.4 399.1 277.4 399.2 278.4 399.2 279.4 399.3 280.4 399.4 281.3 399.4 282.3 399.5 283.3 399.6 284.3 399.6 285.3 399.7 286.3 399.8 287.3 399.9 288.3 399.9 289.3 400.0 290.3 400.1 291.3 400.2 292.3 400.3 293.3 400.4 294.3 400.4 295.3 400.5 296.3 400.6 297.3 400.7 298.3 400.8 299.3 400.9 300.3 401.0 301.3 401.1 302.3 401.2 303.3 401.3 304.3 401.4 305.3 401.5 306.3 401.7 307.3 401.8 308.3 401.9 309.3 402.0 310.3 402.1 311.3 402.2 312.3 402.4 313.3 402.5 314.3 402.6 315.3 402.7 316.3 402.9 317.3 403.0 318.3 403.1 319.3 403.3 320.3 403.4 321.3 403.5 322.3 403.7 323.3 403.8 324.2 403.9 325.2 404.1 326.2 404.2 327.2 404.4 328.2 404.5 329.2 404.6 330.2 404.8 331.1 404.9 332.1 405.1 333.1 405.2 334.1 405.4 335.0 405.5 336.0 405.7 337.0 405.8 337.9 406.0 338.9 406.1 339.9 406.3 340.8 406.4 341.8 406.6 342.7 406.7 343.7 406.9 344.7 407.0 345.6 407.2 346.6 407.3 347.6 407.5 348.6 407.7 349.6 407.8 350.6 408.0 351.7 408.2 352.8 408.4 354.0 408.6 355.1 408.9 356.4 409.1 357.6 409.4 358.8 409.6 359.9 410.0 360.8 410.4 361.5 410.8 361.8 411.3 361.8 411.9 361.3 412.4 360.6 413.0 359.7 413.4 358.8 413.8 357.9 414.1 356.9 414.4 355.9 414.6 355.0 414.7 354.0 414.9 352.9 415.0 351.9 415.2 350.9 415.3 349.9 415.5 348.9 415.7 348.0 416.0 347.0 416.3 346.1 416.7 345.1 417.2 344.0 417.8 343.1 418.4 342.5 419.1 342.3 419.7 342.7 420.3 343.5 420.8 344.6 421.2 345.7 421.5 346.8 421.7 347.9 421.9 348.9 422.0 349.8 422.1 350.8 422.2 351.8 422.4 352.7 422.5 353.7 422.7 354.7 422.9 355.7 423.1 356.6 423.3 357.6 423.5 358.6 423.7 359.6 423.9 360.6 424.1 361.6 424.3 362.6 424.5 363.5 424.7 364.5 424.9 365.5 425.1 366.5 425.2 367.4 425.5 368.4 425.7 369.4 426.1 370.3 426.5 371.3 427.0 372.2 427.6 373.1 428.3 373.9 429.1 374.6 429.9 374.9 430.7 374.9 431.5 374.5 432.3 373.8 433.0 373.0 433.7 372.1 434.3 371.2 434.9 370.3 435.4 369.4 435.9 368.5 436.3 367.6 436.7 366.8 437.1 365.9 437.5 365.0 437.9 364.1 438.3 363.2 438.7 362.3 439.1 361.4 439.6 360.5 440.0 359.6 440.5 358.7 441.0 357.8 441.5 356.9 442.1 356.1 442.6 355.3 443.2 354.5 443.9 353.7 444.5 353.0 445.3 352.3 446.0 351.5 446.8 350.8 447.5 350.1 448.1 349.3 448.7 348.5 449.1 347.6 449.5 346.7 449.7 345.8 449.9 344.8 450.1 343.8 450.2 342.8 450.4 341.8 450.5 340.8 450.6 339.8 450.8 338.8 450.9 337.8 451.1 336.8 451.2 335.9 451.3 334.9 451.5 333.9 451.6 332.9 451.7 331.9 451.9 330.9 452.0 329.9 452.1 328.9 452.2 327.9 452.4 326.9 452.5 325.9 452.6 324.9 452.7 323.9 452.9 323.0 453.0 322.0 453.1 321.0 453.2 320.0 453.3 319.0 453.4 318.0 453.5 317.0 453.6 316.0 453.8 315.0 453.9 314.0 454.0 313.0 454.1 312.0 454.2 311.0 454.3 310.0 454.4 309.0 454.5 308.1 454.6 307.1 454.7 306.1 454.8 305.1 454.9 304.1 455.0 303.1 455.1 302.1 455.2 301.1 455.3 300.1 455.4 299.1 455.5 298.1 455.5 297.1 455.6 296.1 455.7 295.1 455.8 294.1 455.9 293.1 456.0 292.1 456.1 291.1 456.2 290.1 456.3 289.1 456.4 288.1 456.5 287.1 456.5 286.2 456.6 285.2 456.7 284.2 456.8 283.2 456.9 282.2 457.0 281.2 457.1 280.2 457.2 279.2 457.3 278.2 457.4 277.2 457.4 276.2 457.5 275.2 457.6 274.2 457.7 273.2 457.8 272.2 457.9 271.2 458.0 270.2 458.1 269.2 458.2 268.2 458.3 267.2 458.4 266.2 458.5 265.2 458.6 264.2 458.6 263.2 458.7 262.3 458.8 261.3 458.9 260.3 459.0 259.3 459.1 258.3 459.2 257.3 459.3 256.3 459.4 255.3 459.5 254.3 459.7 253.3 459.8 252.3 459.9 251.3 460.0 250.3 460.1 249.3 460.2 248.3 460.3 247.3 460.4 246.3 460.5 245.4 460.6 244.4 460.8 243.4 460.9 242.4 461.0 241.4 461.1 240.4 461.2 239.4 461.4 238.4 461.5 237.4 461.6 236.4 461.7 235.4 461.9 234.4 462.0 233.4 462.1 232.5 462.2 231.5 462.4 230.5 462.5 229.5 462.6 228.5 462.7 227.5 462.9 226.5 463.0 225.5 463.1 224.5 463.3 223.5 463.4 222.5 463.5 221.5 463.6 220.6 463.8 219.6 463.9 218.6 464.0 217.6 464.1 216.6 464.3 215.6 464.4 214.6 464.5 213.6 464.6 212.6 464.7 211.6 464.9 210.6 465.0 209.6 465.1 208.6 465.2 207.7 465.3 206.7 465.4 205.7 465.5 204.7 465.6 203.7 465.7 202.7 465.8 201.7 465.9 200.7 466.0 199.7 466.1 198.7 466.2 197.7 466.3 196.7 466.4 195.7 466.5 194.7 466.6 193.7 466.7 192.7 466.8 191.7 466.9 190.7 466.9 189.7 467.0 188.7 467.1 187.7 467.2 186.7 467.3 185.7 467.3 184.7 467.4 183.7 467.5 182.7 467.6 181.8 467.6 180.8 467.7 179.8 467.8 178.8 467.8 177.8 467.9 176.8 468.0 175.8 468.0 174.8 468.1 173.8 468.2 172.8 468.2 171.8 468.3 170.8 468.4 169.8 468.4 168.8 468.5 167.8 468.6 166.8 468.6 165.8 468.7 164.8 468.7 163.8 468.8 162.8 468.9 161.8 468.9 160.8 469.0 159.8 469.1 158.8 469.1 157.8 469.2 156.8 469.2 155.8 469.3 154.8 469.4 153.8 469.4 152.8 469.5 151.8 469.6 150.8 469.6 149.8 469.7 148.8 469.7 147.8 469.8 146.8 469.9 145.8 469.9 144.8 470.0 143.8 470.1 142.9 470.2 141.9 470.2 140.9 470.3 139.9 470.4 138.9 470.4 137.9 470.5 136.9 470.6 135.9 470.7 134.9 470.7 133.9 470.8 132.9 470.9 131.9 471.0 130.9 471.1 129.9 471.1 128.9 471.2 127.9 471.3 126.9 471.4 125.9 471.5 124.9 471.6 123.9 471.7 122.9 471.8 121.9 471.9 120.9 472.0 119.9 472.1 118.9 472.2 117.9 472.3 116.9 472.4 115.9 472.5 114.9 472.6 113.9 472.7 112.9 472.8 111.9 472.9 110.9 473.0 109.9 473.2 108.9 473.3 107.9 473.4 106.9 473.5 105.9 473.7 105.0 473.8 104.0 473.9 103.0 474.1 102.0 474.2 101.0 474.4 100.0 474.5 99.1 474.6 98.1 474.8 97.1 474.9 96.1 475.1 95.2 475.3 94.2 475.4 93.3 475.6 92.3 475.8 91.4 476.0 90.4 476.2 89.4 476.4 88.4 476.7 87.4 477.0 86.4 477.3 85.3 477.7 84.3 478.1 83.1 478.6 82.0 479.1 81.0 479.7 80.2 480.2 79.7 480.7 79.6 481.2 80.0 481.6 80.8 482.0 81.9 482.4 83.0 482.8 84.1 483.1 85.2 483.4 86.1 483.7 87.1 483.9 88.0 484.2 88.9 484.4 89.9 484.6 90.8 484.9 91.8 485.1 92.8 485.3 93.7 485.5 94.7 485.6 95.7 485.8 96.7 486.0 97.7 486.2 98.7 486.3 99.7 486.5 100.7 486.6 101.7 486.8 102.7 486.9 103.6 487.1 104.6 487.2 105.6 487.3 106.6 487.4 107.6 487.6 108.6 487.7 109.6 487.8 110.6 487.9 111.6 488.0 112.6 488.2 113.6 488.3 114.6 488.4 115.6 488.5 116.6 488.6 117.6 488.7 118.5 488.8 119.5 488.9 120.5 489.0 121.5 489.1 122.5 489.2 123.5 489.3 124.5 489.4 125.5 489.5 126.5 489.6 127.5 489.6 128.5 489.7 129.5 489.8 130.5 489.9 131.5 490.0 132.5 490.1 133.5 490.2 134.5 490.3 135.5 490.3 136.5 490.4 137.5 490.5 138.4 490.6 139.4 490.7 140.4 490.8 141.4 490.8 142.4 490.9 143.4 491.0 144.4 491.1 145.4 491.2 146.4 491.2 147.4 491.3 148.4 491.4 149.4 491.5 150.4 491.6 151.4 491.6 152.4 491.7 153.4 491.8 154.4 491.9 155.4 491.9 156.4 492.0 157.4 492.1 158.4 492.2 159.4 492.3 160.4 492.3 161.4 492.4 162.4 492.5 163.4 492.6 164.4 492.6 165.4 492.7 166.4 492.8 167.4 492.9 168.4 492.9 169.4 493.0 170.3 493.1 171.3 493.2 172.3 493.2 173.3 493.3 174.3 493.4 175.3 493.5 176.3 493.5 177.3 493.6 178.3 493.7 179.3 493.8 180.3 493.9 181.3 493.9 182.3 494.0 183.3 494.1 184.3 494.2 185.3 494.2 186.3 494.3 187.3 494.4 188.3 494.5 189.3 494.6 190.3 494.6 191.3 494.7 192.3 494.8 193.3 494.9 194.3 494.9 195.3 495.0 196.3 495.1 197.3 495.2 198.3 495.3 199.3 495.3 200.3 495.4 201.3 495.5 202.3 495.6 203.3 495.7 204.3 495.7 205.2 495.8 206.2 495.9 207.2 496.0 208.2 496.1 209.2 496.1 210.2 496.2 211.2 496.3 212.2 496.4 213.2 496.5 214.2 496.6 215.2 496.6 216.2 496.7 217.2 496.8 218.2 496.9 219.2 497.0 220.2 497.1 221.2 497.1 222.2 497.2 223.2 497.3 224.2 497.4 225.2 497.5 226.2 497.6 227.2 497.7 228.2 497.7 229.2 497.8 230.2 497.9 231.2 498.0 232.2 498.1 233.2 498.2 234.1 498.3 235.1 498.4 236.1 498.4 237.1 498.5 238.1 498.6 239.1 498.7 240.1 498.8 241.1 498.9 242.1 499.0 243.1 499.1 244.1 499.2 245.1 499.3 246.1 499.4 247.1 499.5 248.1 499.5 249.1 499.6 250.1 499.7 251.1 499.8 252.1 499.9 253.1 500.0 254.1 500.1 255.1 500.2 256.1 500.3 257.0 500.4 258.0 500.5 259.0 500.6 260.0 500.7 261.0 500.8 262.0 500.9 263.0 501.0 264.0 501.1 265.0 501.2 266.0 501.3 267.0 501.4 268.0 501.5 269.0 501.6 270.0 501.7 271.0 501.8 272.0 501.9 273.0 502.0 274.0 502.1 274.9 502.3 275.9 502.4 276.9 502.5 277.9 502.6 278.9 502.7 279.9 502.8 280.9 502.9 281.9 503.0 282.9 503.1 283.9 503.2 284.9 503.3 285.9 503.4 286.9 503.6 287.9 503.7 288.9 503.8 289.9 503.9 290.9 504.0 291.8 504.1 292.8 504.2 293.8 504.3 294.8 504.5 295.8 504.6 296.8 504.7 297.8 504.8 298.8 504.9 299.8 505.0 300.8 505.1 301.8 505.3 302.8 505.4 303.8 505.5 304.8 505.6 305.7 505.7 306.7 505.9 307.7 506.0 308.7 506.1 309.7 506.2 310.7 506.3 311.7 506.5 312.7 506.6 313.7 506.7 314.7 506.8 315.7 507.0 316.7 507.1 317.7 507.2 318.6 507.3 319.6 507.5 320.6 507.6 321.6 507.7 322.6 507.8 323.6 508.0 324.6 508.1 325.6 508.2 326.6 508.3 327.6 508.5 328.6 508.6 329.6 508.7 330.6 508.9 331.5 509.0 332.5 509.1 333.5 509.3 334.5 509.4 335.5 509.5 336.5 509.7 337.5 509.8 338.5 509.9 339.5 510.1 340.5 510.2 341.5 510.3 342.4 510.5 343.4 510.6 344.4 510.7 345.4 510.9 346.4 511.0 347.4 511.2 348.4 511.3 349.4 511.4 350.4 511.6 351.4 511.7 352.4 511.8 353.3 512.0 354.3 512.1 355.3 512.3 356.3 512.4 357.3 512.5 358.3 512.7 359.3 512.8 360.3 512.9 361.3 513.1 362.3 513.2 363.2 513.4 364.2 513.5 365.2 513.6 366.2 513.8 367.2 513.9 368.2 514.1 369.2 514.2 370.2 514.3 371.2 514.5 372.2 514.6 373.2 514.7 374.1 514.9 375.1 515.0 376.1 515.1 377.1 515.3 378.1 515.4 379.1 515.5 380.1 515.7 381.1 515.8 382.1 515.9 383.1 516.1 384.1 516.2 385.0 516.3 386.0 516.5 387.0 516.6 388.0 516.7 389.0 516.8 390.0 517.0 391.0 517.1 392.0 517.2 393.0 517.3 394.0 517.5 395.0 517.6 396.0 517.7 396.9 517.8 397.9 517.9 398.9 518.1 399.9 518.2 400.9 518.3 401.9 518.4 402.9 518.5 403.9 518.6 404.9 518.8 405.9 518.9 406.9 519.0 407.9 519.1 408.9 519.2 409.9 519.3 410.9 519.4 411.8 519.5 412.8 519.6 413.8 519.7 414.8 519.8 415.8 519.9 416.8 520.0 417.8 520.1 418.8 520.2 419.8 520.3 420.8 520.4 421.8 520.5 422.8 520.6 423.8 520.6 424.8 520.7 425.8 520.8 426.8 520.9 427.8 521.0 428.8 521.1 429.8 521.1 430.8 521.2 431.7 521.3 432.7 521.4 433.7 521.4 434.7 521.5 435.7 521.6 436.7 521.7 437.7 521.8 438.7 521.8 439.7 521.9 440.7 522.0 441.7 522.1 442.7 522.2 443.7 522.2 444.7 522.3 445.7 522.4 446.7 522.5 447.7 522.6 448.7 522.7 449.7 522.8 450.7 522.9 451.7 523.0 452.7 523.1 453.7 523.2 454.7 523.3 455.6 523.4 456.6 523.5 457.6 523.6 458.6 523.7 459.6 523.8 460.6 524.0 461.6 524.1 462.6 524.2 463.6 524.4 464.6 524.5 465.6 524.6 466.6 524.8 467.5 524.9 468.5 525.1 469.5 525.3 470.5 525.4 471.5 525.6 472.5 525.8 473.5 526.0 474.5 526.1 475.4 526.3 476.4 526.5 477.4 526.7 478.4 526.9 479.4 527.1 480.4 527.4 481.3 527.6 482.3 527.8 483.3 528.0 484.3 528.2 485.3 528.5 486.2 528.7 487.2 528.9 488.2 529.2 489.2 529.4 490.2 529.6 491.1 529.9 492.1 530.1 493.1 530.4 494.1 530.6 495.0 530.8 496.0 531.1 497.0 531.3 497.9 531.6 498.9 531.8 499.9 532.1 500.8 532.3 501.8 532.5 502.8 532.8 503.7 533.0 504.7 533.3 505.7 533.5 506.6 533.7 507.6 534.0 508.6 534.2 509.5 534.4 510.5 534.7 511.5 534.9 512.4 535.1 513.4 535.3 514.3 535.5 515.3 535.8 516.2 536.0 517.2 536.2 518.2 536.4 519.1 536.6 520.1 536.8 521.0 537.1 522.0 537.3 523.0 537.5 523.9 537.8 524.9 538.0 525.9 538.3 526.9 538.6 527.9 538.8 528.8 539.1 529.8 539.4 530.8 539.8 531.8 540.1 532.8 540.4 533.9 540.8 534.9 541.2 535.9 541.6 537.0 542.0 538.0 542.4 539.0 542.9 539.8 543.3 540.4 543.7 540.6 544.2 540.3 544.5 539.7 544.9 538.7 545.2 537.7 545.4 536.6 545.6 535.5 545.8 534.5 545.9 533.5 546.0 532.5 546.2 531.5 546.3 530.5 546.4 529.5 546.5 528.6 546.6 527.6 546.7 526.6 546.8 525.6 546.9 524.6 547.0 523.6 547.1 522.6 547.2 521.6 547.3 520.6 547.3 519.6 547.4 518.6 547.5 517.6 547.6 516.6 547.7 515.6 547.7 514.6 547.8 513.7 547.9 512.7 548.0 511.7 548.0 510.7 548.1 509.7 548.2 508.7 548.2 507.7 548.3 506.7 548.4 505.7 548.4 504.7 548.5 503.7 548.5 502.7 548.6 501.7 548.7 500.7 548.7 499.7 548.8 498.7 548.8 497.7 548.9 496.7 548.9 495.7 549.0 494.7 549.0 493.7 549.1 492.7 549.1 491.7 549.2 490.7 549.2 489.7 549.3 488.7 549.4 487.7 549.4 486.7 549.5 485.7 549.5 484.7 549.6 483.7 549.6 482.7 549.7 481.7 549.7 480.7 549.7 479.7 549.8 478.7 549.8 477.7 549.9 476.7 549.9 475.7 550.0 474.7 550.0 473.7 550.1 472.7 550.1 471.7 550.2 470.7 550.2 469.7 550.3 468.7 550.3 467.7 550.3 466.7 550.4 465.7 550.4 464.7 550.5 463.7 550.5 462.7 550.6 461.7 550.6 460.7 550.7 459.7 550.7 458.7 550.7 457.7 550.8 456.7 550.8 455.7 550.9 454.7 550.9 453.7 550.9 452.7 551.0 451.7 551.0 450.7 551.1 449.7 551.1 448.7 551.1 447.7 551.2 446.7 551.2 445.7 551.3 444.7 551.3 443.7 551.3 442.7 551.4 441.7 551.4 440.7 551.5 439.7 551.5 438.7 551.5 437.7 551.6 436.7 551.6 435.7 551.6 434.7 551.7 433.7 551.7 432.7 551.7 431.7 551.8 430.7 551.8 429.7 551.8 428.7 551.9 427.7 551.9 426.7 552.0 425.7 552.0 424.7 552.0 423.7 552.1 422.7 552.1 421.7 552.1 420.8 552.2 419.8 552.2 418.8 552.2 417.8 552.3 416.8 552.3 415.8 552.3 414.8 552.3 413.8 552.4 412.8 552.4 411.8 552.4 410.8 552.5 409.8 552.5 408.8 552.5 407.8 552.6 406.8 552.6 405.8 552.6 404.8 552.7 403.8 552.7 402.8 552.7 401.8 552.7 400.8 552.8 399.8 552.8 398.8 552.8 397.8 552.9 396.8 552.9 395.8 552.9 394.8 552.9 393.8 553.0 392.8 553.0 391.8 553.0 390.8 553.1 389.8 553.1 388.8 553.1 387.8 553.1 386.8 553.2 385.8 553.2 384.8 553.2 383.8 553.3 382.8 553.3 381.8 553.3 380.8 553.3 379.8 553.4 378.8 553.4 377.8 553.4 376.8 553.4 375.8 553.5 374.8 553.5 373.8 553.5 372.8 553.5 371.8 553.6 370.8 553.6 369.8 553.6 368.8 553.6 367.8 553.7 366.8 553.7 365.8 553.7 364.8 553.7 363.8 553.8 362.8 553.8 361.8 553.8 360.8 553.8 359.8 553.9 358.8 553.9 357.8 553.9 356.8 553.9 355.8 554.0 354.8 554.0 353.8 554.0 352.8 554.0 351.8 554.1 350.8 554.1 349.8 554.1 348.8 554.1 347.8 554.2 346.8 554.2 345.8 554.2 344.8 554.2 343.8 554.3 342.8 554.3 341.8 554.3 340.8 554.3 339.8 554.4 338.8 554.4 337.8 554.4 336.8 554.4 335.8 554.5 334.8 554.5 333.8 554.5 332.8 554.5 331.8 554.6 330.8 554.6 329.8 554.6 328.8 554.6 327.8 554.7 326.8 554.7 325.8 554.7 324.8 554.7 323.8 554.8 322.8 554.8 321.8 554.8 320.8 554.8 319.8 554.9 318.8 554.9 317.8 554.9 316.8 554.9 315.8 555.0 314.8 555.0 313.8 555.0 312.8 555.0 311.8 555.1 310.8 555.1 309.8 555.1 308.8 555.1 307.8 555.2 306.8 555.2 305.8 555.2 304.8 555.2 303.8 555.3 302.8 555.3 301.8 555.3 300.8 555.4 299.8 555.4 298.8 555.4 297.8 555.4 296.8 555.5 295.8 555.5 294.8 555.5 293.8 555.5 292.8 555.6 291.8 555.6 290.8 555.6 289.8 555.7 288.8 555.7 287.8 555.7 286.8 555.7 285.8 555.8 284.8 555.8 283.8 555.8 282.8 555.9 281.8 555.9 280.8 555.9 279.8 556.0 278.8 556.0 277.8 556.0 276.8 556.0 275.8 556.1 274.8 556.1 273.8 556.1 272.8 556.2 271.8 556.2 270.8 556.2 269.8 556.3 268.8 556.3 267.8 556.3 266.8 556.4 265.8 556.4 264.8 556.4 263.8 556.5 262.8 556.5 261.8 556.5 260.8 556.6 259.8 556.6 258.8 556.6 257.8 556.7 256.8 556.7 255.8 556.7 254.8 556.8 253.8 556.8 252.8 556.8 251.8 556.9 250.8 556.9 249.8 557.0 248.8 557.0 247.8 557.0 246.8 557.1 245.8 557.1 244.8 557.2 243.8 557.2 242.8 557.2 241.8 557.3 240.8 557.3 239.8 557.3 238.8 557.4 237.8 557.4 236.8 557.5 235.8 557.5 234.8 557.6 233.8 557.6 232.8 557.6 231.8 557.7 230.8 557.7 229.8 557.8 228.8 557.8 227.8 557.9 226.8 557.9 225.8 557.9 224.8 558.0 223.8 558.0 222.8 558.1 221.8 558.1 220.8 558.2 219.8 558.2 218.8 558.3 217.8 558.3 216.9 558.4 215.9 558.4 214.9 558.5 213.9 558.5 212.9 558.6 211.9 558.6 210.9 558.7 209.9 558.7 208.9 558.8 207.9 558.8 206.9 558.9 205.9 558.9 204.9 559.0 203.9 559.0 202.9 559.1 201.9 559.1 200.9 559.2 199.9 559.2 198.9 559.3 197.9 559.3 196.9 559.4 195.9 559.4 194.9 559.5 193.9 559.5 192.9 559.6 191.9 559.6 190.9 559.7 189.9 559.7 188.9 559.8 187.9 559.8 186.9 559.9 185.9 560.0 184.9 560.0 183.9 560.1 182.9 560.1 181.9 560.2 180.9 560.2 179.9 560.3 178.9 560.4 177.9 560.4 176.9 560.5 175.9 560.6 174.9 560.7 173.9 560.7 172.9 560.8 171.9 560.9 170.9 561.0 169.9 561.1 168.9 561.2 167.9 561.3 166.9 561.4 166.0 561.6 165.0 561.7 164.0 561.8 163.0 561.9 162.0 562.0 161.0 562.1 160.0 562.3 159.0 562.4 158.0 562.5 157.0 562.6 156.0 562.7 155.0 562.9 154.0 563.0 153.1 563.1 152.1 563.2 151.1 563.3 150.1 563.5 149.1 563.7 148.1 563.9 147.1 564.1 146.1 564.3 145.1 564.6 144.1 564.9 143.2 565.3 142.2 565.7 141.2 566.1 140.4 566.5 140.1 567.0 140.4 567.4 141.1 567.8 142.2 568.2 143.4 568.5 144.5 568.7 145.7 568.9 146.7 569.1 147.8 569.3 148.8 569.4 149.7 569.5 150.7 569.6 151.6 569.7 152.6 569.8 153.6 569.9 154.5 570.0 155.5 570.1 156.5 570.3 157.5 570.4 158.5 570.5 159.4 570.6 160.4 570.8 161.4 570.9 162.4 571.1 163.4 571.2 164.4 571.3 165.4 571.5 166.4 571.6 167.4 571.8 168.4 571.9 169.4 572.0 170.4 572.2 171.4 572.3 172.4 572.4 173.4 572.6 174.4 572.7 175.4 572.8 176.4 573.0 177.4 573.1 178.4 573.2 179.4 573.4 180.4 573.5 181.3 573.6 182.3 573.8 183.3 573.9 184.3 574.0 185.3 574.2 186.3 574.3 187.3 574.5 188.2 574.6 189.2 574.7 190.2 574.9 191.2 575.0 192.2 575.2 193.2 575.4 194.1 575.5 195.1 575.7 196.1 575.9 197.1 576.0 198.1 576.2 199.1 576.4 200.1 576.6 201.1 576.8 202.1 577.1 203.2 577.4 204.1 577.8 205.0 578.3 205.7 579.2 206.2 580.2 206.4 581.2 206.6 582.2 206.9 583.0 207.5 583.4 208.2 583.7 209.2 584.0 210.1 584.2 211.1 584.5 212.1 584.7 213.1 584.9 214.0 585.1 215.0 585.3 216.0 585.5 217.0 585.7 218.0 585.9 219.0 586.1 219.9 586.2 220.9 586.4 221.9 586.5 222.9 586.7 223.9 586.8 224.9 587.0 225.9 587.1 226.9 587.2 227.9 587.4 228.9 587.5 229.9 587.6 230.9 587.7 231.9 587.8 232.9 587.9 233.8 588.0 234.8 588.1 235.8 588.2 236.8 588.3 237.8 588.4 238.8 588.5 239.8 588.5 240.8 588.6 241.8 588.7 242.8 588.8 243.8 588.8 244.8 588.9 245.8 589.0 246.8 589.0 247.8 589.1 248.8 589.2 249.8 589.2 250.8 589.3 251.8 589.4 252.8 589.4 253.8 589.5 254.8 589.6 255.8 589.6 256.8 589.7 257.8 589.8 258.8 589.8 259.8 589.9 260.8 590.0 261.8 590.0 262.8 590.1 263.8 590.2 264.7 590.2 265.7 590.3 266.7 590.4 267.7 590.4 268.7 590.5 269.7 590.6 270.7 590.7 271.7 590.7 272.7 590.8 273.7 590.9 274.7 590.9 275.7 591.0 276.7 591.1 277.7 591.2 278.7 591.2 279.7 591.3 280.7 591.4 281.7 591.5 282.7 591.5 283.7 591.6 284.7 591.7 285.7 591.8 286.7 591.8 287.7 591.9 288.7 592.0 289.7 592.1 290.7 592.1 291.7 592.2 292.7 592.3 293.7 592.4 294.7 592.4 295.7 592.5 296.7 592.6 297.7 592.7 298.7 592.8 299.7 592.8 300.7 592.9 301.6 593.0 302.6 593.1 303.6 593.1 304.6 593.2 305.6 593.3 306.6 593.4 307.6 593.5 308.6 593.5 309.6 593.6 310.6 593.7 311.6 593.8 312.6 593.8 313.6 593.9 314.6 594.0 315.6 594.1 316.6 594.1 317.6 594.2 318.6 594.3 319.6 594.4 320.6 594.4 321.6 594.5 322.6 594.6 323.6 594.7 324.6 594.7 325.6 594.8 326.6 594.9 327.6 595.0 328.6 595.0 329.6 595.1 330.6 595.2 331.6 595.3 332.6 595.3 333.6 595.4 334.6 595.5 335.6 595.6 336.6 595.6 337.5 595.7 338.5 595.8 339.5 595.8 340.5 595.9 341.5 596.0 342.5 596.1 343.5 596.1 344.5 596.2 345.5 596.3 346.5 596.3 347.5 596.4 348.5 596.5 349.5 596.5 350.5 596.6 351.5 596.7 352.5 596.7 353.5 596.8 354.5 596.9 355.5 596.9 356.5 597.0 357.5 597.1 358.5 597.1 359.5 597.2 360.5 597.3 361.5 597.3 362.5 597.4 363.5 597.4 364.5 597.5 365.5 597.6 366.5 597.6 367.5 597.7 368.5 597.7 369.5 597.8 370.5 597.9 371.5 597.9 372.5 598.0 373.5 598.0 374.5 598.1 375.5 598.1 376.5 598.2 377.5 598.3 378.5 598.3 379.5 598.4 380.5 598.4 381.5 598.5 382.5 598.5 383.5 598.6 384.5 598.6 385.4 598.7 386.4 598.8 387.4 598.8 388.4 598.9 389.4 598.9 390.4 599.0 391.4 599.0 392.4 599.1 393.4 599.1 394.4 599.2 395.4 599.2 396.4 599.3 397.4 599.3 398.4 599.4 399.4 599.4 400.4 599.5 401.4 599.5 402.4 599.6 403.4 599.6 404.4 599.7 405.4 599.7 406.4 599.8 407.4 599.8 408.4 599.9 409.4 599.9 410.4 600.0 411.4 600.0 412.4 600.1 413.4 600.1 414.4 600.2 415.4 600.2 416.4 600.3 417.4 600.3 418.4 600.4 419.4 600.4 420.4 600.5 421.4 600.5 422.4 600.6 423.4 600.6 424.4 600.7 425.4 600.7 426.4 600.8 427.4 600.8 428.4 600.9 429.4 600.9 430.4 600.9 431.4 601.0 432.4 601.0 433.4 601.1 434.4 601.1 435.4 601.2 436.4 601.2 437.4 601.3 438.4 601.3 439.4 601.4 440.4 601.4 441.4 601.5 442.4 601.5 443.4 601.6 444.4 601.6 445.4 601.7 446.4 601.7 447.4 601.8 448.4 601.8 449.4 601.9 450.4 601.9 451.4 601.9 452.4 602.0 453.4 602.0 454.4 602.1 455.4 602.1 456.4 602.2 457.4 602.2 458.4 602.3 459.4 602.3 460.4 602.4 461.4 602.4 462.4 602.5 463.4 602.5 464.4 602.6 465.4 602.6 466.3 602.7 467.3 602.7 468.3 602.8 469.3 602.8 470.3 602.9 471.3 602.9 472.3 603.0 473.3 603.0 474.3 603.0 475.3 603.1 476.3 603.1 477.3 603.2 478.3 603.2 479.3 603.3 480.3 603.3 481.3 603.4 482.3 603.4 483.3 603.5 484.3 603.5 485.3 603.6 486.3 603.6 487.3 603.7 488.3 603.7 489.3 603.8 490.3 603.8 491.3 603.9 492.3 603.9 493.3 604.0 494.3 604.0 495.3 604.1 496.3 604.1 497.3 604.2 498.3 604.2 499.3 604.3 500.3 604.3 501.3 604.4 502.3 604.4 503.3 604.5 504.3 604.5 505.3 604.6 506.3 604.6 507.3 604.7 508.3 604.7 509.3 604.8 510.3 604.8 511.3 604.9 512.3 604.9 513.3 605.0 514.3 605.0 515.3 605.1 516.3 605.2 517.3 605.2 518.3 605.3 519.3 605.3 520.3 605.4 521.3 605.4 522.3 605.5 523.3 605.5 524.3 605.6 525.3 605.6 526.3 605.7 527.3 605.7 528.3 605.8 529.3 605.8 530.3 605.9 531.3 606.0 532.3 606.0 533.3 606.1 534.3 606.1 535.3 606.2 536.3 606.2 537.3 606.3 538.3 606.3 539.3 606.4 540.3 606.4 541.3 606.5 542.3 606.6 543.3 606.6 544.3 606.7 545.3 606.7 546.3 606.8 547.2 606.8 548.2 606.9 549.2 606.9 550.2 607.0 551.2 607.1 552.2 607.1 553.2 607.2 554.2 607.2 555.2 607.3 556.2 607.3 557.2 607.4 558.2 607.5 559.2 607.5 560.2 607.6 561.2 607.6 562.2 607.7 563.2 607.8 564.2 607.8 565.2 607.9 566.2 607.9 567.2 608.0 568.2 608.1 569.2 608.1 570.2 608.2 571.2 608.2 572.2 608.3 573.2 608.4 574.2 608.4 575.2 608.5 576.2 608.5 577.2 608.6 578.2 608.7 579.2 608.7 580.2 608.8 581.2 608.9 582.2 608.9 583.2 609.0 584.2 609.0 585.2 609.1 586.2 609.2 587.2 609.2 588.2 609.3 589.2 609.4 590.2 609.4 591.2 609.5 592.2 609.6 593.2 609.6 594.2 609.7 595.2 609.8 596.1 609.8 597.1 609.9 598.1 610.0 599.1 610.0 600.1 610.1 601.1 610.2 602.1 610.2 603.1 610.3 604.1 610.4 605.1 610.4 606.1 610.5 607.1 610.6 608.1 610.6 609.1 610.7 610.1 610.8 611.1 610.8 612.1 610.9 613.1 611.0 614.1 611.1 615.1 611.1 616.1 611.2 617.1 611.3 618.1 611.3 619.1 611.4 620.1 611.5 621.1 611.6 622.1 611.6 623.1 611.7 624.1 611.8 625.1 611.8 626.1 611.9 627.1 612.0 628.1 612.1 629.1 612.2 630.1 612.2 631.1 612.3 632.0 612.4 633.0 612.5 634.0 612.5 635.0 612.6 636.0 612.7 637.0 612.8 638.0 612.9 639.0 612.9 640.0 613.0 641.0 613.1 642.0 613.2 643.0 613.3 644.0 613.4 645.0 613.5 646.0 613.5 647.0 613.6 648.0 613.7 649.0 613.8 650.0 613.9 651.0 614.0 652.0 614.1 653.0 614.2 654.0 614.3 655.0 614.4 656.0 614.5 657.0 614.6 658.0 614.6 659.0 614.8 660.0 614.9 661.0 615.0 662.0 615.1 663.0 615.2 664.0 615.4 665.0 615.5 665.9 615.7 666.9 615.9 667.9 616.1 668.9 616.4 669.8 616.6 670.8 616.9 671.7 617.2 672.7 617.5 673.6 617.9 674.5 618.3 675.5 618.7 676.4 619.1 677.3 619.6 678.2 620.1 679.0 620.7 679.9 621.4 680.6 622.0 681.3 622.8 681.9 623.7 682.3 624.6 682.6 625.6 682.8 626.6 682.9 627.7 683.0 628.8 683.0 629.8 683.0 630.9 682.9 631.9 682.9 632.9 682.9 633.9 682.9 634.9 682.9 635.9 682.9 636.9 682.9 637.9 682.9 638.9 682.9 639.9 682.9 640.8 682.9 641.8 682.9 642.8 682.9 643.8 682.9 644.8 683.0 645.8 683.0 646.8 683.0 647.8 683.0 648.8 683.0 649.8 683.0 650.8 683.0 651.8 683.0 652.8 683.0 653.8 683.0 654.8 683.0 655.8 683.0 656.8 683.0 657.8 683.0 658.8 683.0 659.8 683.0 660.8 683.0 661.8 683.0 662.8 683.0 663.8 683.0 664.8 683.0 665.9 683.0 666.9 683.0 667.9 682.9 668.9 682.9 669.9 682.9 670.9 682.9 671.9 682.8 672.9 682.8 673.9 682.8 674.9 682.7 675.9 682.7 676.9 682.6 677.9 682.5 678.8 682.5 679.8 682.4 680.8 682.4 681.8 682.3 682.8 682.2 683.8 682.1 684.8 682.0 685.8 681.9 686.8 681.9 687.8 681.8 688.8 681.7 689.8 681.6 690.8 681.5 691.8 681.4 692.8 681.3 693.8 681.2 694.8 681.0 695.7 680.9 696.7 680.8 697.7 680.7 698.7 680.6 699.7 680.5 700.7 680.4 701.7 680.2 702.7 680.1 703.7 680.0 704.7 679.9 705.7 679.8 706.7 679.6 707.7 679.5 708.7 679.4 709.7 679.3 710.7 679.2 711.7 679.1 712.7 678.9 713.7 678.8 714.7 678.7 715.6 678.6 716.6 678.4 717.6 678.3 718.6 678.0 719.5 677.8 720.5 677.5 721.4 677.1 722.3 676.6 723.2 676.1 724.1 675.7 725.0 675.4 725.9 675.4 726.9 675.7 727.9 676.1 728.9 676.5 729.8 677.0 730.7 677.5 731.6 677.9 732.5 678.3 733.3 678.7 734.2 679.1 735.1 679.4 736.0 679.8 736.9 680.1 737.8 680.4 738.8 680.7 739.8 681.0 740.9 681.3 742.0 681.6 743.2 681.8 744.2 681.9 745.3 681.9 746.2 681.7 747.0 681.5 747.8 681.1 748.5 680.6 749.1 680.0 749.7 679.3 750.2 678.6 750.7 677.7 751.1 676.9 751.5 675.9 751.8 675.0 752.2 674.0 752.5 673.0 752.7 672.0 753.0 670.9 753.3 669.9 753.5 668.9 753.8 667.9 754.0 666.9 754.2 665.9 754.5 664.9 754.7 663.9 754.9 662.9 755.1 661.9 755.3 661.0 755.5 660.0 755.7 659.0 755.9 658.0 756.1 657.1 756.3 656.1 756.5 655.1 756.7 654.2 756.9 653.2 757.1 652.2 757.3 651.2 757.5 650.3 757.7 649.3 757.9 648.3 758.1 647.4 758.3 646.4 758.5 645.4 758.7 644.4 758.9 643.5 759.1 642.5 759.3 641.5 759.5 640.5 759.7 639.6 759.9 638.6 760.1 637.6 760.3 636.6 760.5 635.7 760.7 634.7 760.9 633.7 761.1 632.7 761.3 631.8 761.5 630.8 761.7 629.8 761.9 628.8 762.1 627.8 762.2 626.9 762.4 625.9 762.6 624.9 762.8 623.9 763.0 622.9 763.2 622.0 763.4 621.0 763.6 620.0 763.8 619.0 764.0 618.0 764.1 617.0 764.3 616.1 764.5 615.1 764.7 614.1 764.9 613.1 765.0 612.1 765.2 611.1 765.4 610.1 765.6 609.2 765.7 608.2 765.9 607.2 766.1 606.2 766.3 605.2 766.4 604.2 766.6 603.2 766.8 602.2 766.9 601.3 767.1 600.3 767.2 599.3 767.4 598.3 767.6 597.3 767.7 596.3 767.9 595.3 768.0 594.3 768.2 593.3 768.3 592.3 768.4 591.4 768.6 590.4 768.7 589.4 768.9 588.4 769.0 587.4 769.1 586.4 769.3 585.4 769.4 584.4 769.5 583.4 769.6 582.4 769.8 581.4 769.9 580.4 770.0 579.4 770.1 578.5 770.2 577.5 770.3 576.5 770.4 575.5 770.5 574.5 770.6 573.5 770.7 572.5 770.8 571.5 770.9 570.5 771.0 569.5 771.1 568.5 771.2 567.5 771.2 566.5 771.3 565.5 771.4 564.5 771.5 563.5 771.6 562.5 771.6 561.5 771.7 560.5 771.8 559.5 771.9 558.5 771.9 557.5 772.0 556.5 772.1 555.5 772.2 554.6 772.2 553.6 772.3 552.6 772.4 551.6 772.5 550.6 772.6 549.6 772.7 548.6 772.8 547.6 772.9 546.6 773.0 545.6 773.1 544.6 773.2 543.6 773.3 542.6 773.4 541.6 773.5 540.6 773.6 539.7 773.7 538.7 773.9 537.7 774.0 536.7 774.1 535.7 774.3 534.7 774.4 533.7 774.6 532.7 774.8 531.8 774.9 530.8 775.1 529.8 775.3 528.8 775.5 527.8 775.7 526.8 776.0 525.9 776.2 524.9 776.6 523.9 777.0 522.9 777.5 521.9 778.0 520.9 778.6 520.3 779.1 520.1 779.5 520.4 780.0 521.2 780.3 522.2 780.6 523.4 780.9 524.7 781.2 525.9 781.4 527.1 781.5 528.1 781.7 529.1 781.8 530.1 781.9 531.1 782.0 532.0 782.1 532.9 782.2 533.9 782.3 534.8 782.4 535.8 782.5 536.8 782.6 537.7 782.7 538.7 782.8 539.7 782.9 540.7 783.0 541.7 783.1 542.7 783.2 543.7 783.3 544.7 783.4 545.7 783.5 546.7 783.6 547.7 783.7 548.7 783.8 549.7 783.9 550.7 784.0 551.7 784.1 552.7 784.2 553.7 784.3 554.8 784.4 555.8 784.4 556.8 784.5 557.7 784.6 558.7 784.7 559.7 784.8 560.7 784.9 561.7 785.0 562.7 785.0 563.7 785.1 564.7 785.2 565.7 785.3 566.7 785.4 567.7 785.5 568.7 785.6 569.7 785.6 570.7 785.7 571.7 785.8 572.7 785.9 573.6 786.0 574.6 786.1 575.6 786.1 576.6 786.2 577.6 786.3 578.6 786.4 579.6 786.5 580.6 786.6 581.6 786.6 582.6 786.7 583.6 786.8 584.6 786.9 585.6 787.0 586.6 787.1 587.6 787.1 588.6 787.2 589.6 787.3 590.6 787.4 591.6 787.5 592.6 787.6 593.6 787.7 594.6 787.8 595.6 787.8 596.6 787.9 597.6 788.0 598.6 788.1 599.6 788.2 600.6 788.4 601.6 788.5 602.6 788.6 603.5 788.7 604.5 788.9 605.4 789.0 606.3 789.2 607.2 789.4 608.2 789.6 609.1 789.7 610.2 789.9 611.3 790.1 612.6 790.3 614.0 790.5 615.3 790.7 616.5 790.9 617.4 791.2 617.9 791.5 617.8 791.9 617.2 792.2 616.3 792.6 615.2 793.0 614.1 793.4 613.1 793.7 612.2 794.0 611.2 794.3 610.3 794.5 609.3 794.6 608.3 794.7 607.3 794.9 606.3 795.0 605.4 795.1 604.4 795.2 603.4 795.3 602.4 795.4 601.4 795.5 600.4 795.6 599.4 795.7 598.4 795.8 597.4 795.9 596.4 796.0 595.4 796.1 594.4 796.2 593.4 796.3 592.4 796.4 591.4 796.5 590.4 796.6 589.4 796.7 588.4 796.8 587.4 796.9 586.4 797.0 585.4 797.0 584.4 797.1 583.5 797.2 582.5 797.3 581.5 797.4 580.5 797.5 579.5 797.6 578.5 797.6 577.5 797.7 576.5 797.8 575.5 797.9 574.5 798.0 573.5 798.0 572.5 798.1 571.5 798.2 570.5 798.3 569.5 798.3 568.5 798.4 567.5 798.5 566.5 798.6 565.5 798.6 564.5 798.7 563.5 798.8 562.5 798.9 561.5 798.9 560.5 799.0 559.5 799.1 558.5 799.1 557.5 799.2 556.5 799.3 555.5 799.3 554.6 799.4 553.6 799.5 552.6 799.6 551.6 799.6 550.6 799.7 549.6 799.8 548.6 799.8 547.6 799.9 546.6 800.0 545.6 800.0 544.6 800.1 543.6 800.2 542.6 800.2 541.6 800.3 540.6 800.4 539.6 800.4 538.6 800.5 537.6 800.6 536.6 800.6 535.6 800.7 534.6 800.8 533.6 800.8 532.6 800.9 531.6 801.0 530.6 801.0 529.6 801.1 528.6 801.2 527.6 801.3 526.6 801.3 525.6 801.4 524.6 801.5 523.6 801.5 522.6 801.6 521.6 801.7 520.6 801.8 519.6 801.8 518.6 801.9 517.6 802.0 516.6 802.0 515.6 802.1 514.6 802.2 513.6 802.3 512.6 802.3 511.6 802.4 510.6 802.5 509.6 802.6 508.6 802.6 507.7 802.7 506.7 802.8 505.7 802.9 504.7 802.9 503.7 803.0 502.7 803.1 501.7 803.2 500.7 803.2 499.7 803.3 498.7 803.4 497.7 803.4 496.7 803.5 495.7 803.6 494.7 803.7 493.7 803.7 492.7 803.8 491.7 803.9 490.7 803.9 489.7 804.0 488.7 804.1 487.7 804.1 486.7 804.2 485.7 804.2 484.7 804.3 483.7 804.4 482.7 804.4 481.7 804.5 480.7 804.5 479.7 804.6 478.7 804.6 477.7 804.7 476.7 804.7 475.7 804.8 474.7 804.8 473.7 804.9 472.7 804.9 471.7 805.0 470.8 805.1 469.8 805.1 468.8 805.2 467.8 805.2 466.8 805.3 465.8 805.4 464.8 805.4 463.8 805.5 462.8 805.6 461.8 805.7 460.8 805.7 459.8 805.8 458.8 805.9 457.8 806.0 456.8 806.2 455.8 806.3 454.8 806.4 453.8 806.5 452.8 806.7 451.8 806.9 450.8 807.0 449.8 807.2 448.8 807.4 447.8 807.6 446.8 807.8 445.8 808.0 444.8 808.2 443.8 808.5 442.8 808.7 441.8 809.0 440.9 809.3 439.9 809.6 438.9 809.9 438.1 810.3 437.6 810.7 437.6 811.1 438.0 811.5 438.7 812.0 439.7 812.4 440.8 812.8 442.0 813.2 443.3 813.5 444.5 813.8 445.6 814.0 446.7 814.2 447.7 814.4 448.7 814.5 449.7 814.7 450.7 814.8 451.6 814.9 452.5 815.0 453.4 815.2 454.3 815.3 455.2 815.5 456.1 815.7 457.0 815.8 458.0 816.0 458.9 816.2 459.9 816.5 460.9 816.7 462.0 816.9 463.1 817.1 464.3 817.4 465.5 817.6 466.8 817.9 468.0 818.2 469.1 818.5 470.1 818.9 470.8 819.3 471.1 819.8 471.1 820.3 470.6 820.8 469.8 821.4 468.8 821.9 467.7 822.2 466.6 822.5 465.5 822.7 464.5 822.9 463.5 823.1 462.6 823.2 461.6 823.4 460.7 823.7 459.7 823.9 458.8 824.2 457.9 824.5 456.9 824.7 456.0 825.0 455.0 825.3 454.0 825.5 452.9 825.8 451.9 826.1 450.9 826.5 450.0 827.0 449.1 827.5 448.4 828.2 447.8 829.1 447.4 830.1 447.1 831.2 446.9 832.2 446.8 833.2 446.5 834.0 446.0 834.6 445.3 835.1 444.6 835.6 443.7 835.9 442.7 836.2 441.7 836.5 440.7 836.8 439.7 837.1 438.7 837.4 437.7 837.6 436.8 837.9 435.8 838.2 434.9 838.5 434.0 838.8 433.0 839.0 432.1 839.3 431.1 839.5 430.2 839.8 429.2 840.0 428.2 840.3 427.3 840.6 426.3 841.0 425.3 841.3 424.4 841.8 423.5 842.2 422.5 842.8 421.6 843.4 420.7 844.1 420.0 844.7 419.7 845.3 419.9 845.9 420.6 846.3 421.5 846.8 422.7 847.1 423.9 847.4 425.1 847.6 426.2 847.8 427.3 847.9 428.3 848.1 429.2 848.4 430.0 848.7 430.9 849.0 431.7 849.2 432.6 849.5 433.6 849.7 434.6 849.9 435.6 850.1 436.7 850.3 437.8 850.5 438.9 850.7 440.0 850.9 441.0 851.3 442.0 851.6 442.9 852.1 443.7 852.6 444.4 853.3 445.0 854.0 445.5 854.9 445.8 855.9 446.0 856.8 446.3 857.6 446.6 858.3 447.2 858.9 447.9 859.3 448.8 859.7 449.7 860.0 450.6 860.3 451.6 860.6 452.6 860.8 453.6 861.0 454.6 861.2 455.6 861.4 456.6 861.6 457.6 861.7 458.6 861.9 459.6 862.0 460.6 862.1 461.6 862.3 462.5 862.4 463.5 862.6 464.5 862.7 465.4 862.9 466.4 863.1 467.4 863.2 468.3 863.4 469.3 863.6 470.3 863.9 471.3 864.1 472.3 864.3 473.3 864.6 474.3 864.9 475.3 865.2 476.4 865.6 477.4 866.0 478.4 866.5 479.0 867.0 479.0 867.7 478.6 868.4 477.8 869.0 476.9 869.5 476.0 870.0 475.1 870.4 474.2 870.8 473.2 871.2 472.3 871.6 471.4 871.9 470.5 872.4 469.6 872.8 468.7 873.3 467.8 873.8 466.9 874.3 466.0 874.8 465.2 875.3 464.3 875.8 463.4 876.3 462.5 876.8 461.7 877.3 460.8 877.8 459.9 878.3 459.0 878.7 458.1 879.2 457.2 879.6 456.3 879.9 455.4 880.3 454.5 880.6 453.6 880.9 452.6 881.2 451.7 881.5 450.8 881.8 449.8 882.0 448.8 882.3 447.9 882.5 446.9 882.7 446.0 882.9 445.0 883.1 444.0 883.2 443.0 883.4 442.1 883.5 441.1 883.7 440.1 883.8 439.1 883.9 438.1 884.0 437.1 884.1 436.1 884.2 435.1 884.3 434.1 884.4 433.1 884.5 432.1 884.6 431.1 884.7 430.1 884.7 429.1 884.8 428.1 884.9 427.1 885.0 426.1 885.1 425.1 885.1 424.1 885.2 423.1 885.3 422.1 885.4 421.1 885.5 420.1 885.6 419.1 885.7 418.1 885.8 417.1 885.9 416.1 886.0 415.1 886.2 414.1 886.3 413.1 886.4 412.1 886.5 411.1 886.6 410.1 886.8 409.2 886.9 408.2 887.0 407.2 887.1 406.2 887.2 405.2 887.4 404.2 887.5 403.3 887.6 402.3 887.7 401.3 887.8 400.3 887.9 399.3 888.0 398.3 888.1 397.3 888.3 396.3 888.5 395.2 888.7 394.1 889.0 392.9 889.4 391.8 889.7 390.9 890.1 390.3 890.4 390.1 890.7 390.4 891.0 391.1 891.3 392.0 891.5 393.1 891.7 394.3 891.9 395.5 892.0 396.6 892.2 397.8 892.3 398.8 892.4 399.9 892.6 401.0 892.7 402.0 892.8 403.0 892.9 404.0 892.9 405.0 893.0 405.9 893.1 406.9 893.2 407.9 893.3 408.8 893.3 409.8 893.4 410.7 893.5 411.7 893.6 412.6 893.6 413.6 893.7 414.6 893.8 415.5 893.9 416.5 894.0 417.5 894.1 418.6 894.3 419.6 894.4 420.6 894.5 421.7 894.6 422.7 894.7 423.7 894.8 424.8 894.9 425.8 895.0 426.8 895.2 427.8 895.4 428.7 895.7 429.7 896.1 430.5 896.7 431.4 897.4 432.1 898.3 432.5 899.2 432.5 900.2 432.3 901.2 431.9 902.2 431.7 903.2 431.6 904.1 431.8 905.1 432.1 906.0 432.6 906.8 433.2 907.6 433.9 908.3 434.6 908.9 435.4 909.5 436.2 910.0 437.1 910.5 437.9 910.9 438.8 911.2 439.7 911.5 440.7 911.8 441.6 912.0 442.6 912.2 443.5 912.4 444.5 912.6 445.5 912.8 446.5 912.9 447.5 913.1 448.5 913.3 449.5 913.4 450.5 913.6 451.5 913.8 452.5 913.9 453.5 914.1 454.4 914.2 455.4 914.4 456.4 914.5 457.4 914.7 458.4 914.8 459.4 915.0 460.4 915.1 461.4 915.3 462.4 915.4 463.4 915.6 464.4 915.7 465.4 915.9 466.4 916.0 467.4 916.1 468.4 916.3 469.4 916.4 470.3 916.5 471.3 916.6 472.3 916.8 473.3 916.9 474.3 917.0 475.3 917.1 476.3 917.2 477.2 917.3 478.2 917.5 479.2 917.6 480.2 917.7 481.2 917.8 482.1 917.9 483.1 918.0 484.1 918.1 485.1 918.2 486.0 918.3 487.0 918.4 488.0 918.5 489.0 918.7 490.0 918.8 491.0 919.0 492.0 919.2 493.0 919.4 494.0 919.6 495.0 919.8 496.0 920.1 497.1 920.4 498.1 920.7 499.2 921.0 500.2 921.4 501.2 921.8 502.1 922.3 502.8 922.9 503.3 923.5 503.5 924.2 503.3 925.0 502.8 925.8 502.0 926.7 501.1 927.5 500.4 928.2 499.8 928.8 499.6 929.2 500.0 929.6 500.9 929.8 502.0 930.1 503.2 930.3 504.3 930.5 505.3 930.6 506.4 930.8 507.3 931.0 508.3 931.1 509.2 931.2 510.2 931.4 511.1 931.5 512.1 931.6 513.0 931.8 514.0 931.9 515.0 932.0 516.0 932.2 517.0 932.3 518.0 932.4 519.0 932.5 520.1 932.7 521.1 932.8 522.1 932.9 523.2 933.0 524.2 933.1 525.2 933.2 526.2 933.3 527.2 933.5 528.2 933.6 529.2 933.7 530.2 933.8 531.2 933.9 532.1 934.0 533.1 934.1 534.0 934.2 535.0 934.3 535.9 934.4 536.9 934.5 537.8 934.6 538.7 934.7 539.7 934.8 540.7 935.0 541.6 935.1 542.6 935.2 543.6 935.4 544.6 935.5 545.6 935.6 546.7 935.8 547.7 936.0 548.8 936.1 549.9 936.3 551.0 936.5 552.1 936.7 553.3 936.9 554.5 937.1 555.7 937.4 556.8 937.6 557.8 937.9 558.6 938.2 559.2 938.5 559.4 938.9 559.3 939.3 558.8 939.7 558.1 940.0 557.1 940.4 556.0 940.7 554.8 941.0 553.6 941.2 552.5 941.4 551.4 941.5 550.4 941.6 549.4 941.7 548.5 941.8 547.5 942.0 546.5 942.1 545.6 942.2 544.6 942.4 543.6 942.5 542.6 942.7 541.6 942.9 540.6 943.0 539.6 943.2 538.7 943.4 537.7 943.5 536.7 943.7 535.7 943.9 534.7 944.0 533.7 944.2 532.7 944.4 531.7 944.5 530.7 944.6 529.8 944.8 528.8 944.9 527.8 945.0 526.9 945.1 525.9 945.3 524.9 945.5 523.9 945.7 522.9 946.1 521.8 946.5 520.6 947.0 519.6 947.6 518.8 948.3 518.4 948.9 518.5 949.6 519.0 950.2 519.8 950.8 520.8 951.3 521.8 951.8 522.8 952.3 523.8 952.7 524.7 953.0 525.7 953.4 526.6 953.7 527.5 954.0 528.4 954.3 529.3 954.6 530.3 955.0 531.2 955.3 532.1 955.6 533.0 956.0 534.0 956.3 534.9 956.7 535.9 957.0 536.8 957.4 537.8 957.7 538.7 958.1 539.7 958.4 540.6 958.7 541.6 959.0 542.5 959.3 543.5 959.5 544.5 959.8 545.4 960.1 546.4 960.3 547.4 960.6 548.3 960.8 549.3 961.1 550.3 961.4 551.2 961.6 552.2 961.9 553.1 962.2 554.1 962.4 555.1 962.7 556.0 963.0 557.0 963.3 557.9 963.6 558.9 964.0 559.8 964.3 560.7 964.6 561.7 965.0 562.6 965.4 563.5 965.7 564.5 966.1 565.4 966.5 566.3 966.9 567.2 967.3 568.1 967.7 569.1 968.1 570.0 968.5 570.9 968.9 571.8 969.3 572.8 969.6 573.7 969.9 574.6 970.2 575.6 970.4 576.5 970.7 577.5 970.9 578.5 971.0 579.5 971.2 580.4 971.4 581.4 971.5 582.4 971.6 583.4 971.8 584.4 971.9 585.4 972.0 586.4 972.1 587.4 972.2 588.4 972.3 589.4 972.4 590.4 972.6 591.4 972.7 592.4 972.8 593.4 972.9 594.4 973.1 595.4 973.2 596.3 973.3 597.3 973.4 598.3 973.6 599.3 973.7 600.3 973.9 601.3 974.0 602.3 974.1 603.3 974.3 604.3 974.4 605.3 974.5 606.3 974.7 607.3 974.8 608.3 975.0 609.2 975.1 610.2 975.2 611.2 975.4 612.2 975.5 613.2 975.7 614.2 975.8 615.2 975.9 616.2 976.1 617.2 976.2 618.2 976.4 619.1 976.5 620.1 976.6 621.1 976.8 622.1 976.9 623.1 977.0 624.1 977.2 625.1 977.3 626.1 977.4 627.1 977.5 628.1 977.6 629.1 977.8 630.0 977.9 631.0 978.0 632.0 978.1 633.0 978.2 634.0 978.3 635.0 978.4 636.0 978.5 637.0 978.6 638.0 978.7 639.0 978.8 640.0 978.9 641.0 979.0 642.0 979.1 643.0 979.2 644.0 979.4 644.9 979.5 645.9 979.6 646.9 979.7 647.9 979.8 648.9 979.9 649.9 980.0 650.9 980.1 651.9 980.2 652.9 980.4 653.9 980.5 654.9 980.6 655.9 980.8 656.9 980.9 657.8 981.1 658.8 981.2 659.8 981.4 660.8 981.5 661.8 981.7 662.8 981.9 663.8 982.1 664.8 982.3 665.7 982.5 666.7 982.7 667.7 982.9 668.7 983.1 669.7 983.4 670.7 983.6 671.6 983.9 672.6 984.1 673.6 984.4 674.6 984.7 675.5 985.0 676.5 985.4 677.4 985.8 678.3 986.3 679.1 986.8 679.8 987.5 680.5 988.2 681.1 989.0 681.6 990.0 682.1 991.0 682.4 992.1 682.6 993.2 682.8 994.3 682.9 995.4 682.9 996.4 682.9 997.3 682.9 998.3 682.9 999.2 682.9 1000.1 682.8 1001.1 682.8 1002.1 682.8 1003.1 682.9 1004.2 682.9 1005.3 683.0 1006.5 683.2 1007.5 683.2 1008.5 683.2 1009.2 683.0" fill="none" stroke="#00f" stroke-opacity=".8" stroke-width="5" stroke-linejoin="round" stroke-linecap="butt"/>
</g>
<g stroke="#000" stroke-width="2.00" fill="none">
<rect x="141.5" y="39.3" width="867.7" height="643.7"/>
<line x1="270.7" y1="683.0" x2="270.7" y2="690.8"/>
<line x1="444.3" y1="683.0" x2="444.3" y2="690.8"/>
<line x1="617.9" y1="683.0" x2="617.9" y2="690.8"/>
<line x1="791.6" y1="683.0" x2="791.6" y2="690.8"/>
<line x1="965.2" y1="683.0" x2="965.2" y2="690.8"/>
<line x1="133.7" y1="683.0" x2="141.5" y2="683.0"/>
<line x1="133.7" y1="594.9" x2="141.5" y2="594.9"/>
<line x1="133.7" y1="506.7" x2="141.5" y2="506.7"/>
<line x1="133.7" y1="418.6" x2="141.5" y2="418.6"/>
<line x1="133.7" y1="330.4" x2="141.5" y2="330.4"/>
<line x1="133.7" y1="242.2" x2="141.5" y2="242.2"/>
<line x1="133.7" y1="154.1" x2="141.5" y2="154.1"/>
<line x1="133.7" y1="66.0" x2="141.5" y2="66.0"/>
</g>
<g font-family='DejaVu Sans, Liberation Sans, sans-serif' font-size="34.5" fill="#000" stroke="#000" stroke-width=".4">
<text x="270.7" y="724.8" text-anchor="middle">−10</text>
<text x="444.3" y="724.8" text-anchor="middle">−8</text>
<text x="617.9" y="724.8" text-anchor="middle">−6</text>
<text x="791.6" y="724.8" text-anchor="middle">−4</text>
<text x="965.2" y="724.8" text-anchor="middle">−2</text>
<text x="125.8" y="695.6" text-anchor="end">0</text>
<text x="125.8" y="607.5" text-anchor="end">5</text>
<text x="125.8" y="519.3" text-anchor="end">10</text>
<text x="125.8" y="431.2" text-anchor="end">15</text>
<text x="125.8" y="343.0" text-anchor="end">20</text>
<text x="125.8" y="254.8" text-anchor="end">25</text>
<text x="125.8" y="166.7" text-anchor="end">30</text>
<text x="125.8" y="78.6" text-anchor="end">35</text>
</g>
<rect x="706.9" y="52.8" width="288" height="142.4" rx="4.5" fill="#fff" fill-opacity=".8" stroke="#d0d0d0" stroke-width="2.1"/>
<line x1="717.9" y1="77.1" x2="772.5" y2="77.1" stroke="#f00" stroke-width="5" stroke-dasharray="16.9 7"/>
<line x1="717.9" y1="118.2" x2="772.5" y2="118.2" stroke="#00f" stroke-opacity=".8" stroke-width="5" stroke-linecap="square"/>
<rect x="717.8" y="155.9" width="54.6" height="19.15" fill="#008000" fill-opacity=".2" stroke="#008000" stroke-opacity=".2" stroke-width="4.3"/>
<g font-family='DejaVu Sans, Liberation Sans, sans-serif' font-size="26.7" fill="#000" stroke="#000" stroke-width=".3">
<text x="794.1" y="84.5">⟨</text>
<text x="804.9" y="84.5">Γ</text>
<text x="820.2" y="88.9" font-size="18.7">1%</text>
<text x="851.3" y="84.5">⟩</text>
<text x="861.8" y="88.9" font-size="18.7">40</text>
<text x="793.8" y="126.8">Γ</text>
<text x="809.6" y="130.9" font-size="18.7" font-style="italic">p</text>
<text x="793.9" y="174.6">(</text>
<text x="803.7" y="174.6">Γ</text>
<text x="819.9" y="178.9" font-size="18.7" font-style="italic">p</text>
<text x="838.0" y="174.6">−</text>
<text x="866.5" y="174.6">⟨</text>
<text x="876.4" y="174.6">Γ</text>
<text x="891.9" y="179.1" font-size="18.7">1%</text>
<text x="923.6" y="174.6">⟩</text>
<text x="934.2" y="179.1" font-size="18.7">40</text>
<text x="959.4" y="174.6">)</text>
<text x="969.4" y="163.6" font-size="18.7">2</text>
</g>
<g font-family='Liberation Sans, sans-serif' font-weight="bold" font-size="55" fill="#000">
<text x="26.5" y="39.6">a)</text>
<text x="26.5" y="786.2">b)</text>
</g>
<g font-family='DejaVu Sans, Liberation Sans, sans-serif' font-size="35.6" fill="#000" stroke="#000" stroke-width=".4">
<text x="575.3" y="768.8" text-anchor="middle" letter-spacing=".55">E (eV)</text>
<text x="582.5" y="1185.5" text-anchor="middle" letter-spacing=".55">n (%)</text>
<g transform="rotate(-90)">
<text x="-431.3" y="57.0" font-style="italic">σ</text>
<text x="-408.8" y="62.0" font-size="24.9" font-style="italic">x</text>
<text x="-393.2" y="62.0" font-size="24.9" font-style="italic">x</text>
<text x="-379.4" y="64.5" font-size="29.5">(</text>
<text x="-359.9" y="39.7" font-size="26.3">2e</text>
<text x="-326.4" y="29.7" font-size="17.8">2</text>
<rect x="-360.1" y="46.6" width="44.7" height="2.4" stroke="none"/>
<text x="-347.0" y="71.3" font-size="26.3" font-style="italic">h</text>
<text x="-312.2" y="64.5" font-size="29.5">)</text>
</g>
<g transform="rotate(-90)">
<text x="-1046.5" y="44.4">⟨</text>
<text x="-1033.5" y="44.4" font-style="italic">χ</text>
<text x="-1012.6" y="44.4">⟩</text>
<text x="-997.9" y="50.0" font-size="26.0">20</text>
<text x="-952.3" y="44.4" letter-spacing=".6">(a.u.)</text>
</g>
</g>
<line x1="582.05" y1="801.3" x2="582.05" y2="1099.7" stroke="#f00" stroke-width="1.5" stroke-dasharray="3.9 1.65"/>
<line x1="194.1" y1="814.9" x2="194.1" y2="872.4" stroke="#00f" stroke-width="2.6"/>
<line x1="323.4" y1="964.7" x2="323.4" y2="1002.9" stroke="#00f" stroke-width="2.6"/>
<line x1="452.7" y1="1045.9" x2="452.7" y2="1067.7" stroke="#00f" stroke-width="2.6"/>
<line x1="582.0" y1="1074.9" x2="582.0" y2="1086.7" stroke="#00f" stroke-width="2.6"/>
<line x1="711.4" y1="1057.4" x2="711.4" y2="1076.3" stroke="#00f" stroke-width="2.6"/>
<line x1="840.7" y1="1005.1" x2="840.7" y2="1037.7" stroke="#00f" stroke-width="2.6"/>
<line x1="970.0" y1="929.9" x2="970.0" y2="976.3" stroke="#00f" stroke-width="2.6"/>
<circle cx="194.1" cy="843.9" r="4.1" fill="#000"/>
<circle cx="323.4" cy="984.0" r="4.1" fill="#000"/>
<circle cx="452.7" cy="1056.6" r="4.1" fill="#000"/>
<circle cx="582.0" cy="1080.4" r="4.1" fill="#000"/>
<circle cx="711.4" cy="1066.9" r="4.1" fill="#000"/>
<circle cx="840.7" cy="1021.4" r="4.1" fill="#000"/>
<circle cx="970.0" cy="953.1" r="4.1" fill="#000"/>
<g stroke="#000" stroke-width="2.00" fill="none">
<rect x="155.6" y="801.3" width="853.3" height="298.4"/>
<line x1="194.1" y1="1099.7" x2="194.1" y2="1107.5"/>
<line x1="349.3" y1="1099.7" x2="349.3" y2="1107.5"/>
<line x1="504.5" y1="1099.7" x2="504.5" y2="1107.5"/>
<line x1="659.6" y1="1099.7" x2="659.6" y2="1107.5"/>
<line x1="814.8" y1="1099.7" x2="814.8" y2="1107.5"/>
<line x1="970.0" y1="1099.7" x2="970.0" y2="1107.5"/>
<line x1="147.8" y1="1011.6" x2="155.6" y2="1011.6"/>
<line x1="147.8" y1="912.8" x2="155.6" y2="912.8"/>
<line x1="147.8" y1="814.0" x2="155.6" y2="814.0"/>
</g>
<g font-family='DejaVu Sans, Liberation Sans, sans-serif' font-size="34.5" fill="#000" stroke="#000" stroke-width=".4">
<text x="194.1" y="1141.2" text-anchor="middle">0.0</text>
<text x="349.3" y="1141.2" text-anchor="middle">0.2</text>
<text x="504.5" y="1141.2" text-anchor="middle">0.4</text>
<text x="659.6" y="1141.2" text-anchor="middle">0.6</text>
<text x="814.8" y="1141.2" text-anchor="middle">0.8</text>
<text x="970.0" y="1141.2" text-anchor="middle">1.0</text>
<text x="139.8" y="1024.2" text-anchor="end">0.02</text>
<text x="139.8" y="925.4" text-anchor="end">0.04</text>
<text x="139.8" y="826.6" text-anchor="end">0.06</text>
</g>
</svg>
</body></html>
